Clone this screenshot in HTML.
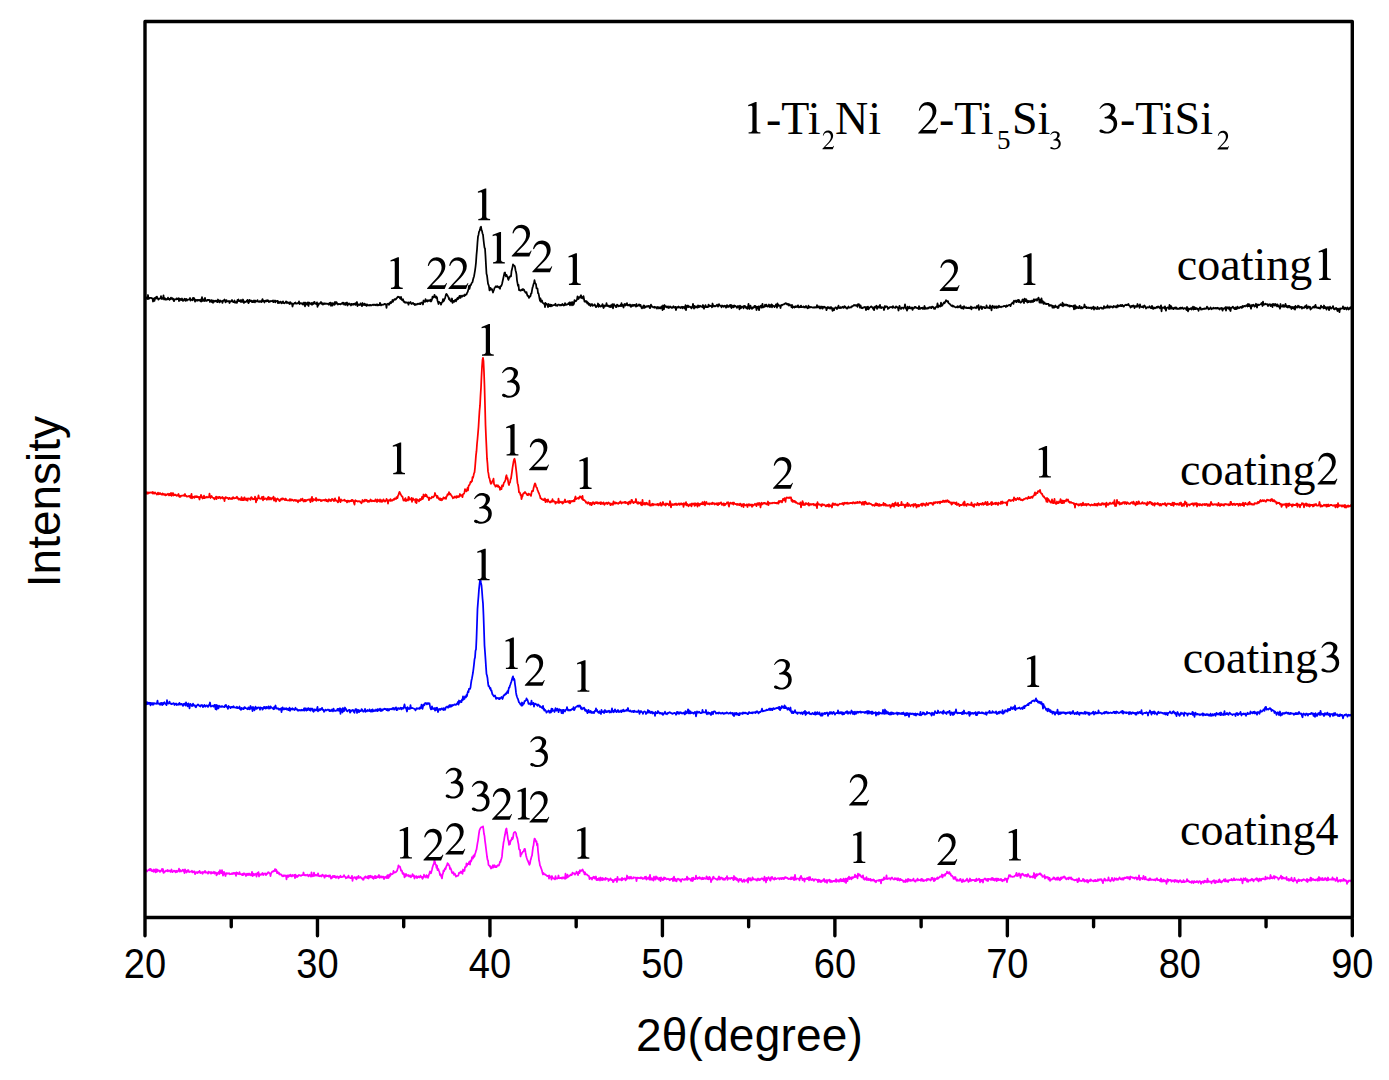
<!DOCTYPE html>
<html><head><meta charset="utf-8"><style>
html,body{margin:0;padding:0;background:#fff;width:1389px;height:1080px;overflow:hidden}
svg{display:block}
.sf{font-family:"Liberation Serif",serif;font-size:46px;fill:#000}
.ss{font-family:"Liberation Sans",sans-serif;fill:#000}
</style></head><body>
<svg width="1389" height="1080" viewBox="0 0 1389 1080">
<path d="M145.0,298.2 145.5,299.1 146.0,298.6 146.5,297.5 147.0,297.7 147.5,299.0 148.0,295.0 148.5,298.8 149.0,298.8 149.5,298.1 150.0,297.9 150.5,297.8 151.0,297.8 151.5,298.2 152.0,298.3 152.5,298.4 153.0,301.5 153.5,298.9 154.0,298.5 154.5,300.9 155.0,297.8 155.5,297.6 156.0,298.6 156.5,296.8 157.0,296.7 157.5,298.5 158.0,298.4 158.5,299.7 159.0,298.7 159.5,298.6 160.0,298.6 160.5,298.1 161.0,296.1 161.5,298.0 162.0,299.0 162.5,298.1 163.0,298.5 163.5,295.4 164.0,299.5 164.5,298.0 165.0,298.3 165.5,299.7 166.0,298.8 166.5,299.6 167.0,299.1 167.5,299.3 168.0,297.7 168.5,299.0 169.0,298.9 169.5,299.9 170.0,298.7 170.5,299.1 171.0,297.6 171.5,298.8 172.0,298.7 172.5,298.2 173.0,299.7 173.5,298.9 174.0,301.2 174.5,299.3 175.0,299.3 175.5,299.4 176.0,299.5 176.5,298.4 177.0,299.1 177.5,298.7 178.0,299.1 178.5,298.2 179.0,301.2 179.5,298.7 180.0,299.6 180.5,299.0 181.0,300.3 181.5,299.7 182.0,298.5 182.5,300.2 183.0,300.9 183.5,300.6 184.0,299.6 184.5,298.7 185.0,298.9 185.5,300.9 186.0,299.6 186.5,298.9 187.0,300.6 187.5,299.8 188.0,299.7 188.5,299.5 189.0,299.5 189.5,299.2 190.0,298.0 190.5,300.7 191.0,299.7 191.5,299.8 192.0,299.5 192.5,300.3 193.0,297.8 193.5,299.7 194.0,298.0 194.5,298.9 195.0,301.7 195.5,300.2 196.0,299.8 196.5,300.0 197.0,300.9 197.5,299.8 198.0,300.2 198.5,300.4 199.0,299.8 199.5,300.1 200.0,300.6 200.5,301.3 201.0,299.3 201.5,301.5 202.0,297.1 202.5,300.7 203.0,300.9 203.5,299.4 204.0,300.1 204.5,301.0 205.0,297.9 205.5,300.5 206.0,300.9 206.5,300.4 207.0,300.8 207.5,299.9 208.0,299.8 208.5,300.2 209.0,299.8 209.5,300.2 210.0,302.0 210.5,300.6 211.0,300.3 211.5,300.1 212.0,302.2 212.5,300.5 213.0,302.8 213.5,300.7 214.0,300.7 214.5,301.7 215.0,301.1 215.5,300.8 216.0,300.6 216.5,301.7 217.0,300.6 217.5,302.1 218.0,299.5 218.5,300.7 219.0,300.9 219.5,302.4 220.0,300.4 220.5,301.6 221.0,301.2 221.5,301.3 222.0,301.2 222.5,302.9 223.0,300.7 223.5,300.9 224.0,300.5 224.5,299.5 225.0,300.5 225.5,302.3 226.0,301.9 226.5,300.2 227.0,301.3 227.5,301.2 228.0,301.4 228.5,301.5 229.0,300.9 229.5,303.0 230.0,301.3 230.5,301.5 231.0,301.6 231.5,300.7 232.0,300.0 232.5,301.3 233.0,301.9 233.5,302.1 234.0,301.9 234.5,300.5 235.0,302.7 235.5,302.1 236.0,302.5 236.5,301.6 237.0,302.8 237.5,300.0 238.0,299.7 238.5,299.5 239.0,301.2 239.5,301.2 240.0,301.0 240.5,301.8 241.0,299.9 241.5,301.8 242.0,300.9 242.5,301.9 243.0,299.5 243.5,301.3 244.0,303.0 244.5,301.6 245.0,302.2 245.5,301.8 246.0,301.7 246.5,300.9 247.0,301.6 247.5,299.8 248.0,302.1 248.5,303.2 249.0,302.3 249.5,299.9 250.0,301.2 250.5,301.1 251.0,300.4 251.5,301.6 252.0,302.0 252.5,301.0 253.0,302.2 253.5,301.9 254.0,300.4 254.5,301.8 255.0,302.3 255.5,300.6 256.0,301.4 256.5,301.5 257.0,301.4 257.5,300.1 258.0,301.5 258.5,301.4 259.0,301.9 259.5,301.8 260.0,300.9 260.5,301.5 261.0,302.0 261.5,302.1 262.0,300.3 262.5,299.1 263.0,301.3 263.5,300.5 264.0,301.1 264.5,302.5 265.0,300.8 265.5,300.6 266.0,301.0 266.5,301.4 267.0,300.1 267.5,301.0 268.0,300.3 268.5,301.5 269.0,302.1 269.5,301.2 270.0,301.2 270.5,301.5 271.0,300.9 271.5,301.0 272.0,301.3 272.5,301.5 273.0,300.4 273.5,302.2 274.0,301.8 274.5,301.4 275.0,300.5 275.5,302.3 276.0,301.0 276.5,301.0 277.0,301.1 277.5,300.8 278.0,303.2 278.5,301.7 279.0,301.8 279.5,302.9 280.0,302.4 280.5,301.6 281.0,302.2 281.5,303.3 282.0,302.2 282.5,302.8 283.0,301.3 283.5,302.9 284.0,303.1 284.5,303.3 285.0,302.9 285.5,302.4 286.0,301.3 286.5,302.7 287.0,303.2 287.5,302.1 288.0,302.4 288.5,302.9 289.0,303.4 289.5,304.0 290.0,302.1 290.5,302.3 291.0,303.6 291.5,303.3 292.0,303.4 292.5,306.5 293.0,304.5 293.5,303.9 294.0,303.7 294.5,303.0 295.0,303.4 295.5,302.5 296.0,303.7 296.5,303.7 297.0,303.6 297.5,303.1 298.0,303.0 298.5,303.1 299.0,301.4 299.5,304.1 300.0,303.3 300.5,303.1 301.0,303.4 301.5,303.7 302.0,303.2 302.5,304.1 303.0,304.6 303.5,303.2 304.0,302.5 304.5,303.9 305.0,306.3 305.5,302.6 306.0,303.8 306.5,304.2 307.0,304.7 307.5,302.5 308.0,302.4 308.5,306.0 309.0,302.6 309.5,302.8 310.0,303.7 310.5,303.5 311.0,304.1 311.5,303.0 312.0,304.8 312.5,303.1 313.0,304.2 313.5,302.3 314.0,303.6 314.5,301.8 315.0,303.4 315.5,303.4 316.0,304.1 316.5,303.7 317.0,302.3 317.5,306.9 318.0,304.8 318.5,305.0 319.0,303.3 319.5,303.7 320.0,303.3 320.5,302.9 321.0,302.0 321.5,303.9 322.0,303.0 322.5,303.2 323.0,304.7 323.5,303.8 324.0,303.2 324.5,304.1 325.0,303.4 325.5,303.9 326.0,303.4 326.5,303.8 327.0,304.0 327.5,303.8 328.0,303.6 328.5,304.3 329.0,304.7 329.5,303.0 330.0,302.8 330.5,302.7 331.0,305.9 331.5,305.1 332.0,303.2 332.5,305.6 333.0,303.1 333.5,303.6 334.0,303.6 334.5,304.8 335.0,301.9 335.5,303.3 336.0,303.7 336.5,302.2 337.0,303.1 337.5,303.5 338.0,304.5 338.5,304.0 339.0,304.2 339.5,304.0 340.0,303.9 340.5,304.3 341.0,303.8 341.5,303.9 342.0,303.1 342.5,302.7 343.0,303.9 343.5,302.7 344.0,304.6 344.5,303.6 345.0,303.2 345.5,304.9 346.0,302.8 346.5,303.6 347.0,302.5 347.5,305.5 348.0,303.8 348.5,304.4 349.0,303.4 349.5,304.4 350.0,304.2 350.5,304.1 351.0,305.5 351.5,303.8 352.0,303.9 352.5,304.3 353.0,304.8 353.5,303.8 354.0,304.4 354.5,303.6 355.0,304.3 355.5,304.8 356.0,302.9 356.5,304.7 357.0,302.0 357.5,306.1 358.0,304.4 358.5,304.3 359.0,304.9 359.5,304.6 360.0,305.0 360.5,303.4 361.0,304.7 361.5,304.8 362.0,306.1 362.5,303.0 363.0,304.7 363.5,305.0 364.0,304.9 364.5,303.6 365.0,305.1 365.5,304.4 366.0,304.4 366.5,305.9 367.0,304.3 367.5,304.9 368.0,305.4 368.5,305.3 369.0,305.0 369.5,305.5 370.0,304.8 370.5,305.1 371.0,305.5 371.5,305.1 372.0,305.1 372.5,304.7 373.0,304.9 373.5,304.6 374.0,305.2 374.5,304.6 375.0,304.7 375.5,305.2 376.0,304.7 376.5,304.4 377.0,305.4 377.5,304.5 378.0,305.4 378.5,305.2 379.0,304.6 379.5,305.0 380.0,302.8 380.5,304.4 381.0,305.4 381.5,304.7 382.0,304.6 382.5,304.8 383.0,304.8 383.5,304.6 384.0,304.4 384.5,303.8 385.0,304.1 385.5,304.1 386.0,304.3 386.5,307.9 387.0,304.2 387.5,304.0 388.0,303.6 388.5,303.7 389.0,304.8 389.5,304.0 390.0,302.5 390.5,302.0 391.0,303.1 391.5,301.8 392.0,301.9 392.5,300.0 393.0,301.8 393.5,300.2 394.0,300.1 394.5,299.1 395.0,299.2 395.5,299.6 396.0,299.2 396.5,298.1 397.0,298.2 397.5,297.2 398.0,296.7 398.5,297.2 399.0,296.8 399.5,297.3 400.0,298.3 400.5,298.7 401.0,296.9 401.5,299.3 402.0,300.1 402.5,299.9 403.0,299.2 403.5,301.5 404.0,301.2 404.5,302.5 405.0,302.2 405.5,302.7 406.0,302.1 406.5,302.6 407.0,302.8 407.5,303.0 408.0,302.3 408.5,304.7 409.0,302.7 409.5,302.8 410.0,302.8 410.5,302.0 411.0,303.3 411.5,304.0 412.0,303.9 412.5,303.0 413.0,302.9 413.5,303.5 414.0,304.4 414.5,303.9 415.0,305.2 415.5,304.2 416.0,304.2 416.5,304.5 417.0,304.5 417.5,303.8 418.0,303.7 418.5,304.0 419.0,304.1 419.5,303.3 420.0,304.1 420.5,304.2 421.0,302.8 421.5,302.6 422.0,302.5 422.5,302.6 423.0,304.5 423.5,300.5 424.0,301.6 424.5,301.3 425.0,301.8 425.5,299.2 426.0,301.3 426.5,300.3 427.0,300.6 427.5,301.5 428.0,300.1 428.5,300.9 429.0,300.5 429.5,300.4 430.0,301.1 430.5,299.6 431.0,301.5 431.5,300.8 432.0,299.3 432.5,296.7 433.0,297.8 433.5,297.0 434.0,296.7 434.5,294.8 435.0,297.2 435.5,297.5 436.0,296.4 436.5,298.0 437.0,297.3 437.5,300.8 438.0,302.1 438.5,304.0 439.0,301.9 439.5,302.4 440.0,302.7 440.5,302.9 441.0,304.7 441.5,303.2 442.0,302.2 442.5,302.0 443.0,299.2 443.5,301.3 444.0,300.7 444.5,299.1 445.0,298.4 445.5,296.4 446.0,294.4 446.5,293.9 447.0,294.8 447.5,295.5 448.0,296.4 448.5,297.2 449.0,299.3 449.5,298.2 450.0,300.4 450.5,300.2 451.0,301.4 451.5,301.1 452.0,298.5 452.5,302.9 453.0,301.5 453.5,300.8 454.0,301.9 454.5,301.2 455.0,300.0 455.5,299.8 456.0,301.3 456.5,299.1 457.0,299.6 457.5,298.0 458.0,299.3 458.5,297.3 459.0,298.0 459.5,295.9 460.0,297.5 460.5,297.9 461.0,295.6 461.5,296.1 462.0,296.8 462.5,296.2 463.0,295.5 463.5,295.8 464.0,295.3 464.5,296.0 465.0,294.5 465.5,295.1 466.0,294.6 466.5,294.5 467.0,293.0 467.5,292.3 468.0,290.9 468.5,289.0 469.0,285.9 469.5,288.8 470.0,286.6 470.5,284.8 471.0,284.9 471.5,283.3 472.0,282.7 472.5,282.1 473.0,279.7 473.5,277.9 474.0,276.5 474.5,273.6 475.0,270.6 475.5,267.0 476.0,262.3 476.5,254.9 477.0,249.6 477.5,242.3 478.0,236.6 478.5,234.9 479.0,231.8 479.5,230.8 480.0,229.6 480.5,227.3 481.0,226.7 481.5,230.0 482.0,230.9 482.5,233.5 483.0,234.7 483.5,239.7 484.0,244.0 484.5,247.7 485.0,248.4 485.5,256.1 486.0,265.3 486.5,273.8 487.0,275.4 487.5,279.7 488.0,283.6 488.5,284.8 489.0,286.6 489.5,290.4 490.0,288.8 490.5,287.8 491.0,289.6 491.5,289.2 492.0,289.1 492.5,290.7 493.0,292.5 493.5,290.8 494.0,289.8 494.5,288.1 495.0,287.4 495.5,286.6 496.0,286.2 496.5,287.0 497.0,286.7 497.5,286.2 498.0,287.2 498.5,287.3 499.0,286.9 499.5,288.0 500.0,288.8 500.5,286.2 501.0,286.2 501.5,285.5 502.0,284.0 502.5,281.8 503.0,279.5 503.5,277.2 504.0,274.9 504.5,272.8 505.0,272.5 505.5,275.1 506.0,276.4 506.5,274.9 507.0,276.2 507.5,276.7 508.0,278.9 508.5,279.9 509.0,277.5 509.5,277.8 510.0,276.4 510.5,276.0 511.0,276.3 511.5,271.3 512.0,269.2 512.5,267.1 513.0,264.4 513.5,265.6 514.0,265.7 514.5,265.7 515.0,267.0 515.5,270.2 516.0,271.9 516.5,274.6 517.0,280.3 517.5,283.1 518.0,285.9 518.5,284.8 519.0,290.1 519.5,289.6 520.0,290.4 520.5,290.7 521.0,290.4 521.5,289.7 522.0,289.6 522.5,290.1 523.0,289.0 523.5,289.9 524.0,289.6 524.5,291.1 525.0,291.7 525.5,292.7 526.0,292.9 526.5,292.1 527.0,294.4 527.5,295.8 528.0,295.6 528.5,296.6 529.0,297.9 529.5,296.4 530.0,296.6 530.5,296.0 531.0,293.6 531.5,293.4 532.0,290.3 532.5,287.6 533.0,286.2 533.5,284.2 534.0,283.1 534.5,280.1 535.0,282.7 535.5,283.7 536.0,284.2 536.5,288.4 537.0,288.2 537.5,288.7 538.0,293.2 538.5,293.4 539.0,295.7 539.5,298.6 540.0,300.9 540.5,298.3 541.0,301.9 541.5,301.5 542.0,300.5 542.5,302.6 543.0,303.0 543.5,303.3 544.0,303.8 544.5,303.7 545.0,307.1 545.5,302.9 546.0,304.5 546.5,303.8 547.0,304.6 547.5,305.2 548.0,307.1 548.5,304.0 549.0,304.4 549.5,306.1 550.0,306.2 550.5,304.7 551.0,306.4 551.5,304.9 552.0,305.0 552.5,305.8 553.0,305.2 553.5,305.2 554.0,305.1 554.5,305.1 555.0,304.4 555.5,303.8 556.0,305.7 556.5,305.3 557.0,305.4 557.5,305.8 558.0,304.6 558.5,304.6 559.0,304.7 559.5,304.8 560.0,305.6 560.5,304.9 561.0,304.8 561.5,305.2 562.0,304.4 562.5,304.0 563.0,305.3 563.5,305.5 564.0,304.6 564.5,305.2 565.0,303.1 565.5,304.8 566.0,305.0 566.5,304.3 567.0,304.3 567.5,304.5 568.0,304.3 568.5,303.2 569.0,304.2 569.5,302.4 570.0,305.3 570.5,302.6 571.0,302.6 571.5,302.3 572.0,305.4 572.5,302.1 573.0,302.5 573.5,304.8 574.0,303.5 574.5,300.1 575.0,301.5 575.5,301.3 576.0,301.1 576.5,300.1 577.0,299.7 577.5,296.4 578.0,297.5 578.5,299.0 579.0,297.2 579.5,297.5 580.0,297.5 580.5,296.1 581.0,295.2 581.5,298.0 582.0,297.0 582.5,297.0 583.0,298.5 583.5,296.1 584.0,298.8 584.5,301.6 585.0,301.6 585.5,301.5 586.0,300.9 586.5,302.5 587.0,301.6 587.5,303.7 588.0,302.6 588.5,303.8 589.0,305.0 589.5,303.7 590.0,304.1 590.5,306.0 591.0,304.7 591.5,304.8 592.0,303.9 592.5,305.8 593.0,305.5 593.5,305.4 594.0,305.5 594.5,304.3 595.0,305.0 595.5,305.7 596.0,307.2 596.5,306.4 597.0,306.0 597.5,305.8 598.0,303.5 598.5,306.9 599.0,304.6 599.5,305.1 600.0,306.3 600.5,306.6 601.0,306.5 601.5,305.9 602.0,305.2 602.5,304.1 603.0,306.7 603.5,308.0 604.0,305.4 604.5,306.8 605.0,305.7 605.5,305.6 606.0,305.9 606.5,303.1 607.0,305.8 607.5,305.2 608.0,306.2 608.5,305.8 609.0,306.7 609.5,306.9 610.0,305.5 610.5,305.4 611.0,307.2 611.5,305.8 612.0,304.6 612.5,304.1 613.0,308.4 613.5,305.8 614.0,304.2 614.5,305.7 615.0,305.7 615.5,305.6 616.0,307.2 616.5,307.2 617.0,304.7 617.5,304.8 618.0,305.5 618.5,306.4 619.0,305.8 619.5,306.0 620.0,305.7 620.5,305.0 621.0,306.2 621.5,303.1 622.0,305.9 622.5,304.9 623.0,305.4 623.5,307.5 624.0,305.5 624.5,304.0 625.0,305.3 625.5,305.6 626.0,303.9 626.5,304.9 627.0,303.1 627.5,305.4 628.0,305.1 628.5,305.3 629.0,304.9 629.5,305.5 630.0,304.5 630.5,306.3 631.0,306.9 631.5,305.1 632.0,305.1 632.5,306.0 633.0,304.7 633.5,305.8 634.0,304.8 634.5,305.7 635.0,305.0 635.5,305.5 636.0,306.7 636.5,304.0 637.0,306.2 637.5,305.6 638.0,305.5 638.5,305.5 639.0,304.4 639.5,305.4 640.0,306.1 640.5,304.8 641.0,306.3 641.5,307.8 642.0,308.3 642.5,307.2 643.0,306.8 643.5,305.5 644.0,308.2 644.5,305.7 645.0,307.3 645.5,307.4 646.0,306.7 646.5,306.6 647.0,306.0 647.5,306.7 648.0,306.4 648.5,305.9 649.0,305.9 649.5,307.5 650.0,308.2 650.5,306.2 651.0,304.6 651.5,306.7 652.0,306.3 652.5,306.6 653.0,307.4 653.5,307.2 654.0,307.3 654.5,306.8 655.0,307.8 655.5,307.1 656.0,307.3 656.5,307.4 657.0,308.6 657.5,307.0 658.0,307.8 658.5,307.1 659.0,308.5 659.5,307.3 660.0,307.4 660.5,308.4 661.0,307.7 661.5,306.3 662.0,306.5 662.5,310.1 663.0,305.5 663.5,307.0 664.0,309.1 664.5,305.0 665.0,306.6 665.5,306.8 666.0,306.2 666.5,307.3 667.0,307.5 667.5,307.0 668.0,306.3 668.5,308.0 669.0,307.9 669.5,307.4 670.0,306.4 670.5,307.3 671.0,307.5 671.5,307.2 672.0,308.1 672.5,307.1 673.0,307.3 673.5,306.2 674.0,307.3 674.5,307.7 675.0,307.6 675.5,306.8 676.0,310.0 676.5,307.6 677.0,307.1 677.5,307.1 678.0,307.7 678.5,306.5 679.0,307.4 679.5,307.5 680.0,307.2 680.5,308.1 681.0,307.1 681.5,307.1 682.0,306.7 682.5,308.3 683.0,306.8 683.5,307.4 684.0,307.0 684.5,308.5 685.0,308.6 685.5,305.2 686.0,310.1 686.5,307.2 687.0,305.8 687.5,307.0 688.0,305.5 688.5,307.1 689.0,306.4 689.5,306.8 690.0,306.7 690.5,307.2 691.0,307.7 691.5,308.4 692.0,306.7 692.5,307.0 693.0,303.9 693.5,306.7 694.0,308.6 694.5,305.9 695.0,307.7 695.5,307.0 696.0,306.4 696.5,307.3 697.0,306.3 697.5,307.7 698.0,305.4 698.5,305.7 699.0,307.1 699.5,306.5 700.0,305.7 700.5,306.6 701.0,306.2 701.5,306.6 702.0,306.9 702.5,307.3 703.0,305.0 703.5,306.5 704.0,308.7 704.5,306.3 705.0,306.8 705.5,305.2 706.0,307.2 706.5,306.4 707.0,307.2 707.5,306.8 708.0,307.1 708.5,304.7 709.0,306.5 709.5,305.5 710.0,305.7 710.5,305.8 711.0,306.2 711.5,306.2 712.0,307.3 712.5,303.5 713.0,305.3 713.5,305.7 714.0,306.6 714.5,305.9 715.0,305.9 715.5,306.3 716.0,306.0 716.5,305.4 717.0,304.6 717.5,305.7 718.0,306.7 718.5,305.8 719.0,304.1 719.5,305.5 720.0,305.4 720.5,305.8 721.0,305.8 721.5,307.3 722.0,305.5 722.5,305.6 723.0,306.0 723.5,306.8 724.0,306.2 724.5,305.8 725.0,306.6 725.5,305.9 726.0,307.7 726.5,305.6 727.0,305.1 727.5,306.8 728.0,305.7 728.5,306.9 729.0,306.3 729.5,306.2 730.0,305.0 730.5,306.8 731.0,304.9 731.5,308.1 732.0,307.3 732.5,306.0 733.0,305.5 733.5,307.4 734.0,306.4 734.5,305.5 735.0,306.5 735.5,306.1 736.0,306.4 736.5,306.8 737.0,307.8 737.5,307.3 738.0,305.9 738.5,306.7 739.0,306.7 739.5,309.4 740.0,305.6 740.5,306.9 741.0,308.1 741.5,306.8 742.0,306.5 742.5,307.0 743.0,306.7 743.5,308.3 744.0,305.9 744.5,306.5 745.0,305.9 745.5,307.5 746.0,306.8 746.5,308.3 747.0,308.3 747.5,308.7 748.0,306.8 748.5,303.8 749.0,307.1 749.5,309.0 750.0,307.7 750.5,305.7 751.0,307.5 751.5,308.3 752.0,308.9 752.5,307.4 753.0,307.9 753.5,307.8 754.0,306.7 754.5,305.8 755.0,307.3 755.5,306.0 756.0,306.7 756.5,310.0 757.0,306.9 757.5,306.8 758.0,308.3 758.5,306.3 759.0,310.2 759.5,307.8 760.0,306.4 760.5,306.3 761.0,305.6 761.5,307.7 762.0,305.8 762.5,303.8 763.0,307.5 763.5,306.6 764.0,306.7 764.5,306.8 765.0,304.7 765.5,305.2 766.0,306.3 766.5,304.7 767.0,306.2 767.5,306.6 768.0,306.4 768.5,306.3 769.0,304.5 769.5,305.6 770.0,307.1 770.5,305.1 771.0,306.1 771.5,304.4 772.0,307.4 772.5,305.2 773.0,305.8 773.5,305.9 774.0,306.2 774.5,307.2 775.0,306.2 775.5,305.5 776.0,304.4 776.5,306.1 777.0,307.6 777.5,303.4 778.0,306.2 778.5,304.9 779.0,305.5 779.5,305.6 780.0,305.7 780.5,308.0 781.0,305.5 781.5,304.9 782.0,305.3 782.5,304.8 783.0,304.6 783.5,304.3 784.0,304.4 784.5,303.9 785.0,303.7 785.5,303.2 786.0,303.8 786.5,303.4 787.0,304.4 787.5,304.6 788.0,303.8 788.5,304.4 789.0,305.6 789.5,304.4 790.0,305.0 790.5,305.0 791.0,305.6 791.5,307.2 792.0,304.9 792.5,307.8 793.0,306.4 793.5,307.0 794.0,306.8 794.5,307.5 795.0,306.3 795.5,307.0 796.0,306.2 796.5,306.7 797.0,307.0 797.5,306.1 798.0,305.3 798.5,307.4 799.0,307.4 799.5,307.1 800.0,306.5 800.5,307.1 801.0,305.6 801.5,307.1 802.0,307.0 802.5,307.1 803.0,306.8 803.5,306.4 804.0,307.4 804.5,306.9 805.0,307.5 805.5,306.8 806.0,305.9 806.5,307.1 807.0,307.3 807.5,308.3 808.0,308.1 808.5,305.7 809.0,307.7 809.5,306.7 810.0,307.5 810.5,307.0 811.0,306.9 811.5,307.2 812.0,307.3 812.5,307.6 813.0,307.5 813.5,307.6 814.0,307.1 814.5,307.6 815.0,307.1 815.5,307.5 816.0,307.3 816.5,307.5 817.0,305.2 817.5,307.4 818.0,306.9 818.5,307.3 819.0,306.2 819.5,307.8 820.0,308.6 820.5,307.3 821.0,306.5 821.5,307.8 822.0,306.7 822.5,308.7 823.0,306.7 823.5,307.4 824.0,307.7 824.5,306.7 825.0,307.4 825.5,307.3 826.0,308.1 826.5,310.2 827.0,307.6 827.5,308.4 828.0,307.0 828.5,308.0 829.0,307.8 829.5,307.5 830.0,308.6 830.5,308.4 831.0,307.0 831.5,307.6 832.0,308.7 832.5,310.8 833.0,308.2 833.5,308.9 834.0,310.3 834.5,308.4 835.0,308.1 835.5,307.3 836.0,307.6 836.5,308.0 837.0,309.1 837.5,307.4 838.0,307.6 838.5,305.6 839.0,308.0 839.5,307.5 840.0,308.2 840.5,307.1 841.0,307.8 841.5,307.8 842.0,307.4 842.5,306.8 843.0,307.3 843.5,307.9 844.0,306.7 844.5,306.2 845.0,307.3 845.5,306.8 846.0,307.9 846.5,307.9 847.0,308.7 847.5,307.9 848.0,307.4 848.5,306.5 849.0,307.8 849.5,307.5 850.0,307.5 850.5,307.3 851.0,307.5 851.5,306.3 852.0,306.7 852.5,306.3 853.0,305.8 853.5,305.6 854.0,304.9 854.5,305.5 855.0,305.2 855.5,305.1 856.0,305.8 856.5,305.1 857.0,305.0 857.5,306.8 858.0,304.1 858.5,305.0 859.0,304.2 859.5,305.6 860.0,307.7 860.5,305.3 861.0,307.3 861.5,308.1 862.0,307.6 862.5,308.2 863.0,307.5 863.5,307.4 864.0,307.6 864.5,306.9 865.0,307.2 865.5,307.2 866.0,310.1 866.5,307.3 867.0,307.0 867.5,309.0 868.0,306.7 868.5,309.3 869.0,308.4 869.5,307.8 870.0,307.4 870.5,306.9 871.0,306.5 871.5,306.4 872.0,307.3 872.5,307.4 873.0,308.8 873.5,307.5 874.0,310.2 874.5,307.9 875.0,306.6 875.5,307.5 876.0,306.7 876.5,305.7 877.0,308.9 877.5,307.2 878.0,306.8 878.5,306.4 879.0,307.7 879.5,307.4 880.0,304.9 880.5,307.8 881.0,307.0 881.5,308.0 882.0,307.4 882.5,307.4 883.0,307.3 883.5,307.7 884.0,310.0 884.5,308.0 885.0,306.0 885.5,307.3 886.0,306.8 886.5,306.3 887.0,306.7 887.5,306.9 888.0,309.0 888.5,307.8 889.0,308.1 889.5,307.7 890.0,307.0 890.5,307.1 891.0,307.2 891.5,307.0 892.0,307.2 892.5,307.9 893.0,306.1 893.5,307.0 894.0,307.4 894.5,307.7 895.0,307.7 895.5,307.9 896.0,306.4 896.5,306.8 897.0,307.2 897.5,307.2 898.0,308.0 898.5,310.5 899.0,307.9 899.5,305.8 900.0,307.3 900.5,308.3 901.0,309.0 901.5,307.8 902.0,307.5 902.5,307.5 903.0,308.0 903.5,308.7 904.0,307.5 904.5,307.2 905.0,304.3 905.5,307.0 906.0,308.7 906.5,308.1 907.0,310.6 907.5,306.6 908.0,307.7 908.5,308.6 909.0,308.2 909.5,306.6 910.0,307.9 910.5,308.3 911.0,308.4 911.5,308.0 912.0,307.4 912.5,309.9 913.0,308.1 913.5,308.5 914.0,308.2 914.5,307.0 915.0,307.7 915.5,306.8 916.0,307.6 916.5,307.6 917.0,308.2 917.5,308.0 918.0,308.1 918.5,309.0 919.0,306.2 919.5,307.3 920.0,309.0 920.5,308.4 921.0,308.2 921.5,307.8 922.0,308.3 922.5,307.6 923.0,309.0 923.5,308.8 924.0,307.7 924.5,306.0 925.0,309.0 925.5,307.6 926.0,308.1 926.5,308.7 927.0,308.4 927.5,308.6 928.0,307.7 928.5,308.4 929.0,307.5 929.5,307.1 930.0,307.5 930.5,307.2 931.0,307.9 931.5,308.1 932.0,306.5 932.5,306.5 933.0,307.1 933.5,307.1 934.0,308.8 934.5,308.5 935.0,308.9 935.5,307.4 936.0,307.3 936.5,306.5 937.0,306.7 937.5,303.3 938.0,307.5 938.5,306.3 939.0,305.4 939.5,306.3 940.0,306.3 940.5,306.5 941.0,302.6 941.5,304.7 942.0,305.8 942.5,305.1 943.0,304.0 943.5,303.4 944.0,302.3 944.5,303.3 945.0,302.4 945.5,301.5 946.0,300.2 946.5,300.5 947.0,301.4 947.5,301.8 948.0,301.1 948.5,302.9 949.0,303.5 949.5,303.7 950.0,304.3 950.5,304.7 951.0,305.3 951.5,306.0 952.0,305.9 952.5,305.4 953.0,306.7 953.5,306.2 954.0,306.2 954.5,306.8 955.0,307.0 955.5,307.4 956.0,307.3 956.5,307.1 957.0,307.3 957.5,306.2 958.0,307.4 958.5,306.7 959.0,306.8 959.5,306.4 960.0,307.3 960.5,305.4 961.0,307.9 961.5,308.2 962.0,308.4 962.5,307.0 963.0,308.2 963.5,308.8 964.0,306.2 964.5,307.3 965.0,307.5 965.5,307.9 966.0,307.2 966.5,308.0 967.0,307.7 967.5,308.2 968.0,308.0 968.5,308.2 969.0,307.4 969.5,308.2 970.0,308.3 970.5,308.3 971.0,306.5 971.5,309.3 972.0,307.9 972.5,307.4 973.0,307.7 973.5,307.8 974.0,307.8 974.5,307.3 975.0,307.3 975.5,307.6 976.0,308.3 976.5,307.7 977.0,306.0 977.5,307.7 978.0,307.1 978.5,305.2 979.0,309.8 979.5,307.3 980.0,307.7 980.5,307.5 981.0,306.2 981.5,308.7 982.0,309.0 982.5,307.0 983.0,307.5 983.5,307.4 984.0,306.9 984.5,307.9 985.0,308.2 985.5,308.1 986.0,307.9 986.5,305.3 987.0,307.0 987.5,307.6 988.0,307.9 988.5,307.4 989.0,307.4 989.5,308.3 990.0,305.4 990.5,307.0 991.0,307.1 991.5,310.3 992.0,306.8 992.5,305.7 993.0,307.2 993.5,307.5 994.0,306.4 994.5,308.0 995.0,306.5 995.5,307.5 996.0,306.3 996.5,308.0 997.0,306.4 997.5,307.4 998.0,307.7 998.5,306.5 999.0,305.7 999.5,307.0 1000.0,306.8 1000.5,306.7 1001.0,307.3 1001.5,306.7 1002.0,306.7 1002.5,306.6 1003.0,306.5 1003.5,306.4 1004.0,305.8 1004.5,306.1 1005.0,306.0 1005.5,306.0 1006.0,307.0 1006.5,305.4 1007.0,305.7 1007.5,306.2 1008.0,305.5 1008.5,305.0 1009.0,305.0 1009.5,304.9 1010.0,304.9 1010.5,306.2 1011.0,304.8 1011.5,303.5 1012.0,303.2 1012.5,302.8 1013.0,302.2 1013.5,303.9 1014.0,300.7 1014.5,301.1 1015.0,301.6 1015.5,301.2 1016.0,300.4 1016.5,302.2 1017.0,300.8 1017.5,301.1 1018.0,299.8 1018.5,302.0 1019.0,300.0 1019.5,300.9 1020.0,302.1 1020.5,302.7 1021.0,302.3 1021.5,302.0 1022.0,300.8 1022.5,299.5 1023.0,301.3 1023.5,300.0 1024.0,303.2 1024.5,298.7 1025.0,301.2 1025.5,301.0 1026.0,299.2 1026.5,301.5 1027.0,300.2 1027.5,302.5 1028.0,301.6 1028.5,301.0 1029.0,302.0 1029.5,301.7 1030.0,300.8 1030.5,301.8 1031.0,302.2 1031.5,301.0 1032.0,300.5 1032.5,301.8 1033.0,302.1 1033.5,300.3 1034.0,299.2 1034.5,301.1 1035.0,300.3 1035.5,299.4 1036.0,299.9 1036.5,299.3 1037.0,300.7 1037.5,299.1 1038.0,298.5 1038.5,297.6 1039.0,299.4 1039.5,302.6 1040.0,299.7 1040.5,300.6 1041.0,302.9 1041.5,298.4 1042.0,301.3 1042.5,302.6 1043.0,301.2 1043.5,303.9 1044.0,303.7 1044.5,302.4 1045.0,303.6 1045.5,303.7 1046.0,304.1 1046.5,303.6 1047.0,304.0 1047.5,303.8 1048.0,304.1 1048.5,303.9 1049.0,305.9 1049.5,305.9 1050.0,304.9 1050.5,305.6 1051.0,305.4 1051.5,305.2 1052.0,305.5 1052.5,307.7 1053.0,305.8 1053.5,306.3 1054.0,307.8 1054.5,306.2 1055.0,307.2 1055.5,305.5 1056.0,306.8 1056.5,306.9 1057.0,306.9 1057.5,308.0 1058.0,306.3 1058.5,307.9 1059.0,305.3 1059.5,305.6 1060.0,304.9 1060.5,304.2 1061.0,305.2 1061.5,305.5 1062.0,305.6 1062.5,302.6 1063.0,306.3 1063.5,304.2 1064.0,304.2 1064.5,305.2 1065.0,305.5 1065.5,305.0 1066.0,304.4 1066.5,304.8 1067.0,305.7 1067.5,304.8 1068.0,305.8 1068.5,305.9 1069.0,305.4 1069.5,306.6 1070.0,305.5 1070.5,306.3 1071.0,306.2 1071.5,305.8 1072.0,306.2 1072.5,306.5 1073.0,306.5 1073.5,305.6 1074.0,309.4 1074.5,308.6 1075.0,305.2 1075.5,308.6 1076.0,307.2 1076.5,306.4 1077.0,308.0 1077.5,307.2 1078.0,307.7 1078.5,308.1 1079.0,307.4 1079.5,305.8 1080.0,308.1 1080.5,307.8 1081.0,308.6 1081.5,307.0 1082.0,308.1 1082.5,308.4 1083.0,307.3 1083.5,307.4 1084.0,307.3 1084.5,304.5 1085.0,307.1 1085.5,307.3 1086.0,306.6 1086.5,308.1 1087.0,307.5 1087.5,307.8 1088.0,307.3 1088.5,307.5 1089.0,308.2 1089.5,307.7 1090.0,307.9 1090.5,307.6 1091.0,307.9 1091.5,308.9 1092.0,307.4 1092.5,307.8 1093.0,308.2 1093.5,306.7 1094.0,309.6 1094.5,307.9 1095.0,307.4 1095.5,308.4 1096.0,308.6 1096.5,308.2 1097.0,309.2 1097.5,306.8 1098.0,308.0 1098.5,308.4 1099.0,309.1 1099.5,308.1 1100.0,308.0 1100.5,307.6 1101.0,307.8 1101.5,307.7 1102.0,308.7 1102.5,308.3 1103.0,307.9 1103.5,308.7 1104.0,306.1 1104.5,307.9 1105.0,307.3 1105.5,307.7 1106.0,306.9 1106.5,307.1 1107.0,307.8 1107.5,305.3 1108.0,306.7 1108.5,307.0 1109.0,307.8 1109.5,306.5 1110.0,307.5 1110.5,306.3 1111.0,306.4 1111.5,306.8 1112.0,306.9 1112.5,307.6 1113.0,307.5 1113.5,306.0 1114.0,306.9 1114.5,306.6 1115.0,306.2 1115.5,306.8 1116.0,307.3 1116.5,306.2 1117.0,307.4 1117.5,305.2 1118.0,305.3 1118.5,306.5 1119.0,305.6 1119.5,306.0 1120.0,305.9 1120.5,305.0 1121.0,306.2 1121.5,306.2 1122.0,304.8 1122.5,305.2 1123.0,306.2 1123.5,306.7 1124.0,306.4 1124.5,305.4 1125.0,305.2 1125.5,305.2 1126.0,304.6 1126.5,305.2 1127.0,304.7 1127.5,304.5 1128.0,305.1 1128.5,304.0 1129.0,305.4 1129.5,305.8 1130.0,305.8 1130.5,307.6 1131.0,306.6 1131.5,305.9 1132.0,306.8 1132.5,305.7 1133.0,306.4 1133.5,305.5 1134.0,305.9 1134.5,308.1 1135.0,306.1 1135.5,306.1 1136.0,306.7 1136.5,305.8 1137.0,306.9 1137.5,304.0 1138.0,305.8 1138.5,305.6 1139.0,305.9 1139.5,307.9 1140.0,304.4 1140.5,306.2 1141.0,306.7 1141.5,307.0 1142.0,307.2 1142.5,306.5 1143.0,306.2 1143.5,307.6 1144.0,305.9 1144.5,305.5 1145.0,306.4 1145.5,307.0 1146.0,308.5 1146.5,307.5 1147.0,307.3 1147.5,307.2 1148.0,307.6 1148.5,307.5 1149.0,307.1 1149.5,306.2 1150.0,306.8 1150.5,308.0 1151.0,307.6 1151.5,308.0 1152.0,305.8 1152.5,308.6 1153.0,307.3 1153.5,308.8 1154.0,307.7 1154.5,307.6 1155.0,308.3 1155.5,307.8 1156.0,307.9 1156.5,306.9 1157.0,307.8 1157.5,307.5 1158.0,306.4 1158.5,306.8 1159.0,307.7 1159.5,307.3 1160.0,308.3 1160.5,306.9 1161.0,305.4 1161.5,311.3 1162.0,307.6 1162.5,307.9 1163.0,307.3 1163.5,307.3 1164.0,307.8 1164.5,308.6 1165.0,306.3 1165.5,308.8 1166.0,310.7 1166.5,308.1 1167.0,307.9 1167.5,307.6 1168.0,307.4 1168.5,307.8 1169.0,309.0 1169.5,304.8 1170.0,308.8 1170.5,308.5 1171.0,306.0 1171.5,306.9 1172.0,308.7 1172.5,308.6 1173.0,308.0 1173.5,309.2 1174.0,307.8 1174.5,308.3 1175.0,307.4 1175.5,308.7 1176.0,307.3 1176.5,307.8 1177.0,309.0 1177.5,308.5 1178.0,308.8 1178.5,308.9 1179.0,308.7 1179.5,307.9 1180.0,308.9 1180.5,307.6 1181.0,308.1 1181.5,308.5 1182.0,307.6 1182.5,307.5 1183.0,308.8 1183.5,309.0 1184.0,308.4 1184.5,308.4 1185.0,308.0 1185.5,308.6 1186.0,308.7 1186.5,310.0 1187.0,306.9 1187.5,309.8 1188.0,311.3 1188.5,308.4 1189.0,309.1 1189.5,309.4 1190.0,308.9 1190.5,308.3 1191.0,308.9 1191.5,309.6 1192.0,307.7 1192.5,308.7 1193.0,306.6 1193.5,309.5 1194.0,309.3 1194.5,307.1 1195.0,309.2 1195.5,309.1 1196.0,307.8 1196.5,308.8 1197.0,309.1 1197.5,308.5 1198.0,308.8 1198.5,310.8 1199.0,309.0 1199.5,308.8 1200.0,307.4 1200.5,307.8 1201.0,309.6 1201.5,309.2 1202.0,309.5 1202.5,308.8 1203.0,308.8 1203.5,308.7 1204.0,309.1 1204.5,308.4 1205.0,308.6 1205.5,308.6 1206.0,308.9 1206.5,308.0 1207.0,306.6 1207.5,307.4 1208.0,307.9 1208.5,309.4 1209.0,308.9 1209.5,309.0 1210.0,308.4 1210.5,307.4 1211.0,308.4 1211.5,309.3 1212.0,308.5 1212.5,308.6 1213.0,308.2 1213.5,307.6 1214.0,308.6 1214.5,308.3 1215.0,308.1 1215.5,307.9 1216.0,308.7 1216.5,308.0 1217.0,308.4 1217.5,307.8 1218.0,308.7 1218.5,308.1 1219.0,308.2 1219.5,309.5 1220.0,308.6 1220.5,308.6 1221.0,307.9 1221.5,308.9 1222.0,308.0 1222.5,310.7 1223.0,309.2 1223.5,308.4 1224.0,308.8 1224.5,308.2 1225.0,308.5 1225.5,307.1 1226.0,310.6 1226.5,308.7 1227.0,307.2 1227.5,307.5 1228.0,308.1 1228.5,308.5 1229.0,307.1 1229.5,309.7 1230.0,307.7 1230.5,311.0 1231.0,308.4 1231.5,307.9 1232.0,307.7 1232.5,306.8 1233.0,306.7 1233.5,308.0 1234.0,308.4 1234.5,309.0 1235.0,307.6 1235.5,309.1 1236.0,307.3 1236.5,309.0 1237.0,308.8 1237.5,306.7 1238.0,308.3 1238.5,307.7 1239.0,307.6 1239.5,308.0 1240.0,307.2 1240.5,307.1 1241.0,306.8 1241.5,307.8 1242.0,307.9 1242.5,306.0 1243.0,307.2 1243.5,306.2 1244.0,305.9 1244.5,305.9 1245.0,306.5 1245.5,306.0 1246.0,305.8 1246.5,305.1 1247.0,305.9 1247.5,306.6 1248.0,303.9 1248.5,305.9 1249.0,306.1 1249.5,304.3 1250.0,305.4 1250.5,306.9 1251.0,308.7 1251.5,306.4 1252.0,304.8 1252.5,306.0 1253.0,305.4 1253.5,304.7 1254.0,305.3 1254.5,306.6 1255.0,306.2 1255.5,305.0 1256.0,303.7 1256.5,306.2 1257.0,307.5 1257.5,305.0 1258.0,304.4 1258.5,304.9 1259.0,305.2 1259.5,304.7 1260.0,304.5 1260.5,304.2 1261.0,304.2 1261.5,303.0 1262.0,304.0 1262.5,306.0 1263.0,301.6 1263.5,304.7 1264.0,304.9 1264.5,304.1 1265.0,304.3 1265.5,303.6 1266.0,304.3 1266.5,304.4 1267.0,304.5 1267.5,304.1 1268.0,306.1 1268.5,305.2 1269.0,304.5 1269.5,304.7 1270.0,304.1 1270.5,306.1 1271.0,304.9 1271.5,305.8 1272.0,304.4 1272.5,307.1 1273.0,303.9 1273.5,305.1 1274.0,304.1 1274.5,304.5 1275.0,305.8 1275.5,304.0 1276.0,305.2 1276.5,304.8 1277.0,306.4 1277.5,304.4 1278.0,305.4 1278.5,306.6 1279.0,306.2 1279.5,306.3 1280.0,308.7 1280.5,304.0 1281.0,306.3 1281.5,306.6 1282.0,306.6 1282.5,306.6 1283.0,305.0 1283.5,305.1 1284.0,306.9 1284.5,306.6 1285.0,306.1 1285.5,303.9 1286.0,306.7 1286.5,305.5 1287.0,307.2 1287.5,306.5 1288.0,307.5 1288.5,305.8 1289.0,306.9 1289.5,305.9 1290.0,307.6 1290.5,307.2 1291.0,306.6 1291.5,309.0 1292.0,307.6 1292.5,307.0 1293.0,308.1 1293.5,307.1 1294.0,308.8 1294.5,306.9 1295.0,309.6 1295.5,305.9 1296.0,307.7 1296.5,306.9 1297.0,307.2 1297.5,307.5 1298.0,305.7 1298.5,306.8 1299.0,306.2 1299.5,307.7 1300.0,306.7 1300.5,307.3 1301.0,307.0 1301.5,306.8 1302.0,308.7 1302.5,307.3 1303.0,307.5 1303.5,307.7 1304.0,308.0 1304.5,306.9 1305.0,306.1 1305.5,307.3 1306.0,306.6 1306.5,305.1 1307.0,308.5 1307.5,307.5 1308.0,307.2 1308.5,306.4 1309.0,307.8 1309.5,307.3 1310.0,306.6 1310.5,309.6 1311.0,308.9 1311.5,308.6 1312.0,308.0 1312.5,307.3 1313.0,307.0 1313.5,307.5 1314.0,306.5 1314.5,307.5 1315.0,305.9 1315.5,304.9 1316.0,307.7 1316.5,307.0 1317.0,307.6 1317.5,307.9 1318.0,308.0 1318.5,307.5 1319.0,308.1 1319.5,307.6 1320.0,308.6 1320.5,308.4 1321.0,305.6 1321.5,306.9 1322.0,307.2 1322.5,307.0 1323.0,306.8 1323.5,308.4 1324.0,305.5 1324.5,306.9 1325.0,308.1 1325.5,307.1 1326.0,307.2 1326.5,309.6 1327.0,308.3 1327.5,307.7 1328.0,307.0 1328.5,307.5 1329.0,310.1 1329.5,308.6 1330.0,306.7 1330.5,308.4 1331.0,307.9 1331.5,308.5 1332.0,307.8 1332.5,307.3 1333.0,306.1 1333.5,307.9 1334.0,309.2 1334.5,309.4 1335.0,308.7 1335.5,308.9 1336.0,307.8 1336.5,308.3 1337.0,309.6 1337.5,311.0 1338.0,308.6 1338.5,309.2 1339.0,310.1 1339.5,312.2 1340.0,308.4 1340.5,309.0 1341.0,308.5 1341.5,308.6 1342.0,308.5 1342.5,308.1 1343.0,306.3 1343.5,308.9 1344.0,308.7 1344.5,309.1 1345.0,307.5 1345.5,307.7 1346.0,308.3 1346.5,309.5 1347.0,308.0 1347.5,307.4 1348.0,308.1 1348.5,309.5 1349.0,308.7 1349.5,308.9 1350.0,307.6 1350.5,307.2 1351.0,308.5 1351.5,308.1 1352.0,308.3" fill="none" stroke="#000000" stroke-width="1.75" stroke-linejoin="round"/>
<path d="M145.0,492.2 145.5,492.1 146.0,492.0 146.5,493.4 147.0,493.8 147.5,492.4 148.0,493.6 148.5,492.5 149.0,492.7 149.5,492.9 150.0,492.3 150.5,492.5 151.0,492.5 151.5,492.5 152.0,493.0 152.5,492.0 153.0,493.7 153.5,492.4 154.0,493.1 154.5,493.5 155.0,492.4 155.5,493.2 156.0,493.5 156.5,493.5 157.0,494.5 157.5,494.1 158.0,492.6 158.5,494.3 159.0,493.7 159.5,494.0 160.0,493.0 160.5,493.7 161.0,494.2 161.5,494.5 162.0,494.5 162.5,493.4 163.0,494.7 163.5,494.1 164.0,494.3 164.5,494.9 165.0,494.0 165.5,495.4 166.0,495.2 166.5,494.9 167.0,494.2 167.5,494.4 168.0,493.7 168.5,495.0 169.0,495.5 169.5,493.8 170.0,495.1 170.5,495.0 171.0,492.9 171.5,495.9 172.0,494.7 172.5,494.4 173.0,493.0 173.5,495.5 174.0,494.7 174.5,495.0 175.0,494.4 175.5,495.2 176.0,495.0 176.5,495.8 177.0,495.5 177.5,495.7 178.0,494.8 178.5,494.0 179.0,496.4 179.5,496.8 180.0,495.7 180.5,496.8 181.0,495.9 181.5,495.8 182.0,495.5 182.5,495.5 183.0,495.7 183.5,495.2 184.0,495.7 184.5,495.9 185.0,494.0 185.5,495.8 186.0,495.6 186.5,496.3 187.0,496.7 187.5,496.3 188.0,496.4 188.5,496.4 189.0,495.8 189.5,496.1 190.0,497.1 190.5,497.9 191.0,495.8 191.5,493.9 192.0,498.3 192.5,497.4 193.0,496.8 193.5,497.3 194.0,496.8 194.5,497.8 195.0,496.2 195.5,496.7 196.0,497.1 196.5,496.2 197.0,497.2 197.5,496.4 198.0,497.2 198.5,497.5 199.0,496.8 199.5,499.5 200.0,497.1 200.5,497.4 201.0,494.8 201.5,496.0 202.0,497.3 202.5,498.5 203.0,497.2 203.5,498.2 204.0,495.6 204.5,498.1 205.0,498.0 205.5,497.3 206.0,497.0 206.5,497.5 207.0,496.7 207.5,497.4 208.0,497.5 208.5,497.3 209.0,496.8 209.5,493.7 210.0,496.6 210.5,498.0 211.0,496.7 211.5,496.0 212.0,496.8 212.5,497.4 213.0,497.5 213.5,498.3 214.0,498.2 214.5,499.3 215.0,498.4 215.5,497.4 216.0,496.6 216.5,499.1 217.0,497.0 217.5,497.7 218.0,497.1 218.5,498.2 219.0,496.9 219.5,497.5 220.0,497.0 220.5,498.5 221.0,497.8 221.5,497.9 222.0,497.3 222.5,497.0 223.0,498.5 223.5,498.2 224.0,498.2 224.5,501.2 225.0,497.9 225.5,497.1 226.0,498.0 226.5,497.5 227.0,497.9 227.5,497.8 228.0,498.0 228.5,499.2 229.0,498.6 229.5,497.8 230.0,498.7 230.5,498.9 231.0,498.6 231.5,498.1 232.0,499.2 232.5,498.1 233.0,497.1 233.5,497.8 234.0,498.5 234.5,498.0 235.0,498.1 235.5,498.1 236.0,497.7 236.5,497.2 237.0,496.8 237.5,498.7 238.0,498.1 238.5,498.4 239.0,499.8 239.5,498.7 240.0,499.2 240.5,499.0 241.0,500.2 241.5,497.2 242.0,498.4 242.5,500.2 243.0,498.6 243.5,500.2 244.0,498.0 244.5,497.3 245.0,499.8 245.5,498.6 246.0,498.8 246.5,500.2 247.0,498.3 247.5,500.7 248.0,498.7 248.5,498.4 249.0,498.4 249.5,498.9 250.0,498.8 250.5,499.9 251.0,497.3 251.5,497.2 252.0,498.0 252.5,499.0 253.0,499.4 253.5,498.8 254.0,499.0 254.5,499.0 255.0,496.6 255.5,498.3 256.0,502.3 256.5,498.5 257.0,500.3 257.5,498.8 258.0,498.2 258.5,495.3 259.0,498.2 259.5,498.4 260.0,498.6 260.5,498.7 261.0,498.8 261.5,498.7 262.0,496.9 262.5,498.3 263.0,500.4 263.5,496.7 264.0,499.1 264.5,498.6 265.0,499.0 265.5,498.4 266.0,498.5 266.5,498.7 267.0,499.8 267.5,498.4 268.0,497.4 268.5,496.9 269.0,499.6 269.5,498.3 270.0,497.6 270.5,498.8 271.0,499.5 271.5,498.9 272.0,498.0 272.5,498.7 273.0,498.4 273.5,496.6 274.0,500.7 274.5,498.9 275.0,498.1 275.5,500.0 276.0,501.5 276.5,499.8 277.0,498.7 277.5,498.5 278.0,499.3 278.5,499.4 279.0,500.3 279.5,501.2 280.0,500.6 280.5,499.2 281.0,499.6 281.5,498.6 282.0,499.6 282.5,498.3 283.0,498.6 283.5,498.7 284.0,499.4 284.5,499.4 285.0,500.2 285.5,498.6 286.0,498.9 286.5,500.2 287.0,500.2 287.5,500.4 288.0,500.4 288.5,500.3 289.0,500.2 289.5,500.6 290.0,499.0 290.5,499.6 291.0,500.6 291.5,499.5 292.0,500.2 292.5,499.7 293.0,500.1 293.5,500.9 294.0,500.4 294.5,500.1 295.0,499.8 295.5,500.8 296.0,500.4 296.5,500.1 297.0,501.1 297.5,500.5 298.0,502.3 298.5,500.4 299.0,501.2 299.5,500.2 300.0,500.5 300.5,500.9 301.0,499.0 301.5,500.1 302.0,500.3 302.5,498.7 303.0,500.7 303.5,500.5 304.0,501.5 304.5,499.9 305.0,500.1 305.5,501.3 306.0,500.0 306.5,500.8 307.0,500.0 307.5,499.8 308.0,499.7 308.5,499.5 309.0,500.0 309.5,499.3 310.0,500.8 310.5,502.1 311.0,499.0 311.5,498.6 312.0,496.8 312.5,501.4 313.0,498.8 313.5,500.4 314.0,499.7 314.5,499.4 315.0,499.6 315.5,500.4 316.0,497.8 316.5,500.9 317.0,500.1 317.5,499.5 318.0,499.4 318.5,500.3 319.0,500.2 319.5,499.7 320.0,499.7 320.5,500.0 321.0,501.2 321.5,500.1 322.0,500.8 322.5,500.2 323.0,500.1 323.5,500.0 324.0,500.4 324.5,500.1 325.0,500.5 325.5,499.4 326.0,499.8 326.5,501.1 327.0,500.0 327.5,501.0 328.0,501.6 328.5,500.3 329.0,499.2 329.5,500.7 330.0,500.5 330.5,499.9 331.0,501.2 331.5,500.3 332.0,498.9 332.5,499.0 333.0,499.8 333.5,500.6 334.0,501.1 334.5,499.3 335.0,498.3 335.5,500.6 336.0,500.3 336.5,500.4 337.0,501.2 337.5,501.7 338.0,502.4 338.5,501.1 339.0,497.2 339.5,499.8 340.0,500.7 340.5,502.2 341.0,499.4 341.5,500.7 342.0,500.5 342.5,500.5 343.0,500.3 343.5,500.3 344.0,500.2 344.5,499.7 345.0,500.8 345.5,500.7 346.0,501.2 346.5,501.0 347.0,502.4 347.5,500.6 348.0,501.8 348.5,500.7 349.0,501.2 349.5,501.6 350.0,500.8 350.5,500.9 351.0,501.2 351.5,500.0 352.0,501.0 352.5,499.9 353.0,500.5 353.5,501.2 354.0,503.0 354.5,504.6 355.0,500.7 355.5,500.3 356.0,501.1 356.5,501.0 357.0,500.9 357.5,501.6 358.0,501.5 358.5,501.2 359.0,501.3 359.5,501.2 360.0,501.4 360.5,502.4 361.0,502.6 361.5,503.3 362.0,502.0 362.5,500.0 363.0,501.0 363.5,501.7 364.0,500.7 364.5,501.3 365.0,499.6 365.5,500.5 366.0,500.9 366.5,499.8 367.0,501.0 367.5,500.6 368.0,502.0 368.5,500.8 369.0,500.9 369.5,501.7 370.0,501.2 370.5,499.5 371.0,500.5 371.5,501.3 372.0,500.5 372.5,500.6 373.0,501.3 373.5,501.1 374.0,500.7 374.5,501.2 375.0,501.3 375.5,499.4 376.0,500.7 376.5,500.7 377.0,502.0 377.5,499.5 378.0,500.7 378.5,500.3 379.0,501.3 379.5,501.5 380.0,499.4 380.5,501.7 381.0,501.1 381.5,500.2 382.0,501.9 382.5,500.4 383.0,501.3 383.5,499.4 384.0,500.6 384.5,500.6 385.0,501.6 385.5,501.3 386.0,500.6 386.5,498.9 387.0,500.3 387.5,500.2 388.0,503.6 388.5,500.7 389.0,500.2 389.5,500.1 390.0,500.8 390.5,499.1 391.0,500.9 391.5,500.5 392.0,500.1 392.5,500.5 393.0,499.9 393.5,499.2 394.0,499.9 394.5,498.5 395.0,498.3 395.5,498.8 396.0,499.1 396.5,497.2 397.0,497.1 397.5,498.1 398.0,495.6 398.5,494.9 399.0,493.1 399.5,491.8 400.0,492.9 400.5,494.0 401.0,494.9 401.5,495.8 402.0,496.5 402.5,496.6 403.0,498.8 403.5,500.5 404.0,500.0 404.5,499.2 405.0,500.6 405.5,498.2 406.0,501.2 406.5,500.1 407.0,499.9 407.5,499.6 408.0,500.5 408.5,496.8 409.0,497.4 409.5,499.7 410.0,499.3 410.5,499.5 411.0,499.6 411.5,497.9 412.0,501.8 412.5,499.8 413.0,498.4 413.5,499.9 414.0,499.4 414.5,499.8 415.0,500.0 415.5,502.4 416.0,498.8 416.5,503.2 417.0,500.0 417.5,499.5 418.0,500.0 418.5,500.1 419.0,501.4 419.5,500.5 420.0,498.8 420.5,500.1 421.0,499.3 421.5,499.6 422.0,496.9 422.5,499.0 423.0,498.7 423.5,494.5 424.0,496.8 424.5,495.5 425.0,496.1 425.5,494.4 426.0,496.2 426.5,495.0 427.0,496.6 427.5,497.2 428.0,497.4 428.5,497.8 429.0,500.2 429.5,497.6 430.0,498.5 430.5,498.3 431.0,498.4 431.5,497.7 432.0,496.6 432.5,497.4 433.0,497.4 433.5,497.0 434.0,496.3 434.5,495.6 435.0,493.0 435.5,495.3 436.0,495.5 436.5,495.6 437.0,497.9 437.5,496.0 438.0,497.8 438.5,497.9 439.0,499.1 439.5,499.7 440.0,498.4 440.5,500.1 441.0,498.7 441.5,499.1 442.0,500.3 442.5,498.8 443.0,498.8 443.5,497.3 444.0,498.7 444.5,498.0 445.0,498.1 445.5,497.4 446.0,498.9 446.5,496.5 447.0,496.1 447.5,494.3 448.0,494.1 448.5,494.7 449.0,492.2 449.5,494.3 450.0,493.4 450.5,494.1 451.0,495.0 451.5,495.6 452.0,496.4 452.5,497.1 453.0,498.3 453.5,497.6 454.0,497.1 454.5,497.6 455.0,496.4 455.5,497.3 456.0,497.3 456.5,497.7 457.0,496.0 457.5,496.6 458.0,497.1 458.5,496.1 459.0,496.9 459.5,496.3 460.0,494.0 460.5,495.3 461.0,495.7 461.5,495.0 462.0,495.0 462.5,497.2 463.0,494.4 463.5,493.6 464.0,493.7 464.5,492.2 465.0,489.1 465.5,490.7 466.0,490.7 466.5,491.4 467.0,489.5 467.5,488.0 468.0,490.4 468.5,486.4 469.0,485.2 469.5,484.9 470.0,483.6 470.5,482.0 471.0,482.5 471.5,481.1 472.0,481.3 472.5,477.1 473.0,477.8 473.5,475.8 474.0,473.4 474.5,472.4 475.0,467.8 475.5,461.6 476.0,455.1 476.5,451.2 477.0,444.0 477.5,439.0 478.0,433.2 478.5,427.0 479.0,418.5 479.5,410.9 480.0,405.7 480.5,395.9 481.0,387.9 481.5,376.3 482.0,366.7 482.5,360.0 483.0,357.8 483.5,361.2 484.0,372.3 484.5,386.5 485.0,405.3 485.5,424.7 486.0,436.7 486.5,447.4 487.0,458.7 487.5,463.7 488.0,471.4 488.5,473.6 489.0,477.6 489.5,478.2 490.0,480.8 490.5,482.8 491.0,483.8 491.5,483.4 492.0,481.9 492.5,481.0 493.0,480.2 493.5,478.7 494.0,483.9 494.5,485.0 495.0,485.2 495.5,486.7 496.0,485.7 496.5,485.1 497.0,486.5 497.5,486.6 498.0,485.2 498.5,486.6 499.0,487.2 499.5,486.8 500.0,489.8 500.5,488.2 501.0,487.8 501.5,489.2 502.0,485.4 502.5,485.7 503.0,486.4 503.5,484.2 504.0,482.5 504.5,482.1 505.0,481.2 505.5,479.7 506.0,476.6 506.5,475.2 507.0,478.5 507.5,477.9 508.0,480.6 508.5,483.7 509.0,485.0 509.5,482.6 510.0,482.6 510.5,479.4 511.0,478.5 511.5,475.1 512.0,471.7 512.5,467.9 513.0,464.9 513.5,461.8 514.0,459.6 514.5,458.7 515.0,460.6 515.5,464.3 516.0,468.7 516.5,472.9 517.0,478.0 517.5,483.2 518.0,484.5 518.5,487.7 519.0,492.3 519.5,492.1 520.0,493.0 520.5,495.0 521.0,494.5 521.5,499.1 522.0,497.1 522.5,496.3 523.0,494.1 523.5,493.2 524.0,493.4 524.5,492.8 525.0,491.9 525.5,492.6 526.0,493.4 526.5,493.7 527.0,495.0 527.5,495.1 528.0,495.3 528.5,493.6 529.0,494.5 529.5,494.1 530.0,494.7 530.5,494.4 531.0,495.9 531.5,493.0 532.0,491.0 532.5,490.7 533.0,491.1 533.5,488.3 534.0,486.5 534.5,484.6 535.0,483.3 535.5,484.2 536.0,486.3 536.5,487.4 537.0,487.9 537.5,490.1 538.0,490.9 538.5,492.5 539.0,493.3 539.5,494.7 540.0,496.0 540.5,498.2 541.0,498.1 541.5,499.1 542.0,499.2 542.5,499.6 543.0,499.4 543.5,500.2 544.0,499.1 544.5,500.3 545.0,498.5 545.5,502.1 546.0,501.5 546.5,499.9 547.0,501.3 547.5,501.7 548.0,499.4 548.5,501.4 549.0,501.3 549.5,501.8 550.0,502.6 550.5,502.1 551.0,501.1 551.5,501.8 552.0,501.8 552.5,499.2 553.0,500.9 553.5,501.6 554.0,501.2 554.5,501.4 555.0,502.2 555.5,503.7 556.0,501.9 556.5,502.3 557.0,502.6 557.5,502.4 558.0,502.4 558.5,498.7 559.0,503.1 559.5,501.4 560.0,501.5 560.5,502.2 561.0,502.3 561.5,502.6 562.0,501.7 562.5,503.6 563.0,502.3 563.5,502.8 564.0,502.0 564.5,500.7 565.0,499.5 565.5,502.2 566.0,501.9 566.5,501.9 567.0,501.6 567.5,501.2 568.0,501.9 568.5,501.3 569.0,502.7 569.5,500.9 570.0,503.3 570.5,502.2 571.0,501.0 571.5,501.6 572.0,501.1 572.5,500.8 573.0,501.4 573.5,501.3 574.0,499.9 574.5,501.3 575.0,498.0 575.5,496.5 576.0,499.2 576.5,498.6 577.0,498.5 577.5,498.3 578.0,497.9 578.5,498.8 579.0,498.6 579.5,496.8 580.0,496.3 580.5,497.4 581.0,496.9 581.5,497.8 582.0,498.8 582.5,495.8 583.0,499.8 583.5,500.2 584.0,500.0 584.5,500.1 585.0,501.1 585.5,501.1 586.0,502.6 586.5,502.5 587.0,502.4 587.5,503.7 588.0,503.3 588.5,502.2 589.0,503.0 589.5,503.1 590.0,504.6 590.5,502.8 591.0,503.1 591.5,505.2 592.0,503.1 592.5,503.9 593.0,502.1 593.5,503.0 594.0,502.5 594.5,504.2 595.0,503.3 595.5,502.7 596.0,502.1 596.5,503.1 597.0,502.1 597.5,503.2 598.0,503.7 598.5,503.0 599.0,502.5 599.5,503.1 600.0,502.6 600.5,504.1 601.0,502.2 601.5,503.8 602.0,503.0 602.5,503.7 603.0,503.9 603.5,502.4 604.0,503.8 604.5,504.8 605.0,503.4 605.5,503.6 606.0,503.1 606.5,502.6 607.0,503.8 607.5,504.1 608.0,502.8 608.5,502.4 609.0,503.1 609.5,503.6 610.0,503.2 610.5,505.2 611.0,504.0 611.5,504.6 612.0,503.5 612.5,503.8 613.0,504.8 613.5,501.4 614.0,503.3 614.5,502.5 615.0,503.7 615.5,502.5 616.0,503.4 616.5,502.7 617.0,503.1 617.5,503.1 618.0,503.9 618.5,503.7 619.0,502.6 619.5,503.0 620.0,501.9 620.5,501.4 621.0,502.9 621.5,503.6 622.0,502.9 622.5,502.4 623.0,502.5 623.5,502.7 624.0,502.3 624.5,501.9 625.0,502.9 625.5,501.9 626.0,503.1 626.5,502.6 627.0,502.5 627.5,502.6 628.0,504.3 628.5,504.4 629.0,501.7 629.5,501.5 630.0,502.1 630.5,503.5 631.0,501.9 631.5,499.8 632.0,500.1 632.5,501.9 633.0,502.6 633.5,503.1 634.0,502.0 634.5,502.3 635.0,502.3 635.5,501.3 636.0,499.0 636.5,502.6 637.0,502.6 637.5,503.6 638.0,502.1 638.5,503.7 639.0,502.5 639.5,503.0 640.0,503.4 640.5,502.3 641.0,504.7 641.5,505.0 642.0,505.3 642.5,499.9 643.0,503.7 643.5,503.9 644.0,504.6 644.5,503.1 645.0,502.9 645.5,504.5 646.0,503.5 646.5,502.7 647.0,503.0 647.5,504.4 648.0,504.3 648.5,504.7 649.0,504.8 649.5,500.7 650.0,505.6 650.5,505.2 651.0,505.6 651.5,504.7 652.0,504.0 652.5,503.7 653.0,505.4 653.5,504.1 654.0,504.2 654.5,504.6 655.0,504.6 655.5,504.6 656.0,504.4 656.5,504.3 657.0,504.8 657.5,504.1 658.0,503.8 658.5,505.4 659.0,505.0 659.5,504.6 660.0,503.5 660.5,502.6 661.0,505.5 661.5,505.7 662.0,503.9 662.5,504.5 663.0,502.0 663.5,504.1 664.0,504.6 664.5,504.1 665.0,504.9 665.5,505.5 666.0,503.4 666.5,504.6 667.0,504.1 667.5,503.6 668.0,504.1 668.5,504.3 669.0,505.4 669.5,504.8 670.0,501.2 670.5,502.8 671.0,507.3 671.5,504.4 672.0,504.5 672.5,504.1 673.0,505.1 673.5,504.4 674.0,504.5 674.5,503.9 675.0,504.9 675.5,503.8 676.0,503.5 676.5,504.5 677.0,505.1 677.5,504.0 678.0,504.0 678.5,503.5 679.0,504.5 679.5,504.9 680.0,503.4 680.5,504.4 681.0,504.4 681.5,503.3 682.0,504.4 682.5,504.0 683.0,503.7 683.5,506.8 684.0,503.2 684.5,504.1 685.0,504.6 685.5,504.2 686.0,502.1 686.5,505.3 687.0,503.9 687.5,504.3 688.0,505.5 688.5,506.3 689.0,505.6 689.5,504.3 690.0,504.8 690.5,505.2 691.0,503.8 691.5,506.3 692.0,503.3 692.5,504.6 693.0,503.8 693.5,503.8 694.0,503.4 694.5,505.8 695.0,503.4 695.5,505.4 696.0,503.5 696.5,504.0 697.0,503.6 697.5,506.7 698.0,503.1 698.5,505.1 699.0,503.8 699.5,505.7 700.0,504.6 700.5,503.7 701.0,504.1 701.5,503.3 702.0,504.0 702.5,502.1 703.0,504.4 703.5,504.2 704.0,503.6 704.5,501.6 705.0,505.4 705.5,503.1 706.0,503.7 706.5,502.0 707.0,503.8 707.5,503.8 708.0,504.0 708.5,503.6 709.0,503.4 709.5,504.5 710.0,503.5 710.5,503.6 711.0,503.8 711.5,503.4 712.0,504.2 712.5,502.6 713.0,503.5 713.5,503.7 714.0,503.3 714.5,504.5 715.0,503.5 715.5,503.6 716.0,503.7 716.5,504.4 717.0,503.1 717.5,504.4 718.0,505.2 718.5,503.2 719.0,502.9 719.5,504.2 720.0,503.3 720.5,503.0 721.0,502.3 721.5,503.7 722.0,504.9 722.5,504.5 723.0,503.6 723.5,503.4 724.0,505.5 724.5,503.7 725.0,505.1 725.5,503.8 726.0,503.8 726.5,503.8 727.0,502.5 727.5,503.0 728.0,502.1 728.5,504.9 729.0,506.6 729.5,503.7 730.0,502.8 730.5,502.7 731.0,503.6 731.5,503.6 732.0,503.1 732.5,502.6 733.0,504.1 733.5,504.5 734.0,502.5 734.5,503.6 735.0,503.6 735.5,504.1 736.0,504.2 736.5,503.9 737.0,505.0 737.5,504.0 738.0,503.8 738.5,504.7 739.0,505.0 739.5,505.2 740.0,503.6 740.5,503.7 741.0,504.3 741.5,506.3 742.0,504.6 742.5,504.7 743.0,504.2 743.5,507.2 744.0,503.9 744.5,504.7 745.0,505.0 745.5,505.4 746.0,505.4 746.5,504.6 747.0,504.4 747.5,507.0 748.0,504.9 748.5,504.5 749.0,504.0 749.5,505.4 750.0,505.6 750.5,504.8 751.0,504.5 751.5,504.9 752.0,506.8 752.5,504.7 753.0,505.1 753.5,505.5 754.0,505.0 754.5,504.4 755.0,503.7 755.5,504.7 756.0,505.1 756.5,506.1 757.0,503.5 757.5,503.2 758.0,504.4 758.5,504.9 759.0,502.9 759.5,504.3 760.0,503.6 760.5,507.5 761.0,503.8 761.5,502.7 762.0,504.5 762.5,503.5 763.0,503.7 763.5,502.9 764.0,503.5 764.5,502.8 765.0,503.2 765.5,503.8 766.0,503.3 766.5,503.9 767.0,504.6 767.5,503.6 768.0,501.5 768.5,505.1 769.0,502.8 769.5,503.1 770.0,503.4 770.5,503.5 771.0,503.0 771.5,503.1 772.0,503.4 772.5,503.1 773.0,502.7 773.5,502.9 774.0,502.9 774.5,502.6 775.0,503.1 775.5,502.9 776.0,502.8 776.5,503.2 777.0,503.5 777.5,502.9 778.0,502.2 778.5,503.6 779.0,500.9 779.5,502.3 780.0,501.3 780.5,501.0 781.0,501.7 781.5,500.9 782.0,502.4 782.5,501.1 783.0,498.9 783.5,499.7 784.0,500.0 784.5,498.1 785.0,499.2 785.5,501.8 786.0,498.2 786.5,497.5 787.0,497.9 787.5,497.8 788.0,497.5 788.5,497.6 789.0,498.2 789.5,497.3 790.0,497.9 790.5,497.3 791.0,497.4 791.5,500.9 792.0,499.6 792.5,501.8 793.0,500.5 793.5,501.5 794.0,502.0 794.5,500.9 795.0,501.0 795.5,502.6 796.0,502.0 796.5,502.9 797.0,502.9 797.5,503.5 798.0,503.8 798.5,503.5 799.0,503.6 799.5,503.9 800.0,504.2 800.5,502.3 801.0,507.4 801.5,503.9 802.0,505.2 802.5,501.1 803.0,502.6 803.5,503.0 804.0,505.2 804.5,504.0 805.0,504.9 805.5,504.5 806.0,503.0 806.5,503.9 807.0,503.9 807.5,504.1 808.0,504.7 808.5,503.0 809.0,505.6 809.5,504.3 810.0,504.1 810.5,504.7 811.0,504.0 811.5,504.7 812.0,504.3 812.5,504.4 813.0,503.8 813.5,503.8 814.0,505.3 814.5,504.6 815.0,504.4 815.5,505.1 816.0,505.7 816.5,503.8 817.0,508.1 817.5,502.2 818.0,504.8 818.5,504.2 819.0,504.2 819.5,504.7 820.0,504.9 820.5,504.6 821.0,505.1 821.5,506.3 822.0,504.1 822.5,504.3 823.0,505.0 823.5,504.7 824.0,504.6 824.5,504.9 825.0,505.3 825.5,506.1 826.0,506.4 826.5,505.7 827.0,504.8 827.5,506.0 828.0,505.4 828.5,504.3 829.0,506.7 829.5,504.6 830.0,505.4 830.5,505.5 831.0,506.3 831.5,505.5 832.0,507.5 832.5,503.7 833.0,503.3 833.5,504.4 834.0,505.1 834.5,504.8 835.0,503.6 835.5,504.2 836.0,504.9 836.5,504.5 837.0,505.1 837.5,504.5 838.0,505.5 838.5,505.0 839.0,504.4 839.5,504.1 840.0,503.7 840.5,503.9 841.0,504.0 841.5,503.9 842.0,503.4 842.5,504.0 843.0,503.0 843.5,504.8 844.0,503.9 844.5,502.7 845.0,503.5 845.5,503.2 846.0,502.8 846.5,503.5 847.0,502.8 847.5,502.7 848.0,503.8 848.5,503.3 849.0,503.6 849.5,503.2 850.0,503.2 850.5,502.8 851.0,503.0 851.5,503.0 852.0,502.7 852.5,503.6 853.0,502.4 853.5,502.2 854.0,502.5 854.5,503.3 855.0,503.4 855.5,502.7 856.0,502.3 856.5,502.7 857.0,503.1 857.5,501.9 858.0,502.6 858.5,502.8 859.0,502.3 859.5,501.7 860.0,502.8 860.5,502.2 861.0,502.6 861.5,503.0 862.0,504.7 862.5,502.2 863.0,501.9 863.5,503.3 864.0,504.8 864.5,501.8 865.0,503.7 865.5,501.6 866.0,503.7 866.5,502.8 867.0,504.1 867.5,503.7 868.0,504.2 868.5,503.6 869.0,502.9 869.5,503.6 870.0,503.9 870.5,503.7 871.0,503.9 871.5,504.6 872.0,504.6 872.5,505.5 873.0,504.8 873.5,505.0 874.0,505.4 874.5,505.9 875.0,505.3 875.5,503.4 876.0,505.1 876.5,503.4 877.0,505.4 877.5,503.8 878.0,505.3 878.5,504.4 879.0,506.0 879.5,504.1 880.0,505.5 880.5,505.6 881.0,504.8 881.5,505.3 882.0,504.9 882.5,504.8 883.0,504.8 883.5,502.9 884.0,505.5 884.5,503.9 885.0,504.6 885.5,504.0 886.0,505.8 886.5,505.2 887.0,505.2 887.5,505.3 888.0,505.8 888.5,505.4 889.0,505.2 889.5,504.9 890.0,505.2 890.5,507.7 891.0,505.3 891.5,505.2 892.0,506.2 892.5,503.7 893.0,503.8 893.5,505.8 894.0,506.7 894.5,503.7 895.0,503.2 895.5,502.5 896.0,505.3 896.5,504.3 897.0,505.3 897.5,505.5 898.0,502.9 898.5,506.1 899.0,504.7 899.5,505.3 900.0,505.0 900.5,504.9 901.0,505.1 901.5,501.9 902.0,505.1 902.5,504.8 903.0,505.0 903.5,504.4 904.0,504.9 904.5,505.5 905.0,507.5 905.5,504.6 906.0,506.1 906.5,505.4 907.0,504.1 907.5,502.8 908.0,506.2 908.5,504.7 909.0,504.2 909.5,505.5 910.0,505.6 910.5,506.3 911.0,505.2 911.5,504.9 912.0,504.9 912.5,504.6 913.0,505.4 913.5,506.7 914.0,504.0 914.5,505.0 915.0,505.0 915.5,504.0 916.0,505.3 916.5,507.5 917.0,504.8 917.5,505.6 918.0,506.3 918.5,504.8 919.0,506.3 919.5,505.5 920.0,505.2 920.5,504.3 921.0,504.5 921.5,503.7 922.0,505.8 922.5,505.3 923.0,503.4 923.5,504.6 924.0,503.9 924.5,504.9 925.0,504.4 925.5,505.8 926.0,504.6 926.5,503.0 927.0,503.9 927.5,504.1 928.0,505.1 928.5,503.7 929.0,503.1 929.5,503.4 930.0,503.2 930.5,502.8 931.0,503.3 931.5,503.0 932.0,503.4 932.5,504.4 933.0,504.9 933.5,502.4 934.0,503.2 934.5,503.3 935.0,502.1 935.5,502.9 936.0,502.1 936.5,502.4 937.0,502.3 937.5,503.1 938.0,501.9 938.5,502.4 939.0,502.3 939.5,501.8 940.0,503.4 940.5,501.7 941.0,501.6 941.5,502.1 942.0,501.7 942.5,502.0 943.0,500.7 943.5,500.6 944.0,501.8 944.5,501.1 945.0,502.0 945.5,500.6 946.0,500.5 946.5,501.8 947.0,500.8 947.5,500.2 948.0,500.8 948.5,502.1 949.0,501.3 949.5,501.9 950.0,502.8 950.5,502.4 951.0,502.8 951.5,504.6 952.0,502.3 952.5,503.8 953.0,503.1 953.5,502.5 954.0,502.4 954.5,503.1 955.0,502.7 955.5,504.2 956.0,503.9 956.5,502.4 957.0,505.1 957.5,504.4 958.0,504.3 958.5,503.7 959.0,504.7 959.5,506.1 960.0,505.1 960.5,504.9 961.0,505.1 961.5,505.0 962.0,505.1 962.5,504.3 963.0,504.1 963.5,502.4 964.0,505.6 964.5,501.5 965.0,504.4 965.5,505.0 966.0,504.8 966.5,505.9 967.0,504.2 967.5,503.8 968.0,504.0 968.5,504.8 969.0,504.4 969.5,504.7 970.0,505.0 970.5,504.4 971.0,505.0 971.5,502.5 972.0,504.7 972.5,505.8 973.0,506.0 973.5,504.7 974.0,506.9 974.5,504.1 975.0,504.2 975.5,504.5 976.0,504.6 976.5,505.2 977.0,504.5 977.5,502.9 978.0,504.8 978.5,503.9 979.0,505.4 979.5,503.9 980.0,504.1 980.5,503.6 981.0,504.1 981.5,504.6 982.0,504.0 982.5,502.8 983.0,504.5 983.5,504.8 984.0,503.3 984.5,504.2 985.0,503.0 985.5,502.0 986.0,504.1 986.5,503.9 987.0,505.2 987.5,501.8 988.0,504.5 988.5,504.6 989.0,504.1 989.5,504.1 990.0,503.6 990.5,503.6 991.0,502.5 991.5,505.1 992.0,502.0 992.5,503.0 993.0,504.3 993.5,503.7 994.0,503.8 994.5,503.4 995.0,502.9 995.5,504.3 996.0,502.7 996.5,503.2 997.0,504.0 997.5,503.1 998.0,505.0 998.5,502.7 999.0,503.4 999.5,503.4 1000.0,503.3 1000.5,503.8 1001.0,501.6 1001.5,503.2 1002.0,503.7 1002.5,501.5 1003.0,503.1 1003.5,502.8 1004.0,502.6 1004.5,502.6 1005.0,502.6 1005.5,502.6 1006.0,503.2 1006.5,502.2 1007.0,505.3 1007.5,501.9 1008.0,501.1 1008.5,500.5 1009.0,499.9 1009.5,500.6 1010.0,499.9 1010.5,501.0 1011.0,500.9 1011.5,500.6 1012.0,500.1 1012.5,500.0 1013.0,499.5 1013.5,501.0 1014.0,497.3 1014.5,499.2 1015.0,499.5 1015.5,498.7 1016.0,500.2 1016.5,499.4 1017.0,499.2 1017.5,498.0 1018.0,499.0 1018.5,499.5 1019.0,499.0 1019.5,497.8 1020.0,499.5 1020.5,499.1 1021.0,500.2 1021.5,499.7 1022.0,499.8 1022.5,500.4 1023.0,500.1 1023.5,499.1 1024.0,499.5 1024.5,499.0 1025.0,498.7 1025.5,498.6 1026.0,498.0 1026.5,498.4 1027.0,498.2 1027.5,498.9 1028.0,498.0 1028.5,496.7 1029.0,498.1 1029.5,497.4 1030.0,498.2 1030.5,497.2 1031.0,497.7 1031.5,496.7 1032.0,497.3 1032.5,497.7 1033.0,496.1 1033.5,496.0 1034.0,495.4 1034.5,493.7 1035.0,492.4 1035.5,494.9 1036.0,493.4 1036.5,493.6 1037.0,492.7 1037.5,493.1 1038.0,491.2 1038.5,491.4 1039.0,491.0 1039.5,491.8 1040.0,489.9 1040.5,492.3 1041.0,493.1 1041.5,493.9 1042.0,493.6 1042.5,495.2 1043.0,496.1 1043.5,496.8 1044.0,496.5 1044.5,497.6 1045.0,498.0 1045.5,498.9 1046.0,499.5 1046.5,501.7 1047.0,497.9 1047.5,502.0 1048.0,498.8 1048.5,499.5 1049.0,500.3 1049.5,500.7 1050.0,502.0 1050.5,502.1 1051.0,502.8 1051.5,501.4 1052.0,499.4 1052.5,502.0 1053.0,503.1 1053.5,501.1 1054.0,503.0 1054.5,498.9 1055.0,502.9 1055.5,502.6 1056.0,503.9 1056.5,503.9 1057.0,501.5 1057.5,503.2 1058.0,502.8 1058.5,503.0 1059.0,501.5 1059.5,502.5 1060.0,502.4 1060.5,499.1 1061.0,502.2 1061.5,503.1 1062.0,500.4 1062.5,503.1 1063.0,501.5 1063.5,500.7 1064.0,503.0 1064.5,500.9 1065.0,500.7 1065.5,500.4 1066.0,501.4 1066.5,499.3 1067.0,499.8 1067.5,500.3 1068.0,499.5 1068.5,501.9 1069.0,501.4 1069.5,501.8 1070.0,502.9 1070.5,502.1 1071.0,502.0 1071.5,502.7 1072.0,502.9 1072.5,502.8 1073.0,502.9 1073.5,503.4 1074.0,504.3 1074.5,503.4 1075.0,507.7 1075.5,504.0 1076.0,504.1 1076.5,503.6 1077.0,504.4 1077.5,504.3 1078.0,504.9 1078.5,505.6 1079.0,504.1 1079.5,505.2 1080.0,504.3 1080.5,504.5 1081.0,503.7 1081.5,505.7 1082.0,504.4 1082.5,505.0 1083.0,502.7 1083.5,505.0 1084.0,504.1 1084.5,504.6 1085.0,505.0 1085.5,504.0 1086.0,504.8 1086.5,505.5 1087.0,504.0 1087.5,504.7 1088.0,504.1 1088.5,503.9 1089.0,504.8 1089.5,504.7 1090.0,505.0 1090.5,505.6 1091.0,505.1 1091.5,504.4 1092.0,504.7 1092.5,504.9 1093.0,505.4 1093.5,504.9 1094.0,504.6 1094.5,503.7 1095.0,505.4 1095.5,504.1 1096.0,504.3 1096.5,505.4 1097.0,503.8 1097.5,505.6 1098.0,503.9 1098.5,503.2 1099.0,504.3 1099.5,504.9 1100.0,504.1 1100.5,505.0 1101.0,504.1 1101.5,504.9 1102.0,503.2 1102.5,503.8 1103.0,503.2 1103.5,504.5 1104.0,504.0 1104.5,504.3 1105.0,503.5 1105.5,504.4 1106.0,506.8 1106.5,502.7 1107.0,503.6 1107.5,504.8 1108.0,504.7 1108.5,504.8 1109.0,503.3 1109.5,503.9 1110.0,502.6 1110.5,503.7 1111.0,503.8 1111.5,503.3 1112.0,503.6 1112.5,503.4 1113.0,502.4 1113.5,502.3 1114.0,504.1 1114.5,500.1 1115.0,506.0 1115.5,504.6 1116.0,506.0 1116.5,504.0 1117.0,499.9 1117.5,502.4 1118.0,503.1 1118.5,502.7 1119.0,501.9 1119.5,504.5 1120.0,504.4 1120.5,503.8 1121.0,502.8 1121.5,504.0 1122.0,503.9 1122.5,502.9 1123.0,502.2 1123.5,502.2 1124.0,502.9 1124.5,503.8 1125.0,501.8 1125.5,502.9 1126.0,502.8 1126.5,504.1 1127.0,502.2 1127.5,503.3 1128.0,502.8 1128.5,503.3 1129.0,503.8 1129.5,503.8 1130.0,503.9 1130.5,502.8 1131.0,502.8 1131.5,502.3 1132.0,502.8 1132.5,502.3 1133.0,503.8 1133.5,501.7 1134.0,502.6 1134.5,503.9 1135.0,503.8 1135.5,505.3 1136.0,503.2 1136.5,501.8 1137.0,504.0 1137.5,503.0 1138.0,504.0 1138.5,501.3 1139.0,501.7 1139.5,503.6 1140.0,503.8 1140.5,503.6 1141.0,503.6 1141.5,503.7 1142.0,502.7 1142.5,502.2 1143.0,503.4 1143.5,503.7 1144.0,503.2 1144.5,503.0 1145.0,503.6 1145.5,503.6 1146.0,503.3 1146.5,505.0 1147.0,505.2 1147.5,502.2 1148.0,503.8 1148.5,503.3 1149.0,503.5 1149.5,501.9 1150.0,502.6 1150.5,502.0 1151.0,503.0 1151.5,504.1 1152.0,502.7 1152.5,504.9 1153.0,504.6 1153.5,503.6 1154.0,504.3 1154.5,505.6 1155.0,503.0 1155.5,504.1 1156.0,504.0 1156.5,503.8 1157.0,503.7 1157.5,502.9 1158.0,504.4 1158.5,503.5 1159.0,504.1 1159.5,505.5 1160.0,504.0 1160.5,503.9 1161.0,505.6 1161.5,504.3 1162.0,504.3 1162.5,503.7 1163.0,504.4 1163.5,504.0 1164.0,504.3 1164.5,504.1 1165.0,503.0 1165.5,505.2 1166.0,504.6 1166.5,505.9 1167.0,503.9 1167.5,503.9 1168.0,503.4 1168.5,503.9 1169.0,504.0 1169.5,503.6 1170.0,503.8 1170.5,503.9 1171.0,505.1 1171.5,504.2 1172.0,505.0 1172.5,502.7 1173.0,503.6 1173.5,505.9 1174.0,502.7 1174.5,503.0 1175.0,504.3 1175.5,503.9 1176.0,503.7 1176.5,504.5 1177.0,504.5 1177.5,503.7 1178.0,504.4 1178.5,504.3 1179.0,505.1 1179.5,503.0 1180.0,503.8 1180.5,504.4 1181.0,502.5 1181.5,505.1 1182.0,506.2 1182.5,504.1 1183.0,504.9 1183.5,503.9 1184.0,505.9 1184.5,503.8 1185.0,501.4 1185.5,503.0 1186.0,504.3 1186.5,502.7 1187.0,506.6 1187.5,504.6 1188.0,504.5 1188.5,504.6 1189.0,504.3 1189.5,505.4 1190.0,504.8 1190.5,504.3 1191.0,504.0 1191.5,503.6 1192.0,504.1 1192.5,504.2 1193.0,503.2 1193.5,505.7 1194.0,504.0 1194.5,504.5 1195.0,503.1 1195.5,504.5 1196.0,504.7 1196.5,503.2 1197.0,506.5 1197.5,503.7 1198.0,504.0 1198.5,504.9 1199.0,504.2 1199.5,505.4 1200.0,504.0 1200.5,504.2 1201.0,504.8 1201.5,505.3 1202.0,505.5 1202.5,504.1 1203.0,504.5 1203.5,504.4 1204.0,504.8 1204.5,504.0 1205.0,505.2 1205.5,504.8 1206.0,503.8 1206.5,504.1 1207.0,504.2 1207.5,505.8 1208.0,504.4 1208.5,504.6 1209.0,505.8 1209.5,504.3 1210.0,505.9 1210.5,504.0 1211.0,501.9 1211.5,503.3 1212.0,504.7 1212.5,504.2 1213.0,505.1 1213.5,504.4 1214.0,504.7 1214.5,504.1 1215.0,504.5 1215.5,504.7 1216.0,504.1 1216.5,504.3 1217.0,505.1 1217.5,505.6 1218.0,504.1 1218.5,502.9 1219.0,505.1 1219.5,504.2 1220.0,506.1 1220.5,504.8 1221.0,504.0 1221.5,505.1 1222.0,504.3 1222.5,504.6 1223.0,505.2 1223.5,504.3 1224.0,505.7 1224.5,504.1 1225.0,504.0 1225.5,504.4 1226.0,504.0 1226.5,504.5 1227.0,504.2 1227.5,504.6 1228.0,504.9 1228.5,504.2 1229.0,505.3 1229.5,504.7 1230.0,505.0 1230.5,501.9 1231.0,501.8 1231.5,504.3 1232.0,503.8 1232.5,505.0 1233.0,503.9 1233.5,504.5 1234.0,503.6 1234.5,504.3 1235.0,505.1 1235.5,504.9 1236.0,503.8 1236.5,504.0 1237.0,504.1 1237.5,503.8 1238.0,504.0 1238.5,505.8 1239.0,505.0 1239.5,503.7 1240.0,504.3 1240.5,505.5 1241.0,503.8 1241.5,504.8 1242.0,504.6 1242.5,505.0 1243.0,502.7 1243.5,505.2 1244.0,506.1 1244.5,503.4 1245.0,504.1 1245.5,502.8 1246.0,504.1 1246.5,504.3 1247.0,504.3 1247.5,504.7 1248.0,503.5 1248.5,502.9 1249.0,504.5 1249.5,501.9 1250.0,503.3 1250.5,503.3 1251.0,504.4 1251.5,503.7 1252.0,504.6 1252.5,504.1 1253.0,504.6 1253.5,504.4 1254.0,504.7 1254.5,503.2 1255.0,503.2 1255.5,503.5 1256.0,503.3 1256.5,503.6 1257.0,503.6 1257.5,502.5 1258.0,501.8 1258.5,503.0 1259.0,502.8 1259.5,501.9 1260.0,500.7 1260.5,500.0 1261.0,501.5 1261.5,501.4 1262.0,501.1 1262.5,500.1 1263.0,500.7 1263.5,501.1 1264.0,500.1 1264.5,500.5 1265.0,500.9 1265.5,501.7 1266.0,501.7 1266.5,500.5 1267.0,499.6 1267.5,499.9 1268.0,500.5 1268.5,500.0 1269.0,500.1 1269.5,500.4 1270.0,500.4 1270.5,501.1 1271.0,499.3 1271.5,500.3 1272.0,499.0 1272.5,501.0 1273.0,501.3 1273.5,500.9 1274.0,500.0 1274.5,501.6 1275.0,501.1 1275.5,501.4 1276.0,502.0 1276.5,503.9 1277.0,502.4 1277.5,503.2 1278.0,502.8 1278.5,503.1 1279.0,502.6 1279.5,503.0 1280.0,504.4 1280.5,503.9 1281.0,503.9 1281.5,506.9 1282.0,505.6 1282.5,504.4 1283.0,504.7 1283.5,504.9 1284.0,504.1 1284.5,504.7 1285.0,504.4 1285.5,505.5 1286.0,503.7 1286.5,507.6 1287.0,504.3 1287.5,504.6 1288.0,503.6 1288.5,506.0 1289.0,505.6 1289.5,503.5 1290.0,504.9 1290.5,504.7 1291.0,505.1 1291.5,504.6 1292.0,506.6 1292.5,504.4 1293.0,505.6 1293.5,504.5 1294.0,505.2 1294.5,504.8 1295.0,505.0 1295.5,505.0 1296.0,505.1 1296.5,503.6 1297.0,503.5 1297.5,506.9 1298.0,504.5 1298.5,504.8 1299.0,504.5 1299.5,505.2 1300.0,507.3 1300.5,504.9 1301.0,504.7 1301.5,504.8 1302.0,503.1 1302.5,503.9 1303.0,503.4 1303.5,504.7 1304.0,507.4 1304.5,504.2 1305.0,505.1 1305.5,504.5 1306.0,503.3 1306.5,505.8 1307.0,504.1 1307.5,504.2 1308.0,505.8 1308.5,504.6 1309.0,504.5 1309.5,506.6 1310.0,504.5 1310.5,505.8 1311.0,504.8 1311.5,505.2 1312.0,504.8 1312.5,504.9 1313.0,506.5 1313.5,506.3 1314.0,504.4 1314.5,505.6 1315.0,504.3 1315.5,504.8 1316.0,503.9 1316.5,505.4 1317.0,505.6 1317.5,505.6 1318.0,505.7 1318.5,505.0 1319.0,504.5 1319.5,502.0 1320.0,505.1 1320.5,506.6 1321.0,505.2 1321.5,505.4 1322.0,506.5 1322.5,506.1 1323.0,505.7 1323.5,505.4 1324.0,504.7 1324.5,505.7 1325.0,505.2 1325.5,505.6 1326.0,504.7 1326.5,506.7 1327.0,504.6 1327.5,505.9 1328.0,506.3 1328.5,504.5 1329.0,506.2 1329.5,505.6 1330.0,505.5 1330.5,504.9 1331.0,505.1 1331.5,504.8 1332.0,505.3 1332.5,505.6 1333.0,505.8 1333.5,505.7 1334.0,505.1 1334.5,505.1 1335.0,505.9 1335.5,507.4 1336.0,504.9 1336.5,505.3 1337.0,505.0 1337.5,507.4 1338.0,503.1 1338.5,506.5 1339.0,506.0 1339.5,505.2 1340.0,505.8 1340.5,505.3 1341.0,505.7 1341.5,505.4 1342.0,506.7 1342.5,505.4 1343.0,506.2 1343.5,505.6 1344.0,505.3 1344.5,507.3 1345.0,504.9 1345.5,506.7 1346.0,507.7 1346.5,506.3 1347.0,505.7 1347.5,505.7 1348.0,506.9 1348.5,505.5 1349.0,506.3 1349.5,506.1 1350.0,506.4 1350.5,505.5 1351.0,505.8 1351.5,504.5 1352.0,504.3" fill="none" stroke="#ff0000" stroke-width="1.75" stroke-linejoin="round"/>
<path d="M145.0,702.2 145.5,703.6 146.0,703.0 146.5,704.4 147.0,702.0 147.5,702.5 148.0,704.0 148.5,703.2 149.0,702.7 149.5,703.9 150.0,702.8 150.5,705.3 151.0,702.9 151.5,704.2 152.0,703.3 152.5,704.7 153.0,703.0 153.5,704.7 154.0,703.1 154.5,703.3 155.0,703.6 155.5,703.5 156.0,703.7 156.5,703.8 157.0,703.0 157.5,700.7 158.0,703.9 158.5,703.7 159.0,703.6 159.5,703.5 160.0,704.8 160.5,703.2 161.0,704.7 161.5,702.8 162.0,703.9 162.5,705.0 163.0,702.8 163.5,704.1 164.0,703.2 164.5,702.2 165.0,703.5 165.5,704.0 166.0,703.3 166.5,705.2 167.0,700.2 167.5,703.3 168.0,703.5 168.5,703.5 169.0,703.4 169.5,701.6 170.0,703.2 170.5,703.3 171.0,704.1 171.5,703.6 172.0,704.2 172.5,703.7 173.0,703.6 173.5,703.1 174.0,703.4 174.5,705.0 175.0,703.9 175.5,703.7 176.0,703.5 176.5,705.0 177.0,704.4 177.5,704.5 178.0,704.8 178.5,703.7 179.0,704.6 179.5,702.9 180.0,704.5 180.5,704.0 181.0,704.6 181.5,703.8 182.0,704.2 182.5,704.7 183.0,705.9 183.5,704.2 184.0,703.8 184.5,703.6 185.0,704.9 185.5,705.6 186.0,702.3 186.5,704.4 187.0,704.0 187.5,706.3 188.0,703.8 188.5,703.4 189.0,705.3 189.5,708.3 190.0,705.4 190.5,703.9 191.0,704.8 191.5,705.0 192.0,706.1 192.5,705.5 193.0,703.6 193.5,705.0 194.0,705.7 194.5,705.2 195.0,705.4 195.5,707.0 196.0,707.3 196.5,706.0 197.0,705.4 197.5,704.9 198.0,704.5 198.5,704.6 199.0,705.6 199.5,705.9 200.0,706.3 200.5,706.6 201.0,705.1 201.5,705.2 202.0,704.9 202.5,705.6 203.0,707.1 203.5,706.1 204.0,705.5 204.5,704.9 205.0,706.4 205.5,706.7 206.0,706.2 206.5,705.4 207.0,705.6 207.5,705.9 208.0,707.0 208.5,705.3 209.0,705.7 209.5,704.4 210.0,702.5 210.5,705.4 211.0,706.6 211.5,706.3 212.0,706.0 212.5,705.9 213.0,705.6 213.5,706.6 214.0,706.1 214.5,704.8 215.0,706.3 215.5,709.1 216.0,704.9 216.5,709.7 217.0,705.2 217.5,705.9 218.0,708.4 218.5,708.3 219.0,705.7 219.5,706.8 220.0,706.6 220.5,706.3 221.0,707.0 221.5,706.7 222.0,706.0 222.5,706.5 223.0,706.9 223.5,706.8 224.0,706.7 224.5,707.1 225.0,705.8 225.5,705.0 226.0,704.9 226.5,706.9 227.0,706.7 227.5,707.6 228.0,708.8 228.5,705.9 229.0,706.7 229.5,706.9 230.0,707.1 230.5,708.2 231.0,707.2 231.5,706.8 232.0,707.4 232.5,706.9 233.0,707.3 233.5,706.2 234.0,707.4 234.5,707.3 235.0,707.6 235.5,707.5 236.0,707.6 236.5,707.9 237.0,706.7 237.5,708.1 238.0,707.8 238.5,708.0 239.0,707.6 239.5,706.5 240.0,709.0 240.5,708.5 241.0,709.9 241.5,707.8 242.0,708.9 242.5,708.9 243.0,708.1 243.5,709.1 244.0,708.8 244.5,707.1 245.0,707.3 245.5,708.1 246.0,708.3 246.5,708.5 247.0,708.4 247.5,709.3 248.0,709.0 248.5,707.3 249.0,708.1 249.5,709.3 250.0,708.8 250.5,706.0 251.0,708.5 251.5,707.3 252.0,708.2 252.5,711.2 253.0,706.9 253.5,708.9 254.0,708.1 254.5,710.3 255.0,709.0 255.5,706.7 256.0,708.3 256.5,708.9 257.0,707.6 257.5,708.4 258.0,707.5 258.5,707.4 259.0,707.7 259.5,707.6 260.0,709.7 260.5,707.4 261.0,707.8 261.5,707.8 262.0,708.2 262.5,709.7 263.0,708.0 263.5,708.6 264.0,706.8 264.5,708.0 265.0,707.0 265.5,708.6 266.0,707.8 266.5,706.8 267.0,708.4 267.5,707.6 268.0,707.6 268.5,706.3 269.0,708.7 269.5,707.5 270.0,708.4 270.5,706.3 271.0,707.9 271.5,707.5 272.0,707.8 272.5,708.0 273.0,708.6 273.5,709.2 274.0,707.2 274.5,708.9 275.0,707.1 275.5,705.5 276.0,707.8 276.5,707.9 277.0,708.8 277.5,708.4 278.0,708.2 278.5,709.1 279.0,709.9 279.5,708.8 280.0,708.9 280.5,709.6 281.0,708.4 281.5,712.1 282.0,708.2 282.5,707.3 283.0,709.7 283.5,708.3 284.0,708.8 284.5,709.2 285.0,708.2 285.5,709.2 286.0,709.1 286.5,708.2 287.0,709.6 287.5,709.4 288.0,708.8 288.5,710.2 289.0,709.6 289.5,707.7 290.0,710.8 290.5,709.7 291.0,708.7 291.5,709.4 292.0,709.4 292.5,708.2 293.0,709.5 293.5,709.1 294.0,709.3 294.5,710.1 295.0,709.1 295.5,707.7 296.0,709.1 296.5,709.5 297.0,709.1 297.5,710.0 298.0,710.8 298.5,710.6 299.0,709.8 299.5,710.4 300.0,710.4 300.5,710.1 301.0,710.5 301.5,709.7 302.0,710.3 302.5,709.9 303.0,710.3 303.5,710.3 304.0,708.5 304.5,710.6 305.0,708.1 305.5,709.8 306.0,710.0 306.5,710.6 307.0,708.4 307.5,710.2 308.0,709.7 308.5,708.2 309.0,709.6 309.5,710.1 310.0,708.7 310.5,710.7 311.0,708.3 311.5,709.4 312.0,709.7 312.5,708.6 313.0,711.2 313.5,711.8 314.0,711.1 314.5,709.3 315.0,710.7 315.5,709.7 316.0,709.6 316.5,710.3 317.0,708.8 317.5,706.9 318.0,711.3 318.5,709.7 319.0,710.6 319.5,709.9 320.0,708.9 320.5,710.0 321.0,709.3 321.5,708.8 322.0,707.8 322.5,709.9 323.0,709.6 323.5,709.8 324.0,711.8 324.5,710.8 325.0,710.4 325.5,709.6 326.0,710.5 326.5,710.4 327.0,710.1 327.5,709.6 328.0,709.5 328.5,710.0 329.0,709.7 329.5,711.1 330.0,710.1 330.5,710.4 331.0,711.2 331.5,710.3 332.0,709.4 332.5,709.9 333.0,711.4 333.5,708.6 334.0,709.6 334.5,710.4 335.0,711.0 335.5,710.9 336.0,710.6 336.5,710.6 337.0,710.0 337.5,708.8 338.0,710.5 338.5,708.9 339.0,710.9 339.5,709.4 340.0,708.2 340.5,713.8 341.0,709.5 341.5,710.4 342.0,708.9 342.5,712.5 343.0,708.0 343.5,710.6 344.0,711.1 344.5,710.0 345.0,707.5 345.5,708.6 346.0,708.9 346.5,710.9 347.0,710.4 347.5,711.4 348.0,710.6 348.5,710.5 349.0,709.8 349.5,709.9 350.0,712.6 350.5,712.0 351.0,710.3 351.5,711.0 352.0,710.8 352.5,710.1 353.0,709.9 353.5,710.9 354.0,712.2 354.5,712.8 355.0,710.3 355.5,709.1 356.0,710.2 356.5,709.2 357.0,713.0 357.5,710.2 358.0,711.3 358.5,710.0 359.0,712.2 359.5,710.5 360.0,711.2 360.5,710.6 361.0,711.0 361.5,709.2 362.0,709.3 362.5,710.3 363.0,711.4 363.5,711.7 364.0,710.9 364.5,710.6 365.0,708.9 365.5,711.8 366.0,710.8 366.5,710.7 367.0,711.3 367.5,710.0 368.0,710.7 368.5,710.8 369.0,711.0 369.5,709.4 370.0,710.9 370.5,711.6 371.0,710.7 371.5,709.8 372.0,711.7 372.5,709.4 373.0,710.0 373.5,711.3 374.0,710.6 374.5,710.2 375.0,711.1 375.5,710.7 376.0,709.5 376.5,709.9 377.0,711.0 377.5,711.0 378.0,709.0 378.5,710.2 379.0,710.5 379.5,709.8 380.0,708.6 380.5,709.8 381.0,711.2 381.5,710.2 382.0,709.2 382.5,710.5 383.0,709.9 383.5,709.2 384.0,709.1 384.5,708.7 385.0,709.2 385.5,709.1 386.0,708.9 386.5,710.1 387.0,709.6 387.5,709.0 388.0,710.7 388.5,709.2 389.0,710.4 389.5,709.5 390.0,708.9 390.5,709.0 391.0,709.1 391.5,709.0 392.0,709.4 392.5,708.2 393.0,708.2 393.5,707.9 394.0,709.6 394.5,709.4 395.0,708.2 395.5,708.1 396.0,707.3 396.5,710.2 397.0,708.4 397.5,709.9 398.0,708.3 398.5,708.1 399.0,708.5 399.5,709.0 400.0,708.8 400.5,707.7 401.0,707.9 401.5,709.4 402.0,707.9 402.5,708.5 403.0,707.9 403.5,708.5 404.0,706.5 404.5,704.4 405.0,706.8 405.5,707.9 406.0,707.8 406.5,709.7 407.0,711.5 407.5,707.2 408.0,708.9 408.5,708.2 409.0,709.0 409.5,708.0 410.0,708.8 410.5,705.1 411.0,708.3 411.5,708.1 412.0,707.9 412.5,708.1 413.0,708.3 413.5,708.5 414.0,708.6 414.5,709.0 415.0,709.3 415.5,710.4 416.0,708.9 416.5,708.2 417.0,708.8 417.5,708.7 418.0,708.3 418.5,708.5 419.0,708.3 419.5,708.9 420.0,707.3 420.5,708.4 421.0,707.9 421.5,704.7 422.0,706.9 422.5,708.9 423.0,706.5 423.5,704.5 424.0,705.4 424.5,705.0 425.0,703.2 425.5,703.4 426.0,703.0 426.5,703.7 427.0,704.4 427.5,703.3 428.0,703.0 428.5,703.0 429.0,704.1 429.5,703.3 430.0,706.2 430.5,708.3 431.0,709.4 431.5,709.2 432.0,706.3 432.5,708.8 433.0,708.5 433.5,709.0 434.0,708.2 434.5,708.1 435.0,710.6 435.5,710.0 436.0,707.9 436.5,709.8 437.0,707.7 437.5,708.8 438.0,712.1 438.5,710.5 439.0,709.1 439.5,709.5 440.0,708.9 440.5,709.9 441.0,708.8 441.5,708.6 442.0,708.3 442.5,709.4 443.0,709.2 443.5,710.1 444.0,708.0 444.5,709.2 445.0,709.9 445.5,708.7 446.0,707.0 446.5,707.0 447.0,706.5 447.5,707.2 448.0,707.8 448.5,706.2 449.0,706.8 449.5,705.1 450.0,706.8 450.5,705.2 451.0,706.7 451.5,706.1 452.0,705.0 452.5,705.8 453.0,705.0 453.5,705.1 454.0,705.0 454.5,704.3 455.0,704.4 455.5,704.8 456.0,704.8 456.5,704.4 457.0,703.4 457.5,703.9 458.0,701.8 458.5,704.7 459.0,700.5 459.5,702.9 460.0,702.1 460.5,701.0 461.0,701.5 461.5,702.2 462.0,699.5 462.5,700.2 463.0,696.4 463.5,699.6 464.0,697.6 464.5,698.9 465.0,696.4 465.5,697.4 466.0,697.3 466.5,694.9 467.0,696.0 467.5,693.0 468.0,691.2 468.5,692.2 469.0,688.9 469.5,688.7 470.0,688.9 470.5,687.4 471.0,683.5 471.5,680.2 472.0,678.2 472.5,675.3 473.0,672.5 473.5,668.6 474.0,664.4 474.5,659.3 475.0,657.6 475.5,650.7 476.0,649.4 476.5,638.5 477.0,624.0 477.5,608.9 478.0,602.2 478.5,596.1 479.0,589.1 479.5,584.6 480.0,580.1 480.5,579.9 481.0,582.9 481.5,585.4 482.0,591.3 482.5,598.2 483.0,603.6 483.5,615.2 484.0,630.0 484.5,645.4 485.0,652.0 485.5,659.1 486.0,667.0 486.5,674.0 487.0,675.5 487.5,678.2 488.0,683.0 488.5,686.2 489.0,685.9 489.5,687.3 490.0,688.8 490.5,688.0 491.0,690.5 491.5,690.3 492.0,692.9 492.5,694.4 493.0,695.0 493.5,695.7 494.0,696.4 494.5,696.3 495.0,695.5 495.5,696.6 496.0,698.9 496.5,698.2 497.0,697.8 497.5,698.0 498.0,698.4 498.5,698.8 499.0,697.8 499.5,699.1 500.0,698.8 500.5,698.0 501.0,697.7 501.5,697.0 502.0,697.5 502.5,699.0 503.0,697.4 503.5,695.7 504.0,695.2 504.5,695.4 505.0,694.5 505.5,693.7 506.0,694.2 506.5,692.7 507.0,692.4 507.5,691.2 508.0,693.1 508.5,689.8 509.0,687.5 509.5,687.6 510.0,685.3 510.5,684.3 511.0,682.6 511.5,681.2 512.0,679.2 512.5,677.5 513.0,676.3 513.5,679.8 514.0,678.6 514.5,679.8 515.0,684.3 515.5,687.7 516.0,692.4 516.5,695.3 517.0,696.8 517.5,698.1 518.0,699.1 518.5,700.9 519.0,702.4 519.5,702.8 520.0,703.5 520.5,704.5 521.0,704.4 521.5,705.6 522.0,702.5 522.5,705.5 523.0,704.4 523.5,703.1 524.0,703.6 524.5,701.1 525.0,701.2 525.5,700.4 526.0,700.4 526.5,698.4 527.0,699.5 527.5,699.9 528.0,701.6 528.5,703.9 529.0,703.8 529.5,703.6 530.0,703.3 530.5,704.7 531.0,704.4 531.5,700.6 532.0,704.2 532.5,703.4 533.0,703.6 533.5,702.8 534.0,706.6 534.5,703.8 535.0,704.2 535.5,703.6 536.0,704.1 536.5,704.7 537.0,705.1 537.5,705.9 538.0,704.4 538.5,704.7 539.0,705.4 539.5,705.6 540.0,707.0 540.5,706.5 541.0,706.9 541.5,707.5 542.0,708.0 542.5,708.0 543.0,705.9 543.5,709.5 544.0,708.5 544.5,710.7 545.0,709.8 545.5,710.3 546.0,711.2 546.5,712.7 547.0,711.6 547.5,711.7 548.0,711.5 548.5,710.5 549.0,711.1 549.5,712.6 550.0,712.7 550.5,710.7 551.0,712.3 551.5,708.7 552.0,711.3 552.5,708.9 553.0,710.7 553.5,710.6 554.0,710.5 554.5,712.0 555.0,710.2 555.5,708.1 556.0,709.3 556.5,710.7 557.0,709.2 557.5,708.6 558.0,709.4 558.5,712.2 559.0,710.0 559.5,709.2 560.0,710.3 560.5,709.8 561.0,710.1 561.5,713.2 562.0,710.3 562.5,710.0 563.0,713.4 563.5,709.9 564.0,709.8 564.5,710.7 565.0,711.5 565.5,710.3 566.0,709.6 566.5,709.7 567.0,707.1 567.5,709.3 568.0,710.3 568.5,709.8 569.0,710.6 569.5,710.0 570.0,709.8 570.5,710.4 571.0,709.7 571.5,709.8 572.0,709.2 572.5,708.7 573.0,709.2 573.5,707.1 574.0,710.2 574.5,709.6 575.0,708.3 575.5,707.3 576.0,707.0 576.5,706.6 577.0,706.5 577.5,705.7 578.0,706.6 578.5,706.7 579.0,705.4 579.5,706.4 580.0,705.6 580.5,707.2 581.0,708.7 581.5,707.4 582.0,709.3 582.5,708.3 583.0,708.6 583.5,708.6 584.0,707.6 584.5,708.5 585.0,710.6 585.5,709.6 586.0,711.0 586.5,710.3 587.0,711.9 587.5,713.2 588.0,711.7 588.5,709.8 589.0,712.0 589.5,711.6 590.0,712.5 590.5,710.8 591.0,711.3 591.5,712.9 592.0,712.4 592.5,712.9 593.0,711.8 593.5,712.0 594.0,713.1 594.5,712.0 595.0,710.6 595.5,711.0 596.0,708.3 596.5,710.9 597.0,709.9 597.5,711.7 598.0,712.1 598.5,712.8 599.0,711.8 599.5,711.2 600.0,713.1 600.5,713.2 601.0,714.0 601.5,709.9 602.0,712.0 602.5,712.1 603.0,711.9 603.5,711.2 604.0,713.1 604.5,711.8 605.0,710.0 605.5,711.5 606.0,712.1 606.5,711.1 607.0,712.2 607.5,711.1 608.0,711.5 608.5,711.2 609.0,710.7 609.5,712.5 610.0,711.3 610.5,712.0 611.0,712.5 611.5,711.1 612.0,708.4 612.5,711.5 613.0,710.9 613.5,712.3 614.0,710.6 614.5,711.7 615.0,709.3 615.5,710.9 616.0,710.6 616.5,712.1 617.0,711.4 617.5,711.5 618.0,710.0 618.5,710.8 619.0,712.2 619.5,711.3 620.0,711.6 620.5,711.1 621.0,710.4 621.5,712.2 622.0,710.6 622.5,710.2 623.0,711.2 623.5,709.7 624.0,711.4 624.5,711.2 625.0,710.7 625.5,710.8 626.0,710.8 626.5,709.6 627.0,709.6 627.5,710.7 628.0,708.0 628.5,710.3 629.0,710.8 629.5,711.3 630.0,711.1 630.5,710.4 631.0,711.7 631.5,711.8 632.0,711.5 632.5,711.6 633.0,710.8 633.5,712.1 634.0,711.5 634.5,710.7 635.0,711.8 635.5,711.7 636.0,711.6 636.5,711.5 637.0,712.1 637.5,712.0 638.0,711.8 638.5,710.3 639.0,711.2 639.5,713.9 640.0,711.7 640.5,712.1 641.0,711.0 641.5,712.0 642.0,712.1 642.5,712.5 643.0,713.9 643.5,712.0 644.0,711.8 644.5,711.4 645.0,711.9 645.5,712.1 646.0,714.0 646.5,712.3 647.0,712.6 647.5,712.8 648.0,710.0 648.5,711.9 649.0,712.5 649.5,711.0 650.0,711.7 650.5,713.0 651.0,712.9 651.5,711.8 652.0,711.7 652.5,713.5 653.0,712.7 653.5,712.5 654.0,713.2 654.5,713.1 655.0,715.9 655.5,711.9 656.0,713.5 656.5,712.9 657.0,712.6 657.5,713.1 658.0,711.0 658.5,712.2 659.0,712.2 659.5,713.5 660.0,713.6 660.5,712.8 661.0,713.0 661.5,713.9 662.0,713.2 662.5,713.1 663.0,714.9 663.5,713.4 664.0,713.4 664.5,713.5 665.0,711.7 665.5,713.2 666.0,713.9 666.5,713.6 667.0,714.3 667.5,713.0 668.0,713.3 668.5,712.8 669.0,712.6 669.5,712.1 670.0,712.6 670.5,712.5 671.0,713.1 671.5,713.1 672.0,713.7 672.5,713.8 673.0,713.3 673.5,713.4 674.0,713.1 674.5,712.8 675.0,713.2 675.5,713.4 676.0,714.8 676.5,713.8 677.0,711.8 677.5,713.3 678.0,712.0 678.5,713.3 679.0,713.9 679.5,713.4 680.0,712.1 680.5,712.9 681.0,712.4 681.5,713.3 682.0,713.4 682.5,713.5 683.0,712.8 683.5,713.1 684.0,712.4 684.5,714.3 685.0,714.4 685.5,711.1 686.0,713.0 686.5,713.3 687.0,712.4 687.5,711.1 688.0,709.4 688.5,713.3 689.0,710.4 689.5,712.7 690.0,713.5 690.5,711.3 691.0,713.2 691.5,712.8 692.0,712.7 692.5,712.8 693.0,712.6 693.5,713.7 694.0,713.1 694.5,712.6 695.0,711.8 695.5,712.8 696.0,716.3 696.5,713.8 697.0,711.4 697.5,712.5 698.0,712.7 698.5,712.6 699.0,711.7 699.5,712.0 700.0,712.7 700.5,713.1 701.0,713.1 701.5,712.9 702.0,712.9 702.5,709.9 703.0,712.1 703.5,712.4 704.0,712.2 704.5,712.4 705.0,712.4 705.5,712.4 706.0,710.0 706.5,713.5 707.0,714.3 707.5,712.9 708.0,712.3 708.5,712.6 709.0,713.9 709.5,712.9 710.0,713.1 710.5,713.1 711.0,715.0 711.5,713.0 712.0,711.8 712.5,712.8 713.0,714.1 713.5,711.9 714.0,711.3 714.5,711.3 715.0,711.6 715.5,712.2 716.0,713.5 716.5,713.1 717.0,713.4 717.5,713.1 718.0,712.8 718.5,713.6 719.0,712.3 719.5,712.8 720.0,712.9 720.5,713.4 721.0,713.6 721.5,713.2 722.0,713.3 722.5,712.7 723.0,713.3 723.5,713.9 724.0,713.1 724.5,713.7 725.0,713.2 725.5,713.2 726.0,713.4 726.5,712.4 727.0,712.7 727.5,712.6 728.0,713.4 728.5,713.6 729.0,713.7 729.5,712.8 730.0,713.1 730.5,712.5 731.0,713.6 731.5,713.3 732.0,713.0 732.5,712.9 733.0,715.0 733.5,713.4 734.0,716.2 734.5,713.2 735.0,712.9 735.5,713.9 736.0,714.7 736.5,712.8 737.0,714.4 737.5,713.7 738.0,714.7 738.5,715.1 739.0,713.5 739.5,715.1 740.0,713.0 740.5,713.6 741.0,713.6 741.5,713.2 742.0,713.5 742.5,714.0 743.0,712.4 743.5,713.3 744.0,713.3 744.5,712.6 745.0,713.4 745.5,712.6 746.0,713.1 746.5,713.1 747.0,713.4 747.5,714.2 748.0,714.1 748.5,712.7 749.0,712.2 749.5,712.1 750.0,713.1 750.5,712.9 751.0,713.0 751.5,713.1 752.0,712.3 752.5,713.3 753.0,712.4 753.5,712.3 754.0,712.7 754.5,712.2 755.0,712.4 755.5,713.1 756.0,711.6 756.5,712.1 757.0,711.2 757.5,711.5 758.0,712.4 758.5,713.4 759.0,712.8 759.5,711.8 760.0,712.0 760.5,712.1 761.0,711.2 761.5,710.5 762.0,708.7 762.5,711.4 763.0,711.3 763.5,711.1 764.0,710.7 764.5,710.8 765.0,710.8 765.5,710.4 766.0,710.5 766.5,709.6 767.0,710.1 767.5,710.2 768.0,710.0 768.5,709.3 769.0,708.8 769.5,709.8 770.0,708.5 770.5,710.0 771.0,708.6 771.5,709.8 772.0,708.9 772.5,710.1 773.0,708.4 773.5,708.1 774.0,709.0 774.5,709.2 775.0,708.3 775.5,708.4 776.0,708.6 776.5,707.9 777.0,708.0 777.5,708.2 778.0,707.7 778.5,707.1 779.0,709.0 779.5,706.8 780.0,710.2 780.5,708.4 781.0,707.5 781.5,708.3 782.0,706.0 782.5,707.4 783.0,707.0 783.5,706.8 784.0,708.1 784.5,705.3 785.0,708.2 785.5,706.3 786.0,708.1 786.5,707.6 787.0,708.3 787.5,709.7 788.0,709.3 788.5,708.0 789.0,709.1 789.5,709.8 790.0,710.5 790.5,707.5 791.0,711.7 791.5,712.0 792.0,713.2 792.5,711.3 793.0,711.7 793.5,713.1 794.0,712.4 794.5,711.9 795.0,710.2 795.5,711.9 796.0,712.8 796.5,713.0 797.0,712.4 797.5,713.9 798.0,712.7 798.5,712.7 799.0,712.6 799.5,712.6 800.0,712.6 800.5,713.6 801.0,712.8 801.5,712.4 802.0,712.9 802.5,714.3 803.0,713.3 803.5,712.0 804.0,713.0 804.5,713.1 805.0,710.8 805.5,715.0 806.0,714.5 806.5,712.2 807.0,713.4 807.5,713.1 808.0,712.8 808.5,713.1 809.0,712.0 809.5,713.9 810.0,713.4 810.5,714.0 811.0,714.3 811.5,713.8 812.0,713.5 812.5,712.9 813.0,714.0 813.5,714.1 814.0,714.3 814.5,712.9 815.0,712.1 815.5,714.7 816.0,713.9 816.5,712.6 817.0,714.0 817.5,712.2 818.0,713.8 818.5,713.7 819.0,714.0 819.5,712.4 820.0,714.7 820.5,715.0 821.0,715.9 821.5,714.0 822.0,713.2 822.5,715.6 823.0,713.6 823.5,713.8 824.0,713.7 824.5,712.8 825.0,714.2 825.5,713.6 826.0,712.8 826.5,713.1 827.0,712.5 827.5,713.2 828.0,715.9 828.5,713.1 829.0,713.1 829.5,713.9 830.0,712.0 830.5,712.2 831.0,713.6 831.5,712.2 832.0,713.3 832.5,713.8 833.0,713.2 833.5,711.8 834.0,712.5 834.5,713.1 835.0,714.6 835.5,713.3 836.0,713.3 836.5,713.1 837.0,712.7 837.5,713.1 838.0,710.3 838.5,712.8 839.0,713.6 839.5,712.3 840.0,713.1 840.5,713.2 841.0,712.0 841.5,713.7 842.0,712.3 842.5,714.5 843.0,712.5 843.5,712.9 844.0,714.3 844.5,713.4 845.0,712.7 845.5,712.0 846.0,712.8 846.5,712.8 847.0,711.2 847.5,712.4 848.0,713.8 848.5,712.6 849.0,711.9 849.5,712.8 850.0,712.4 850.5,713.7 851.0,712.5 851.5,710.5 852.0,711.7 852.5,711.7 853.0,714.0 853.5,712.2 854.0,712.1 854.5,714.4 855.0,711.7 855.5,712.5 856.0,713.8 856.5,713.5 857.0,711.6 857.5,712.3 858.0,711.9 858.5,712.7 859.0,711.9 859.5,711.7 860.0,712.0 860.5,711.5 861.0,712.8 861.5,712.0 862.0,712.3 862.5,712.1 863.0,712.3 863.5,712.1 864.0,712.3 864.5,712.9 865.0,711.8 865.5,712.8 866.0,712.3 866.5,711.4 867.0,711.6 867.5,713.7 868.0,710.9 868.5,712.2 869.0,713.5 869.5,711.4 870.0,712.1 870.5,712.2 871.0,713.4 871.5,711.7 872.0,714.2 872.5,711.7 873.0,712.8 873.5,713.3 874.0,712.8 874.5,712.8 875.0,712.7 875.5,712.3 876.0,715.6 876.5,712.7 877.0,713.0 877.5,712.9 878.0,714.6 878.5,712.4 879.0,712.1 879.5,713.9 880.0,712.9 880.5,713.1 881.0,713.1 881.5,713.5 882.0,713.7 882.5,713.3 883.0,709.8 883.5,713.7 884.0,711.3 884.5,713.8 885.0,709.5 885.5,713.6 886.0,713.3 886.5,711.1 887.0,713.5 887.5,713.2 888.0,712.1 888.5,714.1 889.0,713.3 889.5,713.1 890.0,714.7 890.5,712.6 891.0,712.5 891.5,714.3 892.0,712.5 892.5,713.9 893.0,712.7 893.5,714.0 894.0,713.2 894.5,713.5 895.0,713.5 895.5,713.2 896.0,713.4 896.5,713.6 897.0,712.5 897.5,714.6 898.0,714.1 898.5,712.9 899.0,712.9 899.5,713.3 900.0,714.0 900.5,713.5 901.0,713.2 901.5,714.1 902.0,712.9 902.5,713.9 903.0,714.1 903.5,712.5 904.0,713.7 904.5,713.8 905.0,715.6 905.5,713.3 906.0,713.6 906.5,715.1 907.0,712.8 907.5,714.8 908.0,713.6 908.5,713.5 909.0,716.9 909.5,713.6 910.0,713.4 910.5,713.3 911.0,714.2 911.5,714.1 912.0,713.4 912.5,713.9 913.0,713.6 913.5,714.7 914.0,713.7 914.5,714.2 915.0,715.2 915.5,713.5 916.0,715.6 916.5,714.0 917.0,714.3 917.5,713.7 918.0,714.4 918.5,714.5 919.0,714.3 919.5,715.0 920.0,714.1 920.5,711.8 921.0,715.4 921.5,714.3 922.0,714.3 922.5,714.2 923.0,712.3 923.5,713.6 924.0,712.8 924.5,714.1 925.0,714.7 925.5,714.1 926.0,714.4 926.5,713.4 927.0,711.8 927.5,713.5 928.0,712.9 928.5,713.2 929.0,713.0 929.5,712.8 930.0,713.7 930.5,713.5 931.0,714.0 931.5,715.6 932.0,712.7 932.5,714.6 933.0,713.7 933.5,713.2 934.0,715.0 934.5,713.1 935.0,711.1 935.5,712.0 936.0,712.6 936.5,713.2 937.0,712.9 937.5,713.1 938.0,710.5 938.5,712.2 939.0,712.7 939.5,712.9 940.0,712.5 940.5,712.0 941.0,712.1 941.5,712.9 942.0,712.8 942.5,711.9 943.0,713.9 943.5,710.7 944.0,711.8 944.5,712.3 945.0,713.0 945.5,712.5 946.0,712.7 946.5,714.0 947.0,712.2 947.5,711.8 948.0,712.4 948.5,712.6 949.0,711.6 949.5,710.8 950.0,713.0 950.5,715.1 951.0,713.9 951.5,712.4 952.0,712.6 952.5,713.4 953.0,715.0 953.5,712.5 954.0,714.3 954.5,713.1 955.0,711.9 955.5,712.7 956.0,709.3 956.5,712.7 957.0,712.9 957.5,713.4 958.0,712.6 958.5,713.1 959.0,713.2 959.5,712.9 960.0,713.1 960.5,712.9 961.0,713.1 961.5,712.9 962.0,714.2 962.5,712.0 963.0,713.9 963.5,713.5 964.0,710.5 964.5,713.5 965.0,712.9 965.5,713.1 966.0,713.2 966.5,713.6 967.0,713.2 967.5,713.4 968.0,712.7 968.5,711.9 969.0,713.5 969.5,715.8 970.0,712.0 970.5,714.4 971.0,713.1 971.5,713.5 972.0,712.8 972.5,713.6 973.0,713.1 973.5,713.8 974.0,712.8 974.5,712.9 975.0,713.4 975.5,712.1 976.0,715.2 976.5,713.3 977.0,715.1 977.5,712.4 978.0,713.5 978.5,712.5 979.0,711.9 979.5,713.0 980.0,713.0 980.5,713.1 981.0,713.0 981.5,712.4 982.0,713.3 982.5,712.5 983.0,712.6 983.5,713.5 984.0,713.2 984.5,713.3 985.0,714.1 985.5,713.6 986.0,712.2 986.5,714.8 987.0,712.8 987.5,712.8 988.0,712.3 988.5,712.5 989.0,712.7 989.5,710.8 990.0,713.0 990.5,712.3 991.0,712.8 991.5,712.9 992.0,712.7 992.5,711.2 993.0,712.5 993.5,712.2 994.0,712.7 994.5,712.7 995.0,712.3 995.5,712.7 996.0,711.4 996.5,712.9 997.0,714.1 997.5,713.3 998.0,712.8 998.5,712.0 999.0,713.5 999.5,712.2 1000.0,711.5 1000.5,712.1 1001.0,712.8 1001.5,712.3 1002.0,712.7 1002.5,710.1 1003.0,713.8 1003.5,713.0 1004.0,711.6 1004.5,712.7 1005.0,710.5 1005.5,710.8 1006.0,710.1 1006.5,710.9 1007.0,711.6 1007.5,711.6 1008.0,708.8 1008.5,710.4 1009.0,709.7 1009.5,708.9 1010.0,710.3 1010.5,709.1 1011.0,707.2 1011.5,708.5 1012.0,708.8 1012.5,709.1 1013.0,707.5 1013.5,708.2 1014.0,706.9 1014.5,709.3 1015.0,705.5 1015.5,710.1 1016.0,708.4 1016.5,708.8 1017.0,708.6 1017.5,708.4 1018.0,708.4 1018.5,707.9 1019.0,708.2 1019.5,707.5 1020.0,708.2 1020.5,708.9 1021.0,708.5 1021.5,708.2 1022.0,707.8 1022.5,709.0 1023.0,708.0 1023.5,706.5 1024.0,706.7 1024.5,708.2 1025.0,705.6 1025.5,706.1 1026.0,705.7 1026.5,705.4 1027.0,704.9 1027.5,705.0 1028.0,704.0 1028.5,705.2 1029.0,703.5 1029.5,702.8 1030.0,702.9 1030.5,702.6 1031.0,703.2 1031.5,701.8 1032.0,701.2 1032.5,700.8 1033.0,700.8 1033.5,700.4 1034.0,700.9 1034.5,701.4 1035.0,700.6 1035.5,699.7 1036.0,698.4 1036.5,701.2 1037.0,700.1 1037.5,701.0 1038.0,702.4 1038.5,702.6 1039.0,701.5 1039.5,702.8 1040.0,701.8 1040.5,703.6 1041.0,703.0 1041.5,702.1 1042.0,704.6 1042.5,703.8 1043.0,708.6 1043.5,704.2 1044.0,706.9 1044.5,706.2 1045.0,707.7 1045.5,708.1 1046.0,709.8 1046.5,709.0 1047.0,710.0 1047.5,711.3 1048.0,708.7 1048.5,710.6 1049.0,709.2 1049.5,711.2 1050.0,711.7 1050.5,710.2 1051.0,712.2 1051.5,711.4 1052.0,711.3 1052.5,713.7 1053.0,711.9 1053.5,711.7 1054.0,712.0 1054.5,713.4 1055.0,714.7 1055.5,712.3 1056.0,712.4 1056.5,712.5 1057.0,713.2 1057.5,709.7 1058.0,713.0 1058.5,714.4 1059.0,712.3 1059.5,712.4 1060.0,714.1 1060.5,712.4 1061.0,712.3 1061.5,713.4 1062.0,712.5 1062.5,712.8 1063.0,712.2 1063.5,712.9 1064.0,712.4 1064.5,713.2 1065.0,712.6 1065.5,713.9 1066.0,712.7 1066.5,713.5 1067.0,712.6 1067.5,713.0 1068.0,712.3 1068.5,712.8 1069.0,713.0 1069.5,712.1 1070.0,712.8 1070.5,714.0 1071.0,712.2 1071.5,712.8 1072.0,713.6 1072.5,712.7 1073.0,710.9 1073.5,712.9 1074.0,712.8 1074.5,714.2 1075.0,713.2 1075.5,713.5 1076.0,712.7 1076.5,714.0 1077.0,713.7 1077.5,711.8 1078.0,713.2 1078.5,714.1 1079.0,713.2 1079.5,714.9 1080.0,712.6 1080.5,713.2 1081.0,713.1 1081.5,712.7 1082.0,713.6 1082.5,713.0 1083.0,713.4 1083.5,713.7 1084.0,713.6 1084.5,712.1 1085.0,711.7 1085.5,713.9 1086.0,713.4 1086.5,712.4 1087.0,712.3 1087.5,713.2 1088.0,712.6 1088.5,714.6 1089.0,712.7 1089.5,714.8 1090.0,713.7 1090.5,713.3 1091.0,713.5 1091.5,713.6 1092.0,712.8 1092.5,713.2 1093.0,711.8 1093.5,711.6 1094.0,714.6 1094.5,713.9 1095.0,713.6 1095.5,712.0 1096.0,713.3 1096.5,713.4 1097.0,712.9 1097.5,712.8 1098.0,713.4 1098.5,710.4 1099.0,712.9 1099.5,712.5 1100.0,712.9 1100.5,713.0 1101.0,712.8 1101.5,713.8 1102.0,713.8 1102.5,713.3 1103.0,713.4 1103.5,712.8 1104.0,712.4 1104.5,713.5 1105.0,711.8 1105.5,712.9 1106.0,712.9 1106.5,711.7 1107.0,712.1 1107.5,713.0 1108.0,713.5 1108.5,712.5 1109.0,712.7 1109.5,713.0 1110.0,712.7 1110.5,712.5 1111.0,712.8 1111.5,712.9 1112.0,713.1 1112.5,712.6 1113.0,712.7 1113.5,711.8 1114.0,711.7 1114.5,713.1 1115.0,711.9 1115.5,712.3 1116.0,713.4 1116.5,711.5 1117.0,712.6 1117.5,711.9 1118.0,712.5 1118.5,713.0 1119.0,713.0 1119.5,712.9 1120.0,712.4 1120.5,712.4 1121.0,711.6 1121.5,711.4 1122.0,712.8 1122.5,710.8 1123.0,713.7 1123.5,711.7 1124.0,712.8 1124.5,712.3 1125.0,712.6 1125.5,712.9 1126.0,712.1 1126.5,713.1 1127.0,712.9 1127.5,712.6 1128.0,712.6 1128.5,712.3 1129.0,714.4 1129.5,712.3 1130.0,712.0 1130.5,712.6 1131.0,713.8 1131.5,713.8 1132.0,712.6 1132.5,712.4 1133.0,713.0 1133.5,712.6 1134.0,713.3 1134.5,713.3 1135.0,712.9 1135.5,714.6 1136.0,712.8 1136.5,714.6 1137.0,712.9 1137.5,712.1 1138.0,712.8 1138.5,713.2 1139.0,712.5 1139.5,711.9 1140.0,712.4 1140.5,713.2 1141.0,712.1 1141.5,710.1 1142.0,713.7 1142.5,714.6 1143.0,713.6 1143.5,713.3 1144.0,713.1 1144.5,712.8 1145.0,713.0 1145.5,713.2 1146.0,712.5 1146.5,712.2 1147.0,713.1 1147.5,712.9 1148.0,715.5 1148.5,712.7 1149.0,712.7 1149.5,711.9 1150.0,710.5 1150.5,712.0 1151.0,713.0 1151.5,714.6 1152.0,711.9 1152.5,712.1 1153.0,713.2 1153.5,712.6 1154.0,711.3 1154.5,713.9 1155.0,712.1 1155.5,712.8 1156.0,713.4 1156.5,713.5 1157.0,714.6 1157.5,713.1 1158.0,712.1 1158.5,711.7 1159.0,713.2 1159.5,713.0 1160.0,712.5 1160.5,712.3 1161.0,712.8 1161.5,712.7 1162.0,712.8 1162.5,712.8 1163.0,713.6 1163.5,713.1 1164.0,713.9 1164.5,713.2 1165.0,712.8 1165.5,714.5 1166.0,713.5 1166.5,714.0 1167.0,712.7 1167.5,715.2 1168.0,713.5 1168.5,713.1 1169.0,712.8 1169.5,712.2 1170.0,711.5 1170.5,712.7 1171.0,713.1 1171.5,713.4 1172.0,713.3 1172.5,711.8 1173.0,712.6 1173.5,711.2 1174.0,711.8 1174.5,713.2 1175.0,713.7 1175.5,712.7 1176.0,714.5 1176.5,716.1 1177.0,713.8 1177.5,712.0 1178.0,712.9 1178.5,713.7 1179.0,715.0 1179.5,715.9 1180.0,714.1 1180.5,714.7 1181.0,712.6 1181.5,713.8 1182.0,713.7 1182.5,713.2 1183.0,713.9 1183.5,713.9 1184.0,715.8 1184.5,712.5 1185.0,713.5 1185.5,713.2 1186.0,713.4 1186.5,713.6 1187.0,713.7 1187.5,715.6 1188.0,713.7 1188.5,714.0 1189.0,713.3 1189.5,713.5 1190.0,713.5 1190.5,714.2 1191.0,713.7 1191.5,713.7 1192.0,714.1 1192.5,711.8 1193.0,715.0 1193.5,712.6 1194.0,714.1 1194.5,716.8 1195.0,713.5 1195.5,712.6 1196.0,714.2 1196.5,714.5 1197.0,714.1 1197.5,713.8 1198.0,714.7 1198.5,714.5 1199.0,714.1 1199.5,714.6 1200.0,715.2 1200.5,714.4 1201.0,714.3 1201.5,714.6 1202.0,714.5 1202.5,713.4 1203.0,715.6 1203.5,713.6 1204.0,714.9 1204.5,714.4 1205.0,715.0 1205.5,714.5 1206.0,715.1 1206.5,714.4 1207.0,714.0 1207.5,715.0 1208.0,715.1 1208.5,714.4 1209.0,715.7 1209.5,714.8 1210.0,715.7 1210.5,713.7 1211.0,715.8 1211.5,714.9 1212.0,715.8 1212.5,714.1 1213.0,714.4 1213.5,715.4 1214.0,714.6 1214.5,713.9 1215.0,713.9 1215.5,715.8 1216.0,714.6 1216.5,712.8 1217.0,713.8 1217.5,714.3 1218.0,713.6 1218.5,714.2 1219.0,714.5 1219.5,713.0 1220.0,713.8 1220.5,715.2 1221.0,712.5 1221.5,713.2 1222.0,714.9 1222.5,714.5 1223.0,714.1 1223.5,715.0 1224.0,713.6 1224.5,711.1 1225.0,714.8 1225.5,714.4 1226.0,713.9 1226.5,714.2 1227.0,712.9 1227.5,713.8 1228.0,714.2 1228.5,714.9 1229.0,713.8 1229.5,712.6 1230.0,712.9 1230.5,713.7 1231.0,714.2 1231.5,714.4 1232.0,714.4 1232.5,715.0 1233.0,714.3 1233.5,714.3 1234.0,714.1 1234.5,714.3 1235.0,714.4 1235.5,716.0 1236.0,713.3 1236.5,714.2 1237.0,713.0 1237.5,713.3 1238.0,715.2 1238.5,713.8 1239.0,714.0 1239.5,713.3 1240.0,713.9 1240.5,711.9 1241.0,714.0 1241.5,715.5 1242.0,714.2 1242.5,714.1 1243.0,713.9 1243.5,713.5 1244.0,714.4 1244.5,713.7 1245.0,713.5 1245.5,713.9 1246.0,715.8 1246.5,714.2 1247.0,714.0 1247.5,712.7 1248.0,714.2 1248.5,713.4 1249.0,713.7 1249.5,713.5 1250.0,714.0 1250.5,711.5 1251.0,712.2 1251.5,712.9 1252.0,712.6 1252.5,713.4 1253.0,712.1 1253.5,711.9 1254.0,713.0 1254.5,711.6 1255.0,713.5 1255.5,712.6 1256.0,712.4 1256.5,712.9 1257.0,714.7 1257.5,712.3 1258.0,712.0 1258.5,712.3 1259.0,713.0 1259.5,713.8 1260.0,711.6 1260.5,710.4 1261.0,711.8 1261.5,711.3 1262.0,711.6 1262.5,710.9 1263.0,710.6 1263.5,709.4 1264.0,709.3 1264.5,710.8 1265.0,707.7 1265.5,707.0 1266.0,706.8 1266.5,709.7 1267.0,709.0 1267.5,709.3 1268.0,709.1 1268.5,709.5 1269.0,708.8 1269.5,708.5 1270.0,708.0 1270.5,709.1 1271.0,708.9 1271.5,711.0 1272.0,710.5 1272.5,709.9 1273.0,710.5 1273.5,710.7 1274.0,711.2 1274.5,713.0 1275.0,711.5 1275.5,712.5 1276.0,712.8 1276.5,714.8 1277.0,712.7 1277.5,713.6 1278.0,712.2 1278.5,713.4 1279.0,715.0 1279.5,713.7 1280.0,711.5 1280.5,715.7 1281.0,713.4 1281.5,713.5 1282.0,714.9 1282.5,713.5 1283.0,712.9 1283.5,713.3 1284.0,713.9 1284.5,713.3 1285.0,712.7 1285.5,713.3 1286.0,712.4 1286.5,712.4 1287.0,712.5 1287.5,713.5 1288.0,713.2 1288.5,712.8 1289.0,714.0 1289.5,713.7 1290.0,714.2 1290.5,712.8 1291.0,713.7 1291.5,713.1 1292.0,713.6 1292.5,713.5 1293.0,713.7 1293.5,713.7 1294.0,714.8 1294.5,713.8 1295.0,713.4 1295.5,714.2 1296.0,712.9 1296.5,714.2 1297.0,713.8 1297.5,713.2 1298.0,714.2 1298.5,712.7 1299.0,711.9 1299.5,713.3 1300.0,713.7 1300.5,713.9 1301.0,713.4 1301.5,713.9 1302.0,716.0 1302.5,717.3 1303.0,714.2 1303.5,713.5 1304.0,713.8 1304.5,714.5 1305.0,714.8 1305.5,715.4 1306.0,713.7 1306.5,713.6 1307.0,713.6 1307.5,714.5 1308.0,715.6 1308.5,714.0 1309.0,713.9 1309.5,714.2 1310.0,713.9 1310.5,714.1 1311.0,713.3 1311.5,712.9 1312.0,713.9 1312.5,713.6 1313.0,713.3 1313.5,715.9 1314.0,714.4 1314.5,713.9 1315.0,716.9 1315.5,713.1 1316.0,713.9 1316.5,715.2 1317.0,716.0 1317.5,714.8 1318.0,713.5 1318.5,714.3 1319.0,712.9 1319.5,712.9 1320.0,715.1 1320.5,710.8 1321.0,713.2 1321.5,713.3 1322.0,714.7 1322.5,714.5 1323.0,713.8 1323.5,714.2 1324.0,716.0 1324.5,713.8 1325.0,713.1 1325.5,714.7 1326.0,713.4 1326.5,714.5 1327.0,714.0 1327.5,712.6 1328.0,714.8 1328.5,715.0 1329.0,714.2 1329.5,713.8 1330.0,716.6 1330.5,714.1 1331.0,714.1 1331.5,714.4 1332.0,714.1 1332.5,714.2 1333.0,715.9 1333.5,713.4 1334.0,715.4 1334.5,714.7 1335.0,712.9 1335.5,713.9 1336.0,715.0 1336.5,714.8 1337.0,714.3 1337.5,714.4 1338.0,716.1 1338.5,715.2 1339.0,715.1 1339.5,716.1 1340.0,714.3 1340.5,714.6 1341.0,715.6 1341.5,714.8 1342.0,714.8 1342.5,715.6 1343.0,718.4 1343.5,716.0 1344.0,715.5 1344.5,714.9 1345.0,715.4 1345.5,714.5 1346.0,714.6 1346.5,714.4 1347.0,715.4 1347.5,716.6 1348.0,715.6 1348.5,714.7 1349.0,715.4 1349.5,714.9 1350.0,715.8 1350.5,715.1 1351.0,714.7 1351.5,714.8 1352.0,714.0" fill="none" stroke="#0000ff" stroke-width="1.75" stroke-linejoin="round"/>
<path d="M145.0,869.9 145.5,869.9 146.0,870.1 146.5,870.4 147.0,871.5 147.5,870.9 148.0,870.3 148.5,870.0 149.0,869.5 149.5,870.4 150.0,868.9 150.5,868.8 151.0,870.5 151.5,869.6 152.0,871.2 152.5,870.7 153.0,870.4 153.5,871.8 154.0,869.5 154.5,870.1 155.0,870.5 155.5,872.3 156.0,869.2 156.5,870.7 157.0,871.8 157.5,869.7 158.0,870.9 158.5,870.9 159.0,870.4 159.5,870.7 160.0,872.0 160.5,870.6 161.0,870.6 161.5,870.8 162.0,868.9 162.5,871.4 163.0,869.2 163.5,872.9 164.0,872.7 164.5,871.5 165.0,871.8 165.5,871.0 166.0,870.5 166.5,871.0 167.0,871.1 167.5,870.0 168.0,871.4 168.5,870.5 169.0,870.9 169.5,870.5 170.0,870.5 170.5,871.9 171.0,871.4 171.5,869.5 172.0,871.5 172.5,872.2 173.0,871.3 173.5,871.3 174.0,870.6 174.5,871.3 175.0,870.8 175.5,872.3 176.0,871.4 176.5,870.8 177.0,872.0 177.5,871.6 178.0,870.5 178.5,870.5 179.0,868.6 179.5,871.6 180.0,869.9 180.5,870.7 181.0,871.6 181.5,870.8 182.0,870.8 182.5,869.8 183.0,869.7 183.5,871.3 184.0,870.4 184.5,873.1 185.0,869.3 185.5,871.0 186.0,870.7 186.5,872.5 187.0,871.9 187.5,870.5 188.0,870.0 188.5,870.3 189.0,872.0 189.5,872.0 190.0,871.8 190.5,871.6 191.0,871.6 191.5,871.8 192.0,870.7 192.5,872.4 193.0,872.3 193.5,872.1 194.0,871.3 194.5,871.3 195.0,874.1 195.5,873.5 196.0,872.4 196.5,872.6 197.0,872.0 197.5,873.0 198.0,872.4 198.5,872.0 199.0,872.5 199.5,870.9 200.0,872.0 200.5,873.0 201.0,872.2 201.5,872.4 202.0,872.4 202.5,873.8 203.0,871.8 203.5,872.7 204.0,872.4 204.5,872.0 205.0,870.9 205.5,872.7 206.0,871.9 206.5,872.7 207.0,872.5 207.5,872.5 208.0,873.7 208.5,871.6 209.0,872.8 209.5,872.6 210.0,872.0 210.5,872.7 211.0,873.7 211.5,872.2 212.0,873.2 212.5,872.5 213.0,872.9 213.5,873.0 214.0,871.7 214.5,873.6 215.0,872.8 215.5,872.4 216.0,872.5 216.5,875.4 217.0,874.6 217.5,873.1 218.0,872.7 218.5,873.5 219.0,871.6 219.5,874.0 220.0,870.2 220.5,871.7 221.0,873.0 221.5,873.2 222.0,870.2 222.5,872.9 223.0,875.6 223.5,873.9 224.0,871.9 224.5,874.3 225.0,873.4 225.5,876.0 226.0,873.2 226.5,873.1 227.0,873.8 227.5,873.5 228.0,873.1 228.5,873.6 229.0,873.8 229.5,873.3 230.0,874.3 230.5,874.1 231.0,874.1 231.5,873.9 232.0,873.2 232.5,874.1 233.0,873.0 233.5,872.9 234.0,873.8 234.5,873.1 235.0,872.9 235.5,874.0 236.0,875.9 236.5,872.4 237.0,873.8 237.5,872.8 238.0,874.0 238.5,874.0 239.0,873.9 239.5,872.2 240.0,874.3 240.5,874.0 241.0,874.1 241.5,874.3 242.0,875.1 242.5,873.9 243.0,875.2 243.5,873.3 244.0,874.0 244.5,873.4 245.0,873.9 245.5,875.2 246.0,876.1 246.5,874.1 247.0,873.7 247.5,873.8 248.0,875.2 248.5,874.1 249.0,873.5 249.5,874.9 250.0,874.2 250.5,874.1 251.0,875.3 251.5,874.7 252.0,871.8 252.5,876.1 253.0,874.2 253.5,873.6 254.0,875.4 254.5,874.2 255.0,874.6 255.5,874.8 256.0,873.7 256.5,876.6 257.0,874.4 257.5,872.9 258.0,874.4 258.5,872.2 259.0,876.5 259.5,874.6 260.0,874.1 260.5,874.9 261.0,874.8 261.5,874.5 262.0,873.6 262.5,872.9 263.0,874.9 263.5,875.0 264.0,873.7 264.5,873.7 265.0,873.7 265.5,873.4 266.0,875.2 266.5,873.7 267.0,874.0 267.5,873.8 268.0,872.4 268.5,872.2 269.0,872.6 269.5,873.4 270.0,873.4 270.5,876.1 271.0,873.6 271.5,872.7 272.0,871.8 272.5,871.4 273.0,871.7 273.5,870.8 274.0,871.2 274.5,870.8 275.0,869.1 275.5,871.0 276.0,869.5 276.5,870.5 277.0,873.1 277.5,871.6 278.0,872.4 278.5,873.5 279.0,872.7 279.5,874.5 280.0,874.6 280.5,874.1 281.0,874.5 281.5,874.6 282.0,875.8 282.5,875.8 283.0,876.4 283.5,875.3 284.0,876.2 284.5,875.3 285.0,875.4 285.5,876.0 286.0,875.6 286.5,879.3 287.0,875.5 287.5,875.4 288.0,876.9 288.5,876.8 289.0,875.2 289.5,875.7 290.0,876.0 290.5,874.6 291.0,875.7 291.5,876.4 292.0,876.4 292.5,875.0 293.0,875.5 293.5,875.4 294.0,876.1 294.5,874.8 295.0,878.1 295.5,874.7 296.0,875.7 296.5,875.9 297.0,877.1 297.5,875.7 298.0,876.3 298.5,875.5 299.0,874.9 299.5,875.3 300.0,875.5 300.5,875.4 301.0,875.9 301.5,875.3 302.0,875.1 302.5,875.2 303.0,875.2 303.5,872.5 304.0,874.8 304.5,875.2 305.0,875.4 305.5,874.9 306.0,875.5 306.5,875.0 307.0,874.9 307.5,874.6 308.0,875.7 308.5,876.4 309.0,875.6 309.5,874.7 310.0,875.6 310.5,875.3 311.0,876.6 311.5,872.3 312.0,875.9 312.5,875.3 313.0,876.3 313.5,875.6 314.0,872.6 314.5,875.8 315.0,875.6 315.5,875.1 316.0,874.6 316.5,875.5 317.0,875.7 317.5,875.7 318.0,873.4 318.5,874.9 319.0,876.1 319.5,875.9 320.0,876.3 320.5,875.7 321.0,875.4 321.5,876.5 322.0,875.4 322.5,874.6 323.0,875.8 323.5,876.0 324.0,875.5 324.5,877.7 325.0,875.6 325.5,875.2 326.0,876.4 326.5,875.4 327.0,875.9 327.5,876.1 328.0,875.9 328.5,876.6 329.0,875.5 329.5,876.6 330.0,875.4 330.5,876.6 331.0,878.6 331.5,877.1 332.0,878.0 332.5,876.6 333.0,875.8 333.5,876.4 334.0,877.2 334.5,875.8 335.0,877.0 335.5,876.4 336.0,877.9 336.5,876.5 337.0,876.5 337.5,876.4 338.0,876.9 338.5,878.4 339.0,876.9 339.5,877.3 340.0,876.9 340.5,875.7 341.0,877.1 341.5,877.1 342.0,877.1 342.5,876.6 343.0,876.6 343.5,876.7 344.0,875.2 344.5,876.3 345.0,876.7 345.5,877.1 346.0,878.3 346.5,877.5 347.0,877.2 347.5,877.6 348.0,877.1 348.5,875.6 349.0,877.6 349.5,877.6 350.0,877.5 350.5,878.1 351.0,877.9 351.5,878.1 352.0,875.8 352.5,880.9 353.0,877.5 353.5,877.6 354.0,877.6 354.5,877.1 355.0,877.2 355.5,878.5 356.0,877.7 356.5,879.3 357.0,877.0 357.5,877.7 358.0,877.8 358.5,875.9 359.0,877.9 359.5,877.5 360.0,877.6 360.5,877.0 361.0,877.8 361.5,878.0 362.0,878.7 362.5,878.4 363.0,879.8 363.5,879.7 364.0,878.0 364.5,877.2 365.0,877.6 365.5,876.4 366.0,877.7 366.5,877.2 367.0,877.6 367.5,878.0 368.0,876.1 368.5,878.5 369.0,875.8 369.5,877.5 370.0,876.9 370.5,875.7 371.0,877.4 371.5,877.0 372.0,876.2 372.5,878.1 373.0,876.9 373.5,878.8 374.0,877.6 374.5,877.1 375.0,875.9 375.5,878.2 376.0,876.3 376.5,877.9 377.0,877.4 377.5,877.2 378.0,876.1 378.5,877.2 379.0,875.0 379.5,877.8 380.0,877.6 380.5,876.4 381.0,877.2 381.5,876.5 382.0,877.6 382.5,876.5 383.0,876.5 383.5,876.8 384.0,879.1 384.5,877.8 385.0,877.0 385.5,877.7 386.0,876.9 386.5,876.4 387.0,878.2 387.5,875.1 388.0,877.1 388.5,878.0 389.0,874.8 389.5,876.6 390.0,876.0 390.5,873.5 391.0,874.8 391.5,874.2 392.0,874.2 392.5,873.9 393.0,873.6 393.5,870.9 394.0,872.7 394.5,872.4 395.0,872.6 395.5,872.3 396.0,872.0 396.5,871.2 397.0,871.0 397.5,869.1 398.0,867.7 398.5,865.3 399.0,866.4 399.5,866.6 400.0,866.7 400.5,868.4 401.0,870.7 401.5,870.3 402.0,871.0 402.5,873.4 403.0,874.1 403.5,873.1 404.0,874.3 404.5,877.3 405.0,874.5 405.5,876.3 406.0,873.9 406.5,875.7 407.0,875.5 407.5,875.7 408.0,874.8 408.5,875.9 409.0,876.5 409.5,876.1 410.0,875.3 410.5,876.8 411.0,877.2 411.5,876.2 412.0,876.1 412.5,874.1 413.0,875.1 413.5,876.3 414.0,875.5 414.5,878.5 415.0,876.9 415.5,876.4 416.0,876.9 416.5,876.1 417.0,878.1 417.5,876.9 418.0,877.3 418.5,876.3 419.0,877.0 419.5,877.5 420.0,876.9 420.5,875.6 421.0,876.9 421.5,877.6 422.0,876.8 422.5,878.9 423.0,876.8 423.5,877.6 424.0,874.7 424.5,876.7 425.0,876.5 425.5,876.2 426.0,877.5 426.5,875.2 427.0,876.2 427.5,875.9 428.0,877.8 428.5,876.2 429.0,874.4 429.5,873.3 430.0,871.5 430.5,872.2 431.0,873.3 431.5,871.4 432.0,869.5 432.5,867.2 433.0,865.7 433.5,864.3 434.0,863.3 434.5,859.4 435.0,862.8 435.5,864.6 436.0,864.6 436.5,867.8 437.0,865.7 437.5,870.2 438.0,868.6 438.5,869.5 439.0,871.0 439.5,872.3 440.0,875.2 440.5,874.0 441.0,876.0 441.5,876.9 442.0,878.4 442.5,874.7 443.0,873.7 443.5,870.5 444.0,871.3 444.5,870.1 445.0,868.3 445.5,869.2 446.0,867.2 446.5,865.9 447.0,865.1 447.5,863.2 448.0,864.9 448.5,864.1 449.0,865.1 449.5,866.0 450.0,869.0 450.5,868.1 451.0,869.3 451.5,870.7 452.0,872.8 452.5,872.9 453.0,873.4 453.5,872.2 454.0,874.8 454.5,874.4 455.0,873.9 455.5,875.2 456.0,876.6 456.5,875.9 457.0,876.0 457.5,875.9 458.0,875.8 458.5,875.0 459.0,872.8 459.5,873.1 460.0,872.3 460.5,872.9 461.0,871.3 461.5,872.4 462.0,873.2 462.5,873.8 463.0,869.5 463.5,871.2 464.0,869.8 464.5,870.9 465.0,867.2 465.5,867.1 466.0,867.0 466.5,863.3 467.0,865.7 467.5,863.9 468.0,864.0 468.5,864.2 469.0,862.1 469.5,861.7 470.0,864.7 470.5,860.7 471.0,861.6 471.5,860.5 472.0,857.1 472.5,858.7 473.0,858.4 473.5,855.4 474.0,856.9 474.5,856.2 475.0,854.0 475.5,852.7 476.0,850.7 476.5,849.7 477.0,846.3 477.5,843.1 478.0,840.6 478.5,836.8 479.0,833.2 479.5,830.1 480.0,829.3 480.5,828.0 481.0,827.5 481.5,827.1 482.0,827.1 482.5,827.3 483.0,826.3 483.5,829.7 484.0,834.0 484.5,835.9 485.0,840.8 485.5,844.3 486.0,848.5 486.5,852.5 487.0,856.5 487.5,859.7 488.0,860.4 488.5,865.0 489.0,865.5 489.5,865.5 490.0,866.8 490.5,866.4 491.0,868.5 491.5,868.2 492.0,867.8 492.5,866.3 493.0,865.2 493.5,867.5 494.0,866.3 494.5,865.2 495.0,866.9 495.5,867.1 496.0,866.1 496.5,867.2 497.0,866.1 497.5,865.8 498.0,865.1 498.5,865.7 499.0,865.3 499.5,863.9 500.0,861.6 500.5,862.0 501.0,859.9 501.5,858.5 502.0,856.4 502.5,850.3 503.0,847.0 503.5,842.6 504.0,840.4 504.5,837.1 505.0,834.8 505.5,832.0 506.0,829.5 506.5,828.5 507.0,832.5 507.5,835.3 508.0,839.3 508.5,840.9 509.0,844.8 509.5,842.3 510.0,844.1 510.5,840.4 511.0,840.7 511.5,839.8 512.0,837.7 512.5,839.2 513.0,838.0 513.5,834.1 514.0,832.5 514.5,832.3 515.0,831.9 515.5,832.5 516.0,833.0 516.5,836.1 517.0,837.4 517.5,838.9 518.0,842.1 518.5,844.1 519.0,849.0 519.5,849.7 520.0,849.9 520.5,856.5 521.0,854.0 521.5,854.3 522.0,852.9 522.5,852.3 523.0,851.5 523.5,851.4 524.0,850.2 524.5,848.8 525.0,849.1 525.5,852.4 526.0,855.2 526.5,857.3 527.0,858.8 527.5,860.1 528.0,861.1 528.5,862.5 529.0,863.8 529.5,864.8 530.0,863.5 530.5,860.2 531.0,858.9 531.5,856.6 532.0,855.7 532.5,851.4 533.0,847.3 533.5,845.6 534.0,841.4 534.5,838.6 535.0,838.9 535.5,840.2 536.0,841.8 536.5,841.3 537.0,845.4 537.5,843.9 538.0,851.0 538.5,855.1 539.0,860.3 539.5,862.3 540.0,865.6 540.5,866.4 541.0,867.9 541.5,869.2 542.0,870.8 542.5,873.1 543.0,874.5 543.5,873.0 544.0,873.9 544.5,874.3 545.0,874.3 545.5,874.7 546.0,875.2 546.5,875.3 547.0,876.2 547.5,875.8 548.0,876.2 548.5,875.7 549.0,878.6 549.5,875.5 550.0,877.3 550.5,877.4 551.0,877.1 551.5,879.6 552.0,876.0 552.5,877.5 553.0,877.9 553.5,878.6 554.0,878.5 554.5,878.8 555.0,879.3 555.5,876.2 556.0,878.5 556.5,878.3 557.0,878.7 557.5,878.4 558.0,878.2 558.5,875.5 559.0,878.1 559.5,878.3 560.0,878.0 560.5,877.9 561.0,878.2 561.5,877.6 562.0,878.6 562.5,877.4 563.0,877.4 563.5,877.3 564.0,878.3 564.5,877.3 565.0,878.8 565.5,873.7 566.0,878.4 566.5,876.0 567.0,877.6 567.5,874.7 568.0,877.1 568.5,876.3 569.0,876.3 569.5,875.7 570.0,875.6 570.5,874.7 571.0,874.4 571.5,875.2 572.0,874.6 572.5,872.7 573.0,873.6 573.5,873.4 574.0,873.2 574.5,873.6 575.0,874.6 575.5,873.3 576.0,873.4 576.5,871.7 577.0,872.8 577.5,873.1 578.0,875.1 578.5,872.2 579.0,871.7 579.5,873.1 580.0,870.2 580.5,871.4 581.0,871.0 581.5,870.8 582.0,870.1 582.5,869.5 583.0,870.4 583.5,872.1 584.0,871.9 584.5,874.3 585.0,872.3 585.5,874.4 586.0,874.2 586.5,874.3 587.0,874.6 587.5,875.2 588.0,875.7 588.5,875.8 589.0,876.2 589.5,879.1 590.0,877.5 590.5,878.2 591.0,878.5 591.5,877.9 592.0,879.6 592.5,877.9 593.0,877.7 593.5,876.7 594.0,878.0 594.5,877.0 595.0,878.7 595.5,878.6 596.0,876.5 596.5,880.2 597.0,879.1 597.5,878.8 598.0,880.2 598.5,878.8 599.0,878.1 599.5,879.4 600.0,880.5 600.5,877.5 601.0,879.0 601.5,878.5 602.0,880.2 602.5,878.0 603.0,879.8 603.5,878.6 604.0,879.5 604.5,879.6 605.0,879.8 605.5,877.9 606.0,879.4 606.5,878.5 607.0,878.6 607.5,878.8 608.0,878.8 608.5,881.0 609.0,879.8 609.5,879.3 610.0,879.7 610.5,878.3 611.0,879.3 611.5,880.1 612.0,880.2 612.5,880.0 613.0,882.1 613.5,881.9 614.0,880.4 614.5,879.5 615.0,880.0 615.5,879.0 616.0,880.3 616.5,878.9 617.0,882.0 617.5,876.8 618.0,879.8 618.5,879.2 619.0,879.8 619.5,879.1 620.0,879.7 620.5,879.3 621.0,879.1 621.5,880.4 622.0,877.8 622.5,880.0 623.0,878.7 623.5,879.0 624.0,878.9 624.5,878.4 625.0,878.5 625.5,880.4 626.0,878.4 626.5,879.5 627.0,875.5 627.5,878.3 628.0,878.5 628.5,877.9 629.0,876.8 629.5,878.6 630.0,878.4 630.5,877.7 631.0,876.7 631.5,878.5 632.0,878.3 632.5,878.4 633.0,878.3 633.5,877.2 634.0,877.8 634.5,877.6 635.0,877.5 635.5,877.6 636.0,878.0 636.5,881.2 637.0,877.7 637.5,877.6 638.0,878.0 638.5,878.0 639.0,877.7 639.5,878.1 640.0,878.1 640.5,878.4 641.0,877.2 641.5,878.2 642.0,877.8 642.5,878.9 643.0,878.2 643.5,878.7 644.0,878.7 644.5,877.5 645.0,876.8 645.5,878.6 646.0,876.6 646.5,879.7 647.0,878.5 647.5,878.1 648.0,878.5 648.5,877.3 649.0,878.5 649.5,879.5 650.0,874.8 650.5,879.7 651.0,878.0 651.5,878.2 652.0,879.8 652.5,879.0 653.0,878.2 653.5,880.6 654.0,876.6 654.5,878.7 655.0,878.5 655.5,879.5 656.0,876.3 656.5,878.3 657.0,878.6 657.5,877.3 658.0,878.9 658.5,879.5 659.0,879.8 659.5,877.9 660.0,878.7 660.5,881.1 661.0,877.4 661.5,879.1 662.0,878.4 662.5,880.0 663.0,879.0 663.5,879.9 664.0,877.3 664.5,879.1 665.0,878.8 665.5,877.9 666.0,878.8 666.5,879.4 667.0,879.1 667.5,879.2 668.0,878.7 668.5,879.1 669.0,879.0 669.5,880.3 670.0,880.1 670.5,879.1 671.0,879.2 671.5,878.8 672.0,879.3 672.5,878.3 673.0,881.1 673.5,879.2 674.0,876.6 674.5,879.0 675.0,880.9 675.5,879.0 676.0,879.2 676.5,881.4 677.0,879.9 677.5,879.1 678.0,878.6 678.5,879.2 679.0,879.1 679.5,880.4 680.0,879.3 680.5,880.5 681.0,881.7 681.5,880.1 682.0,879.1 682.5,879.0 683.0,879.3 683.5,879.5 684.0,880.0 684.5,879.8 685.0,878.8 685.5,879.5 686.0,878.9 686.5,879.6 687.0,876.6 687.5,879.8 688.0,879.4 688.5,878.2 689.0,878.5 689.5,878.7 690.0,879.0 690.5,880.1 691.0,880.8 691.5,879.1 692.0,877.9 692.5,881.0 693.0,880.6 693.5,877.7 694.0,879.1 694.5,879.1 695.0,879.1 695.5,879.2 696.0,875.7 696.5,878.4 697.0,878.5 697.5,879.0 698.0,877.6 698.5,878.3 699.0,878.0 699.5,877.1 700.0,878.6 700.5,878.1 701.0,878.7 701.5,878.1 702.0,879.3 702.5,877.7 703.0,879.2 703.5,878.9 704.0,877.9 704.5,878.5 705.0,878.5 705.5,878.6 706.0,878.9 706.5,876.3 707.0,877.9 707.5,879.0 708.0,877.5 708.5,879.4 709.0,878.4 709.5,876.8 710.0,879.1 710.5,878.1 711.0,882.1 711.5,879.8 712.0,879.6 712.5,879.6 713.0,877.3 713.5,876.6 714.0,878.4 714.5,878.4 715.0,878.4 715.5,878.7 716.0,879.1 716.5,879.1 717.0,879.9 717.5,878.8 718.0,879.5 718.5,877.4 719.0,876.5 719.5,878.5 720.0,879.5 720.5,878.3 721.0,877.5 721.5,877.6 722.0,878.0 722.5,879.4 723.0,878.2 723.5,879.3 724.0,879.9 724.5,879.0 725.0,879.7 725.5,878.0 726.0,877.8 726.5,878.0 727.0,876.2 727.5,879.8 728.0,877.9 728.5,878.6 729.0,878.1 729.5,878.5 730.0,878.3 730.5,878.8 731.0,877.8 731.5,878.1 732.0,877.6 732.5,878.1 733.0,879.2 733.5,880.2 734.0,876.0 734.5,879.3 735.0,879.1 735.5,877.5 736.0,878.1 736.5,879.9 737.0,878.5 737.5,880.4 738.0,879.5 738.5,881.9 739.0,879.7 739.5,878.9 740.0,880.1 740.5,879.9 741.0,878.8 741.5,880.9 742.0,881.2 742.5,881.9 743.0,880.3 743.5,880.2 744.0,879.4 744.5,881.8 745.0,880.4 745.5,880.3 746.0,880.3 746.5,880.7 747.0,879.7 747.5,878.9 748.0,882.6 748.5,878.0 749.0,879.4 749.5,879.8 750.0,878.1 750.5,879.4 751.0,880.6 751.5,879.9 752.0,879.8 752.5,877.4 753.0,879.5 753.5,878.6 754.0,879.4 754.5,879.4 755.0,879.4 755.5,879.2 756.0,880.0 756.5,879.4 757.0,880.6 757.5,879.1 758.0,878.5 758.5,879.1 759.0,880.2 759.5,879.1 760.0,880.0 760.5,879.6 761.0,878.8 761.5,878.5 762.0,878.2 762.5,879.1 763.0,879.4 763.5,878.7 764.0,880.7 764.5,876.6 765.0,879.6 765.5,878.3 766.0,882.5 766.5,877.8 767.0,880.2 767.5,878.7 768.0,878.5 768.5,877.1 769.0,878.3 769.5,878.6 770.0,880.1 770.5,880.6 771.0,877.5 771.5,878.8 772.0,876.8 772.5,877.6 773.0,878.8 773.5,878.6 774.0,879.6 774.5,879.6 775.0,877.7 775.5,878.7 776.0,879.1 776.5,879.0 777.0,878.5 777.5,878.4 778.0,878.5 778.5,878.2 779.0,878.4 779.5,879.4 780.0,878.1 780.5,878.2 781.0,878.2 781.5,879.2 782.0,877.8 782.5,878.1 783.0,878.7 783.5,878.0 784.0,879.0 784.5,878.2 785.0,877.1 785.5,877.9 786.0,877.3 786.5,878.0 787.0,877.9 787.5,877.8 788.0,878.8 788.5,879.1 789.0,878.5 789.5,878.5 790.0,879.0 790.5,879.3 791.0,877.4 791.5,879.2 792.0,877.4 792.5,877.8 793.0,878.8 793.5,877.4 794.0,880.1 794.5,879.7 795.0,874.9 795.5,878.6 796.0,879.7 796.5,878.6 797.0,878.6 797.5,878.7 798.0,878.7 798.5,878.8 799.0,879.0 799.5,880.4 800.0,877.5 800.5,878.3 801.0,875.8 801.5,877.5 802.0,878.3 802.5,880.1 803.0,878.7 803.5,879.2 804.0,878.8 804.5,881.6 805.0,878.5 805.5,879.0 806.0,879.0 806.5,878.7 807.0,878.0 807.5,879.2 808.0,878.8 808.5,877.3 809.0,880.4 809.5,879.2 810.0,877.0 810.5,879.7 811.0,879.6 811.5,880.0 812.0,879.5 812.5,878.9 813.0,880.0 813.5,879.6 814.0,880.8 814.5,879.6 815.0,879.4 815.5,879.3 816.0,879.5 816.5,879.5 817.0,880.1 817.5,879.9 818.0,882.0 818.5,879.6 819.0,881.6 819.5,880.0 820.0,880.3 820.5,882.0 821.0,880.9 821.5,881.9 822.0,880.5 822.5,880.2 823.0,880.8 823.5,880.9 824.0,878.9 824.5,879.6 825.0,882.2 825.5,881.1 826.0,881.5 826.5,880.1 827.0,882.8 827.5,880.5 828.0,880.0 828.5,880.7 829.0,880.7 829.5,879.6 830.0,881.9 830.5,882.0 831.0,880.5 831.5,881.2 832.0,882.1 832.5,881.1 833.0,881.3 833.5,880.8 834.0,881.1 834.5,880.8 835.0,881.7 835.5,880.2 836.0,879.1 836.5,881.9 837.0,880.0 837.5,880.7 838.0,881.0 838.5,880.2 839.0,881.8 839.5,880.1 840.0,879.7 840.5,878.9 841.0,881.3 841.5,879.5 842.0,881.1 842.5,879.9 843.0,881.2 843.5,878.6 844.0,880.6 844.5,881.8 845.0,880.0 845.5,878.6 846.0,883.0 846.5,880.0 847.0,878.7 847.5,881.1 848.0,878.0 848.5,878.2 849.0,876.6 849.5,879.1 850.0,878.7 850.5,877.6 851.0,878.6 851.5,879.4 852.0,877.1 852.5,878.2 853.0,877.1 853.5,877.7 854.0,877.2 854.5,876.9 855.0,874.6 855.5,877.0 856.0,876.6 856.5,876.8 857.0,875.6 857.5,878.4 858.0,873.7 858.5,875.1 859.0,875.7 859.5,874.4 860.0,874.9 860.5,875.7 861.0,876.5 861.5,877.3 862.0,876.4 862.5,877.4 863.0,875.4 863.5,878.8 864.0,878.4 864.5,879.6 865.0,878.2 865.5,878.9 866.0,879.5 866.5,877.1 867.0,880.0 867.5,879.6 868.0,879.9 868.5,878.7 869.0,880.1 869.5,879.7 870.0,878.9 870.5,878.9 871.0,880.8 871.5,879.9 872.0,879.7 872.5,880.0 873.0,880.6 873.5,879.5 874.0,879.7 874.5,880.8 875.0,881.7 875.5,881.0 876.0,882.3 876.5,880.5 877.0,880.5 877.5,880.5 878.0,880.4 878.5,880.1 879.0,881.0 879.5,879.9 880.0,880.1 880.5,880.0 881.0,883.3 881.5,879.6 882.0,880.1 882.5,879.4 883.0,880.2 883.5,879.3 884.0,877.3 884.5,879.3 885.0,878.9 885.5,878.7 886.0,878.6 886.5,875.4 887.0,879.2 887.5,878.7 888.0,878.8 888.5,878.6 889.0,878.2 889.5,878.3 890.0,878.4 890.5,879.7 891.0,878.3 891.5,877.8 892.0,877.5 892.5,878.5 893.0,879.0 893.5,879.1 894.0,879.5 894.5,879.4 895.0,878.0 895.5,879.1 896.0,879.2 896.5,878.5 897.0,879.7 897.5,880.2 898.0,878.1 898.5,879.8 899.0,878.9 899.5,880.5 900.0,880.1 900.5,878.8 901.0,880.2 901.5,879.8 902.0,879.8 902.5,880.7 903.0,880.4 903.5,881.9 904.0,881.9 904.5,881.6 905.0,880.7 905.5,882.0 906.0,879.5 906.5,881.4 907.0,880.6 907.5,881.7 908.0,878.8 908.5,880.8 909.0,879.3 909.5,880.3 910.0,880.7 910.5,879.7 911.0,880.9 911.5,880.5 912.0,880.0 912.5,880.5 913.0,880.4 913.5,878.6 914.0,880.7 914.5,880.7 915.0,881.5 915.5,881.7 916.0,880.1 916.5,880.5 917.0,880.4 917.5,878.7 918.0,880.5 918.5,879.7 919.0,880.0 919.5,880.2 920.0,880.0 920.5,879.6 921.0,880.9 921.5,878.8 922.0,880.1 922.5,879.2 923.0,881.1 923.5,881.2 924.0,880.2 924.5,880.7 925.0,880.2 925.5,880.0 926.0,880.1 926.5,880.8 927.0,879.0 927.5,880.0 928.0,878.9 928.5,879.5 929.0,879.2 929.5,879.7 930.0,879.7 930.5,880.5 931.0,880.1 931.5,878.0 932.0,878.6 932.5,877.7 933.0,879.6 933.5,879.0 934.0,881.2 934.5,878.4 935.0,880.5 935.5,879.1 936.0,878.9 936.5,878.4 937.0,879.0 937.5,877.3 938.0,878.6 938.5,878.4 939.0,877.4 939.5,877.4 940.0,876.4 940.5,876.7 941.0,876.6 941.5,876.0 942.0,874.5 942.5,877.5 943.0,876.2 943.5,875.0 944.0,874.9 944.5,874.6 945.0,875.8 945.5,873.8 946.0,873.8 946.5,873.6 947.0,871.6 947.5,872.4 948.0,873.2 948.5,872.4 949.0,873.6 949.5,872.1 950.0,874.0 950.5,873.6 951.0,875.6 951.5,875.8 952.0,875.6 952.5,876.5 953.0,876.9 953.5,878.8 954.0,878.0 954.5,877.1 955.0,878.9 955.5,877.2 956.0,879.0 956.5,880.4 957.0,880.8 957.5,879.5 958.0,880.6 958.5,880.5 959.0,880.4 959.5,880.7 960.0,879.0 960.5,878.9 961.0,880.2 961.5,881.1 962.0,882.1 962.5,881.1 963.0,879.4 963.5,881.3 964.0,881.3 964.5,881.4 965.0,881.0 965.5,880.1 966.0,880.5 966.5,880.4 967.0,878.7 967.5,880.5 968.0,880.0 968.5,882.0 969.0,880.7 969.5,881.0 970.0,878.5 970.5,880.7 971.0,880.9 971.5,880.2 972.0,879.8 972.5,880.2 973.0,880.3 973.5,880.1 974.0,879.9 974.5,880.4 975.0,881.2 975.5,879.7 976.0,881.1 976.5,878.6 977.0,880.4 977.5,879.8 978.0,880.0 978.5,879.8 979.0,878.7 979.5,879.2 980.0,882.4 980.5,879.8 981.0,881.4 981.5,879.9 982.0,880.9 982.5,879.7 983.0,882.5 983.5,879.7 984.0,879.3 984.5,879.0 985.0,878.4 985.5,878.7 986.0,880.0 986.5,879.4 987.0,880.6 987.5,879.0 988.0,881.0 988.5,878.9 989.0,879.1 989.5,879.3 990.0,879.1 990.5,879.4 991.0,880.1 991.5,878.2 992.0,879.1 992.5,878.0 993.0,880.1 993.5,878.6 994.0,879.6 994.5,880.5 995.0,879.3 995.5,878.6 996.0,879.2 996.5,881.1 997.0,878.5 997.5,880.5 998.0,878.7 998.5,878.9 999.0,880.2 999.5,879.9 1000.0,879.4 1000.5,880.1 1001.0,878.9 1001.5,880.7 1002.0,879.9 1002.5,881.3 1003.0,879.9 1003.5,879.9 1004.0,880.6 1004.5,879.9 1005.0,878.4 1005.5,879.5 1006.0,878.7 1006.5,879.1 1007.0,882.1 1007.5,878.6 1008.0,878.9 1008.5,877.7 1009.0,875.2 1009.5,875.9 1010.0,875.1 1010.5,876.5 1011.0,876.5 1011.5,876.3 1012.0,876.7 1012.5,876.8 1013.0,876.8 1013.5,876.6 1014.0,876.8 1014.5,876.2 1015.0,875.7 1015.5,875.5 1016.0,874.2 1016.5,872.9 1017.0,876.1 1017.5,874.3 1018.0,875.8 1018.5,874.7 1019.0,873.3 1019.5,875.3 1020.0,874.8 1020.5,877.8 1021.0,874.2 1021.5,875.4 1022.0,874.1 1022.5,873.7 1023.0,874.1 1023.5,874.7 1024.0,875.5 1024.5,875.3 1025.0,876.1 1025.5,874.9 1026.0,874.9 1026.5,875.1 1027.0,876.6 1027.5,875.1 1028.0,874.0 1028.5,875.4 1029.0,875.9 1029.5,876.5 1030.0,877.4 1030.5,876.3 1031.0,876.8 1031.5,876.9 1032.0,876.9 1032.5,876.3 1033.0,877.5 1033.5,877.0 1034.0,873.0 1034.5,874.7 1035.0,878.4 1035.5,875.8 1036.0,874.5 1036.5,876.4 1037.0,874.0 1037.5,875.1 1038.0,874.8 1038.5,874.4 1039.0,874.2 1039.5,873.4 1040.0,874.3 1040.5,873.4 1041.0,874.9 1041.5,874.6 1042.0,875.7 1042.5,876.8 1043.0,876.6 1043.5,876.3 1044.0,876.7 1044.5,875.2 1045.0,878.5 1045.5,876.9 1046.0,877.1 1046.5,877.6 1047.0,876.9 1047.5,877.7 1048.0,877.1 1048.5,879.5 1049.0,878.5 1049.5,877.8 1050.0,880.9 1050.5,879.3 1051.0,879.6 1051.5,879.7 1052.0,879.3 1052.5,878.9 1053.0,878.5 1053.5,877.3 1054.0,878.9 1054.5,877.7 1055.0,878.4 1055.5,879.6 1056.0,879.6 1056.5,879.1 1057.0,877.7 1057.5,879.7 1058.0,877.4 1058.5,879.4 1059.0,878.5 1059.5,879.9 1060.0,880.3 1060.5,877.9 1061.0,877.5 1061.5,879.0 1062.0,877.4 1062.5,877.3 1063.0,877.7 1063.5,876.6 1064.0,877.4 1064.5,876.5 1065.0,877.3 1065.5,878.6 1066.0,878.8 1066.5,879.4 1067.0,878.2 1067.5,878.4 1068.0,878.0 1068.5,879.3 1069.0,877.4 1069.5,877.7 1070.0,877.6 1070.5,878.6 1071.0,877.4 1071.5,879.3 1072.0,878.4 1072.5,879.5 1073.0,879.4 1073.5,879.8 1074.0,879.9 1074.5,880.3 1075.0,879.8 1075.5,880.1 1076.0,879.6 1076.5,880.2 1077.0,879.2 1077.5,882.1 1078.0,881.9 1078.5,879.4 1079.0,878.2 1079.5,880.7 1080.0,880.9 1080.5,880.8 1081.0,880.6 1081.5,881.0 1082.0,880.7 1082.5,880.7 1083.0,878.9 1083.5,880.9 1084.0,879.5 1084.5,881.6 1085.0,880.7 1085.5,880.5 1086.0,880.9 1086.5,881.7 1087.0,879.9 1087.5,880.5 1088.0,882.6 1088.5,881.5 1089.0,880.4 1089.5,880.3 1090.0,881.2 1090.5,879.3 1091.0,879.5 1091.5,880.6 1092.0,880.6 1092.5,880.6 1093.0,881.0 1093.5,881.4 1094.0,880.3 1094.5,880.1 1095.0,881.2 1095.5,879.9 1096.0,881.3 1096.5,880.7 1097.0,881.1 1097.5,880.5 1098.0,879.2 1098.5,880.6 1099.0,880.2 1099.5,879.6 1100.0,879.1 1100.5,879.8 1101.0,879.2 1101.5,879.3 1102.0,880.9 1102.5,881.7 1103.0,883.2 1103.5,880.2 1104.0,880.2 1104.5,878.6 1105.0,879.1 1105.5,880.6 1106.0,880.1 1106.5,880.1 1107.0,880.5 1107.5,880.6 1108.0,880.3 1108.5,877.3 1109.0,880.0 1109.5,880.6 1110.0,880.6 1110.5,881.4 1111.0,879.9 1111.5,879.9 1112.0,877.8 1112.5,879.8 1113.0,879.8 1113.5,880.9 1114.0,880.6 1114.5,878.1 1115.0,878.6 1115.5,879.2 1116.0,879.8 1116.5,878.5 1117.0,879.7 1117.5,879.2 1118.0,879.9 1118.5,878.7 1119.0,878.7 1119.5,877.3 1120.0,878.7 1120.5,879.2 1121.0,878.6 1121.5,878.5 1122.0,879.6 1122.5,878.9 1123.0,878.0 1123.5,879.7 1124.0,878.5 1124.5,877.7 1125.0,877.4 1125.5,878.2 1126.0,877.8 1126.5,877.9 1127.0,876.8 1127.5,878.1 1128.0,878.4 1128.5,877.4 1129.0,877.1 1129.5,879.3 1130.0,879.4 1130.5,876.5 1131.0,877.5 1131.5,877.4 1132.0,877.2 1132.5,877.7 1133.0,878.0 1133.5,877.5 1134.0,877.5 1134.5,878.7 1135.0,878.2 1135.5,877.6 1136.0,877.3 1136.5,877.9 1137.0,879.6 1137.5,878.9 1138.0,877.7 1138.5,878.5 1139.0,875.3 1139.5,879.6 1140.0,880.0 1140.5,878.0 1141.0,878.4 1141.5,878.3 1142.0,878.1 1142.5,879.1 1143.0,878.7 1143.5,875.8 1144.0,878.4 1144.5,879.3 1145.0,879.4 1145.5,876.9 1146.0,879.3 1146.5,879.5 1147.0,879.6 1147.5,879.6 1148.0,880.0 1148.5,879.2 1149.0,880.3 1149.5,879.5 1150.0,878.2 1150.5,879.9 1151.0,879.4 1151.5,879.9 1152.0,879.5 1152.5,879.7 1153.0,879.8 1153.5,880.1 1154.0,879.4 1154.5,880.1 1155.0,879.3 1155.5,880.5 1156.0,879.4 1156.5,878.6 1157.0,878.2 1157.5,880.1 1158.0,879.7 1158.5,880.1 1159.0,879.7 1159.5,880.0 1160.0,881.0 1160.5,881.4 1161.0,878.5 1161.5,881.7 1162.0,880.2 1162.5,880.7 1163.0,881.6 1163.5,879.6 1164.0,880.1 1164.5,881.3 1165.0,880.4 1165.5,881.4 1166.0,881.2 1166.5,883.9 1167.0,880.7 1167.5,879.1 1168.0,881.6 1168.5,879.9 1169.0,879.8 1169.5,880.4 1170.0,880.0 1170.5,879.8 1171.0,880.9 1171.5,881.8 1172.0,880.3 1172.5,880.5 1173.0,881.0 1173.5,880.4 1174.0,880.8 1174.5,882.0 1175.0,879.9 1175.5,880.9 1176.0,880.3 1176.5,881.5 1177.0,880.4 1177.5,881.7 1178.0,880.9 1178.5,882.4 1179.0,880.9 1179.5,881.1 1180.0,880.1 1180.5,880.8 1181.0,881.1 1181.5,882.3 1182.0,881.4 1182.5,881.9 1183.0,882.1 1183.5,880.2 1184.0,881.0 1184.5,882.1 1185.0,881.9 1185.5,881.5 1186.0,881.3 1186.5,881.5 1187.0,879.1 1187.5,880.6 1188.0,881.3 1188.5,880.7 1189.0,881.1 1189.5,882.2 1190.0,882.1 1190.5,882.0 1191.0,881.7 1191.5,882.9 1192.0,881.1 1192.5,881.8 1193.0,881.5 1193.5,883.1 1194.0,881.3 1194.5,881.1 1195.0,882.1 1195.5,882.3 1196.0,882.0 1196.5,882.2 1197.0,881.0 1197.5,881.8 1198.0,881.7 1198.5,882.8 1199.0,881.4 1199.5,881.1 1200.0,881.3 1200.5,881.6 1201.0,883.9 1201.5,881.9 1202.0,882.0 1202.5,881.6 1203.0,881.4 1203.5,882.9 1204.0,881.5 1204.5,880.7 1205.0,882.2 1205.5,881.0 1206.0,881.4 1206.5,881.8 1207.0,882.3 1207.5,878.7 1208.0,881.8 1208.5,880.7 1209.0,881.8 1209.5,881.8 1210.0,881.6 1210.5,881.5 1211.0,881.7 1211.5,883.3 1212.0,881.4 1212.5,881.6 1213.0,880.8 1213.5,881.4 1214.0,880.1 1214.5,882.8 1215.0,881.4 1215.5,883.0 1216.0,880.7 1216.5,881.9 1217.0,881.8 1217.5,881.9 1218.0,882.2 1218.5,880.2 1219.0,881.9 1219.5,879.4 1220.0,881.0 1220.5,882.1 1221.0,881.3 1221.5,882.5 1222.0,882.0 1222.5,881.0 1223.0,880.7 1223.5,880.4 1224.0,879.3 1224.5,881.3 1225.0,881.5 1225.5,879.2 1226.0,880.7 1226.5,881.4 1227.0,880.8 1227.5,880.4 1228.0,882.1 1228.5,880.4 1229.0,880.1 1229.5,880.4 1230.0,880.1 1230.5,880.1 1231.0,880.2 1231.5,878.9 1232.0,880.3 1232.5,880.2 1233.0,880.4 1233.5,879.5 1234.0,878.2 1234.5,880.2 1235.0,879.6 1235.5,880.0 1236.0,879.4 1236.5,879.6 1237.0,879.4 1237.5,879.8 1238.0,880.1 1238.5,879.4 1239.0,879.6 1239.5,879.8 1240.0,880.2 1240.5,879.7 1241.0,878.5 1241.5,880.0 1242.0,879.9 1242.5,883.4 1243.0,880.1 1243.5,878.4 1244.0,880.2 1244.5,878.8 1245.0,879.8 1245.5,878.2 1246.0,880.2 1246.5,879.3 1247.0,881.5 1247.5,879.4 1248.0,881.9 1248.5,881.3 1249.0,880.1 1249.5,880.1 1250.0,880.0 1250.5,880.6 1251.0,879.5 1251.5,879.9 1252.0,878.7 1252.5,880.1 1253.0,879.5 1253.5,881.4 1254.0,880.1 1254.5,879.5 1255.0,879.6 1255.5,879.2 1256.0,878.7 1256.5,878.3 1257.0,880.1 1257.5,878.6 1258.0,880.4 1258.5,881.4 1259.0,880.7 1259.5,878.7 1260.0,879.9 1260.5,879.4 1261.0,880.7 1261.5,878.8 1262.0,879.2 1262.5,879.2 1263.0,878.3 1263.5,879.0 1264.0,879.2 1264.5,879.4 1265.0,879.5 1265.5,876.6 1266.0,879.0 1266.5,878.2 1267.0,878.9 1267.5,877.5 1268.0,878.1 1268.5,878.1 1269.0,878.5 1269.5,878.2 1270.0,878.7 1270.5,875.0 1271.0,877.5 1271.5,878.2 1272.0,877.2 1272.5,878.4 1273.0,877.3 1273.5,877.8 1274.0,876.0 1274.5,878.6 1275.0,876.3 1275.5,877.2 1276.0,877.2 1276.5,877.2 1277.0,877.6 1277.5,877.7 1278.0,878.3 1278.5,879.7 1279.0,878.5 1279.5,878.3 1280.0,877.4 1280.5,877.5 1281.0,875.7 1281.5,877.1 1282.0,878.9 1282.5,876.9 1283.0,878.0 1283.5,878.4 1284.0,877.8 1284.5,878.4 1285.0,878.3 1285.5,878.7 1286.0,878.2 1286.5,877.0 1287.0,880.2 1287.5,879.6 1288.0,879.7 1288.5,878.8 1289.0,880.8 1289.5,880.2 1290.0,879.4 1290.5,879.2 1291.0,880.3 1291.5,877.6 1292.0,880.0 1292.5,880.8 1293.0,881.2 1293.5,881.4 1294.0,880.1 1294.5,877.9 1295.0,880.1 1295.5,880.0 1296.0,880.6 1296.5,881.0 1297.0,882.8 1297.5,880.3 1298.0,880.3 1298.5,879.3 1299.0,881.2 1299.5,880.5 1300.0,879.9 1300.5,880.4 1301.0,880.4 1301.5,881.0 1302.0,879.8 1302.5,880.3 1303.0,880.2 1303.5,879.2 1304.0,879.4 1304.5,879.7 1305.0,880.1 1305.5,880.2 1306.0,880.6 1306.5,881.3 1307.0,878.9 1307.5,882.0 1308.0,879.9 1308.5,880.6 1309.0,879.7 1309.5,880.4 1310.0,880.2 1310.5,877.7 1311.0,880.8 1311.5,878.2 1312.0,879.8 1312.5,879.2 1313.0,879.9 1313.5,879.1 1314.0,879.9 1314.5,880.2 1315.0,879.8 1315.5,880.4 1316.0,879.4 1316.5,879.9 1317.0,879.5 1317.5,880.7 1318.0,878.4 1318.5,880.4 1319.0,877.0 1319.5,880.3 1320.0,878.2 1320.5,879.7 1321.0,878.3 1321.5,879.9 1322.0,878.8 1322.5,878.0 1323.0,880.2 1323.5,879.3 1324.0,880.0 1324.5,879.8 1325.0,878.1 1325.5,878.2 1326.0,879.7 1326.5,880.2 1327.0,878.7 1327.5,880.4 1328.0,877.5 1328.5,880.0 1329.0,879.8 1329.5,879.4 1330.0,879.4 1330.5,879.3 1331.0,879.7 1331.5,879.7 1332.0,879.0 1332.5,877.4 1333.0,879.9 1333.5,879.2 1334.0,878.8 1334.5,879.5 1335.0,879.1 1335.5,880.9 1336.0,879.7 1336.5,880.3 1337.0,877.5 1337.5,880.4 1338.0,881.8 1338.5,880.7 1339.0,880.8 1339.5,880.2 1340.0,880.3 1340.5,881.5 1341.0,879.9 1341.5,880.5 1342.0,880.9 1342.5,880.3 1343.0,880.5 1343.5,878.8 1344.0,880.9 1344.5,879.9 1345.0,880.3 1345.5,880.2 1346.0,881.2 1346.5,880.7 1347.0,883.8 1347.5,881.5 1348.0,882.2 1348.5,881.3 1349.0,880.5 1349.5,880.7 1350.0,880.8 1350.5,880.5 1351.0,881.1 1351.5,881.8 1352.0,881.2" fill="none" stroke="#ff00ff" stroke-width="1.75" stroke-linejoin="round"/>
<rect x="145" y="21.5" width="1207.3" height="896.0" fill="none" stroke="#000" stroke-width="3.4" stroke-linejoin="round"/>
<path d="M145.00,919.0V935.7 M231.24,919.0V926.8 M317.47,919.0V935.7 M403.71,919.0V926.8 M489.94,919.0V935.7 M576.18,919.0V926.8 M662.41,919.0V935.7 M748.65,919.0V926.8 M834.89,919.0V935.7 M921.12,919.0V926.8 M1007.36,919.0V935.7 M1093.59,919.0V926.8 M1179.83,919.0V935.7 M1266.06,919.0V926.8 M1352.30,919.0V935.7" stroke="#000" stroke-width="3.4" stroke-linecap="round" fill="none"/>
<text class="ss" transform="translate(145.00,977.6) scale(0.91,1)" font-size="41.8" text-anchor="middle">20</text>
<text class="ss" transform="translate(317.47,977.6) scale(0.91,1)" font-size="41.8" text-anchor="middle">30</text>
<text class="ss" transform="translate(489.94,977.6) scale(0.91,1)" font-size="41.8" text-anchor="middle">40</text>
<text class="ss" transform="translate(662.41,977.6) scale(0.91,1)" font-size="41.8" text-anchor="middle">50</text>
<text class="ss" transform="translate(834.89,977.6) scale(0.91,1)" font-size="41.8" text-anchor="middle">60</text>
<text class="ss" transform="translate(1007.36,977.6) scale(0.91,1)" font-size="41.8" text-anchor="middle">70</text>
<text class="ss" transform="translate(1179.83,977.6) scale(0.91,1)" font-size="41.8" text-anchor="middle">80</text>
<text class="ss" transform="translate(1352.30,977.6) scale(0.91,1)" font-size="41.8" text-anchor="middle">90</text>
<text class="ss" x="636" y="1050.9" font-size="46" letter-spacing="0.2">2θ(degree)</text>
<text class="ss" transform="translate(59.7,587.2) rotate(-90)" x="0" y="0" font-size="46">Intensity</text>
<defs><path id="one" d="M-5.9,0H5.9V-1.25C3.1,-1.45 2.1,-2.1 2.1,-3.9V-31.6H0.9L-6.3,-28.7V-27.35C-4.2,-28.2 -2.1,-28.35 -2.1,-26.4V-3.9C-2.1,-2.1 -3.1,-1.45 -5.9,-1.25Z"/><path id="two" d="M2.8,-23.2 C3.6,-28.4 7.4,-31.7 11.8,-31.7 C16.9,-31.7 20.4,-27.9 20.4,-22.8 C20.4,-18.4 18.0,-15.0 14.2,-10.9 L6.9,-3.6 L18.4,-3.6 C19.7,-3.6 20.6,-4.4 21.3,-5.9 L22.0,-5.6 L19.7,0 L2.1,0 L2.1,-0.7 L12.0,-11.4 C15.2,-14.9 16.6,-18.0 16.6,-21.3 C16.6,-25.4 14.2,-28.3 10.4,-28.3 C7.5,-28.3 5.2,-26.6 3.7,-22.9 Z"/><path id="three" d="M3.0,-24.6 C4.8,-28.6 7.6,-30.4 10.8,-30.4 C15.6,-30.4 19.0,-28.0 19.0,-24.6 C19.0,-21.8 17.6,-19.6 15.4,-18.0 C19.0,-16.4 20.8,-13.4 20.8,-9.8 C20.8,-3.6 16.2,0.3 10.0,0.3 C6.2,0.3 3.0,-0.6 3.0,-2.2 C3.0,-3.2 3.8,-3.7 4.7,-3.7 C6.0,-3.7 7.6,-1.6 10.0,-1.6 C14.6,-1.6 17.3,-5.0 17.3,-9.4 C17.3,-12.8 14.6,-14.8 10.0,-14.8 C9.2,-14.8 8.6,-14.9 8.2,-15.0 L8.2,-16.2 C12.6,-17.0 14.9,-20.4 14.9,-24.0 C14.9,-26.6 13.0,-28.0 10.4,-28.0 C7.6,-28.0 5.6,-26.6 3.6,-24.2 Z"/></defs>
<use href="#one" x="396.85" y="288.90"/>
<use href="#two" x="425.00" y="288.90"/>
<use href="#two" x="446.40" y="288.90"/>
<use href="#one" x="484.20" y="220.20"/>
<use href="#one" x="498.95" y="263.50"/>
<use href="#two" x="509.65" y="256.40"/>
<use href="#two" x="530.25" y="272.20"/>
<use href="#one" x="574.85" y="284.90"/>
<use href="#two" x="937.60" y="290.90"/>
<use href="#one" x="1029.50" y="284.90"/>
<use href="#one" x="399.10" y="474.20"/>
<use href="#one" x="487.90" y="355.70"/>
<use href="#three" x="499.00" y="397.40"/>
<use href="#one" x="512.50" y="455.60"/>
<use href="#two" x="527.00" y="470.30"/>
<use href="#one" x="585.70" y="488.90"/>
<use href="#three" x="471.00" y="523.40"/>
<use href="#two" x="770.95" y="488.70"/>
<use href="#one" x="1044.98" y="477.60"/>
<use href="#one" x="483.65" y="580.30"/>
<use href="#one" x="511.80" y="669.10"/>
<use href="#two" x="522.75" y="685.80"/>
<use href="#one" x="583.45" y="691.80"/>
<use href="#three" x="770.95" y="689.30"/>
<use href="#one" x="1033.25" y="687.00"/>
<use href="#one" x="406.00" y="858.60"/>
<use href="#two" x="421.40" y="860.50"/>
<use href="#two" x="443.30" y="854.60"/>
<use href="#three" x="442.65" y="798.20"/>
<use href="#three" x="468.80" y="811.20"/>
<use href="#two" x="490.00" y="819.80"/>
<use href="#one" x="523.80" y="819.40"/>
<use href="#two" x="527.30" y="822.60"/>
<use href="#three" x="527.20" y="766.70"/>
<use href="#one" x="583.45" y="858.75"/>
<use href="#two" x="846.95" y="805.60"/>
<use href="#one" x="859.40" y="863.10"/>
<use href="#two" x="935.25" y="865.00"/>
<use href="#one" x="1014.95" y="860.60"/>
<text class="sf" x="1176.8" y="279.9">coating</text>
<use href="#one" x="1324.95" y="279.90"/>
<text class="sf" x="1180.1" y="484.8">coating</text>
<use href="#two" x="1315.40" y="484.50"/>
<text class="sf" x="1182.7" y="673.0">coating</text>
<use href="#three" x="1318.40" y="672.20"/>
<text class="sf" x="1180.1" y="844.6">coating</text>
<text class="sf" x="1315.5" y="844.6">4</text>
<use href="#one" x="754.50" y="133.60"/>
<text class="sf" x="766" y="133.6">-Ti</text>
<use href="#two" transform="translate(821.17,149.20) scale(0.5870)"/>
<text class="sf" x="835" y="133.6">Ni</text>
<use href="#two" x="916.00" y="133.60"/>
<text class="sf" x="939" y="133.6">-Ti</text>
<text class="sf" x="997" y="149.4" style="font-size:27px">5</text>
<text class="sf" x="1012" y="133.6">Si</text>
<use href="#three" transform="translate(1048.54,149.20) scale(0.5870)"/>
<use href="#three" x="1096.40" y="133.30"/>
<text class="sf" x="1120" y="133.6">-TiSi</text>
<use href="#two" transform="translate(1216.17,149.40) scale(0.5870)"/>
</svg></body></html>
